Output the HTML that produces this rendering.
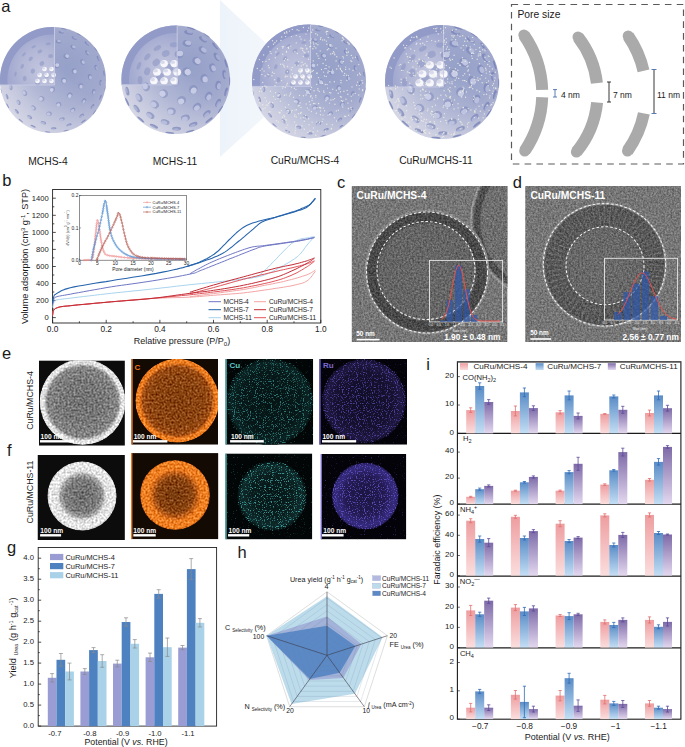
<!DOCTYPE html>
<html><head><meta charset="utf-8"><style>
html,body{margin:0;padding:0;background:#fff;overflow:hidden;}
svg{display:block;font-family:"Liberation Sans",sans-serif;}
</style></head><body>
<svg width="685" height="747" viewBox="0 0 685 747" font-family="Liberation Sans, sans-serif">
<rect width="685" height="747" fill="#fff"/>
<defs>
<radialGradient id="sph" cx="0.45" cy="0.45" r="0.6">
 <stop offset="0" stop-color="#8f9ccc"/><stop offset="0.7" stop-color="#a3acd4"/><stop offset="1" stop-color="#c4c8e0"/>
</radialGradient>
<linearGradient id="tri" x1="0" y1="0" x2="1" y2="0">
 <stop offset="0" stop-color="#edf3fa"/><stop offset="1" stop-color="#f7fafd"/>
</linearGradient>
<linearGradient id="gp" x1="0" y1="0" x2="0" y2="1"><stop offset="0" stop-color="#ee9d9f"/><stop offset="1" stop-color="#fbdede"/></linearGradient>
<linearGradient id="gb" x1="0" y1="0" x2="0" y2="1"><stop offset="0" stop-color="#5a8cc6"/><stop offset="1" stop-color="#c4def4"/></linearGradient>
<linearGradient id="gv" x1="0" y1="0" x2="0" y2="1"><stop offset="0" stop-color="#7d6aa8"/><stop offset="1" stop-color="#e3d8ef"/></linearGradient>
<filter id="noise" x="0" y="0" width="1" height="1"><feTurbulence type="fractalNoise" baseFrequency="0.9" numOctaves="2" seed="4"/><feColorMatrix type="saturate" values="0"/><feComponentTransfer><feFuncA type="linear" slope="0.5"/></feComponentTransfer></filter>
</defs>
<text x="1.2" y="11.8" font-size="16.5" text-anchor="start" fill="#1a1a1a" font-weight="normal" >a</text>
<path d="M220,0 L305,80 L220,157 Z" fill="url(#tri)"/>
<radialGradient id="sph2" cx="0.62" cy="0.4" r="0.78" fx="0.64" fy="0.38">
 <stop offset="0" stop-color="#96a1c9"/><stop offset="0.45" stop-color="#a1a9cd"/><stop offset="0.8" stop-color="#bdc0d8"/><stop offset="1" stop-color="#d6d6e4"/>
</radialGradient>
<linearGradient id="sphl" x1="0.1" y1="0.9" x2="0.6" y2="0.4">
 <stop offset="0" stop-color="#f2f2f6" stop-opacity="0.45"/><stop offset="1" stop-color="#f2f2f6" stop-opacity="0"/>
</linearGradient>
<radialGradient id="inner" cx="0.7" cy="0.7" r="0.7">
 <stop offset="0" stop-color="#c2c5de"/><stop offset="0.6" stop-color="#b2b7d6"/><stop offset="1" stop-color="#a2a9d0"/>
</radialGradient>
<clipPath id="sc1"><circle cx="53" cy="80" r="53"/></clipPath>
<circle cx="53" cy="80" r="53" fill="url(#sph2)"/>
<circle cx="53" cy="80" r="53" fill="url(#sphl)"/>
<path d="M54.5,85 L0.2,85 A53,53 0 0 1 54.5,27.0 Z" fill="#929bc7"/>
<path d="M54.5,85 L7.7,85 A45.58,45.58 0 0 1 54.5,34.4 Z" fill="url(#inner)"/>
<ellipse cx="47.7" cy="131.9" rx="0.48" ry="2.80" transform="rotate(96 47.7 131.9)" fill="#6f7bb3" fill-opacity="0.76"/>
<ellipse cx="48.2" cy="132.5" rx="0.34" ry="1.96" transform="rotate(96 47.7 131.9)" fill="#d2d6ec" fill-opacity="0.15"/>
<ellipse cx="66.1" cy="130.5" rx="0.49" ry="2.80" transform="rotate(76 66.1 130.5)" fill="#6f7bb3" fill-opacity="0.76"/>
<ellipse cx="66.6" cy="131.1" rx="0.34" ry="1.96" transform="rotate(76 66.1 130.5)" fill="#d2d6ec" fill-opacity="0.16"/>
<ellipse cx="53.8" cy="128.4" rx="1.14" ry="2.80" transform="rotate(89 53.8 128.4)" fill="#6f7bb3" fill-opacity="0.65"/>
<ellipse cx="54.4" cy="129.0" rx="0.80" ry="1.96" transform="rotate(89 53.8 128.4)" fill="#d2d6ec" fill-opacity="0.37"/>
<ellipse cx="33.1" cy="126.3" rx="0.87" ry="2.80" transform="rotate(113 33.1 126.3)" fill="#6f7bb3" fill-opacity="0.69"/>
<ellipse cx="33.7" cy="126.8" rx="0.61" ry="1.96" transform="rotate(113 33.1 126.3)" fill="#d2d6ec" fill-opacity="0.28"/>
<ellipse cx="69.0" cy="124.9" rx="1.23" ry="2.80" transform="rotate(70 69.0 124.9)" fill="#6f7bb3" fill-opacity="0.63"/>
<ellipse cx="69.6" cy="125.4" rx="0.86" ry="1.96" transform="rotate(70 69.0 124.9)" fill="#d2d6ec" fill-opacity="0.39"/>
<ellipse cx="43.4" cy="122.8" rx="1.57" ry="2.80" transform="rotate(103 43.4 122.8)" fill="#6f7bb3" fill-opacity="0.57"/>
<ellipse cx="43.9" cy="123.3" rx="1.10" ry="1.96" transform="rotate(103 43.4 122.8)" fill="#d2d6ec" fill-opacity="0.51"/>
<ellipse cx="83.5" cy="121.3" rx="0.68" ry="2.80" transform="rotate(54 83.5 121.3)" fill="#6f7bb3" fill-opacity="0.73"/>
<ellipse cx="84.1" cy="121.9" rx="0.48" ry="1.96" transform="rotate(54 83.5 121.3)" fill="#d2d6ec" fill-opacity="0.22"/>
<ellipse cx="20.9" cy="120.6" rx="0.60" ry="2.80" transform="rotate(128 20.9 120.6)" fill="#6f7bb3" fill-opacity="0.74"/>
<ellipse cx="21.5" cy="121.2" rx="0.42" ry="1.96" transform="rotate(128 20.9 120.6)" fill="#d2d6ec" fill-opacity="0.19"/>
<ellipse cx="62.0" cy="119.2" rx="1.82" ry="2.80" transform="rotate(77 62.0 119.2)" fill="#6f7bb3" fill-opacity="0.52"/>
<ellipse cx="62.5" cy="119.8" rx="1.28" ry="1.96" transform="rotate(77 62.0 119.2)" fill="#d2d6ec" fill-opacity="0.59"/>
<ellipse cx="29.7" cy="117.1" rx="1.58" ry="2.80" transform="rotate(122 29.7 117.1)" fill="#6f7bb3" fill-opacity="0.57"/>
<ellipse cx="30.3" cy="117.7" rx="1.10" ry="1.96" transform="rotate(122 29.7 117.1)" fill="#d2d6ec" fill-opacity="0.51"/>
<ellipse cx="81.7" cy="115.7" rx="1.41" ry="2.80" transform="rotate(51 81.7 115.7)" fill="#6f7bb3" fill-opacity="0.60"/>
<ellipse cx="82.2" cy="116.2" rx="0.99" ry="1.96" transform="rotate(51 81.7 115.7)" fill="#d2d6ec" fill-opacity="0.45"/>
<ellipse cx="49.1" cy="113.6" rx="2.16" ry="2.80" transform="rotate(97 49.1 113.6)" fill="#6f7bb3" fill-opacity="0.46"/>
<ellipse cx="49.6" cy="114.1" rx="1.51" ry="1.96" transform="rotate(97 49.1 113.6)" fill="#d2d6ec" fill-opacity="0.69"/>
<ellipse cx="94.4" cy="112.2" rx="0.41" ry="2.80" transform="rotate(38 94.4 112.2)" fill="#6f7bb3" fill-opacity="0.78"/>
<ellipse cx="95.0" cy="112.7" rx="0.28" ry="1.96" transform="rotate(38 94.4 112.2)" fill="#d2d6ec" fill-opacity="0.13"/>
<ellipse cx="16.8" cy="111.4" rx="1.19" ry="2.80" transform="rotate(139 16.8 111.4)" fill="#6f7bb3" fill-opacity="0.64"/>
<ellipse cx="17.4" cy="112.0" rx="0.84" ry="1.96" transform="rotate(139 16.8 111.4)" fill="#d2d6ec" fill-opacity="0.38"/>
<ellipse cx="72.8" cy="110.0" rx="2.06" ry="2.80" transform="rotate(57 72.8 110.0)" fill="#6f7bb3" fill-opacity="0.48"/>
<ellipse cx="73.3" cy="110.6" rx="1.44" ry="1.96" transform="rotate(57 72.8 110.0)" fill="#d2d6ec" fill-opacity="0.66"/>
<ellipse cx="33.5" cy="107.9" rx="2.15" ry="2.80" transform="rotate(125 33.5 107.9)" fill="#6f7bb3" fill-opacity="0.47"/>
<ellipse cx="34.1" cy="108.5" rx="1.50" ry="1.96" transform="rotate(125 33.5 107.9)" fill="#d2d6ec" fill-opacity="0.69"/>
<ellipse cx="92.5" cy="106.5" rx="1.23" ry="2.80" transform="rotate(34 92.5 106.5)" fill="#6f7bb3" fill-opacity="0.63"/>
<ellipse cx="93.1" cy="107.1" rx="0.86" ry="1.96" transform="rotate(34 92.5 106.5)" fill="#d2d6ec" fill-opacity="0.40"/>
<ellipse cx="7.7" cy="105.8" rx="0.50" ry="2.80" transform="rotate(150 7.7 105.8)" fill="#6f7bb3" fill-opacity="0.76"/>
<ellipse cx="8.3" cy="106.4" rx="0.35" ry="1.96" transform="rotate(150 7.7 105.8)" fill="#d2d6ec" fill-opacity="0.16"/>
<ellipse cx="58.6" cy="104.4" rx="2.47" ry="2.80" transform="rotate(77 58.6 104.4)" fill="#6f7bb3" fill-opacity="0.41"/>
<ellipse cx="59.2" cy="104.9" rx="1.73" ry="1.96" transform="rotate(77 58.6 104.4)" fill="#d2d6ec" fill-opacity="0.79"/>
<ellipse cx="18.6" cy="102.3" rx="1.78" ry="2.80" transform="rotate(147 18.6 102.3)" fill="#6f7bb3" fill-opacity="0.53"/>
<ellipse cx="19.2" cy="102.8" rx="1.24" ry="1.96" transform="rotate(147 18.6 102.3)" fill="#d2d6ec" fill-opacity="0.57"/>
<ellipse cx="83.9" cy="100.8" rx="1.99" ry="2.80" transform="rotate(34 83.9 100.8)" fill="#6f7bb3" fill-opacity="0.49"/>
<ellipse cx="84.4" cy="101.4" rx="1.39" ry="1.96" transform="rotate(34 83.9 100.8)" fill="#d2d6ec" fill-opacity="0.64"/>
<ellipse cx="41.7" cy="98.7" rx="2.55" ry="2.80" transform="rotate(121 41.7 98.7)" fill="#6f7bb3" fill-opacity="0.39"/>
<ellipse cx="42.3" cy="99.3" rx="1.79" ry="1.96" transform="rotate(121 41.7 98.7)" fill="#d2d6ec" fill-opacity="0.82"/>
<ellipse cx="100.6" cy="97.3" rx="0.83" ry="2.80" transform="rotate(20 100.6 97.3)" fill="#6f7bb3" fill-opacity="0.70"/>
<ellipse cx="101.1" cy="97.9" rx="0.58" ry="1.96" transform="rotate(20 100.6 97.3)" fill="#d2d6ec" fill-opacity="0.27"/>
<ellipse cx="7.1" cy="96.6" rx="1.09" ry="2.80" transform="rotate(160 7.1 96.6)" fill="#6f7bb3" fill-opacity="0.65"/>
<ellipse cx="7.7" cy="97.2" rx="0.77" ry="1.96" transform="rotate(160 7.1 96.6)" fill="#d2d6ec" fill-opacity="0.35"/>
<ellipse cx="69.8" cy="95.2" rx="2.53" ry="2.80" transform="rotate(42 69.8 95.2)" fill="#6f7bb3" fill-opacity="0.40"/>
<ellipse cx="70.3" cy="95.8" rx="1.77" ry="1.96" transform="rotate(42 69.8 95.2)" fill="#d2d6ec" fill-opacity="0.81"/>
<ellipse cx="24.8" cy="93.1" rx="2.27" ry="2.80" transform="rotate(155 24.8 93.1)" fill="#6f7bb3" fill-opacity="0.44"/>
<ellipse cx="25.4" cy="93.6" rx="1.59" ry="1.96" transform="rotate(155 24.8 93.1)" fill="#d2d6ec" fill-opacity="0.73"/>
<ellipse cx="93.6" cy="91.7" rx="1.69" ry="2.80" transform="rotate(16 93.6 91.7)" fill="#6f7bb3" fill-opacity="0.55"/>
<ellipse cx="94.2" cy="92.2" rx="1.18" ry="1.96" transform="rotate(16 93.6 91.7)" fill="#d2d6ec" fill-opacity="0.54"/>
<ellipse cx="1.3" cy="91.0" rx="0.20" ry="2.80" transform="rotate(168 1.3 91.0)" fill="#6f7bb3" fill-opacity="0.81"/>
<ellipse cx="1.8" cy="91.5" rx="0.14" ry="1.96" transform="rotate(168 1.3 91.0)" fill="#d2d6ec" fill-opacity="0.06"/>
<ellipse cx="52.3" cy="89.5" rx="2.75" ry="2.80" transform="rotate(94 52.3 89.5)" fill="#6f7bb3" fill-opacity="0.36"/>
<ellipse cx="52.8" cy="90.1" rx="1.93" ry="1.96" transform="rotate(94 52.3 89.5)" fill="#d2d6ec" fill-opacity="0.89"/>
<ellipse cx="105.1" cy="88.1" rx="0.28" ry="2.80" transform="rotate(9 105.1 88.1)" fill="#6f7bb3" fill-opacity="0.80"/>
<ellipse cx="105.7" cy="88.7" rx="0.20" ry="1.96" transform="rotate(9 105.1 88.1)" fill="#d2d6ec" fill-opacity="0.09"/>
<ellipse cx="10.9" cy="87.4" rx="1.66" ry="2.80" transform="rotate(170 10.9 87.4)" fill="#6f7bb3" fill-opacity="0.55"/>
<ellipse cx="11.5" cy="88.0" rx="1.16" ry="1.96" transform="rotate(170 10.9 87.4)" fill="#d2d6ec" fill-opacity="0.53"/>
<ellipse cx="80.7" cy="86.0" rx="2.37" ry="2.80" transform="rotate(12 80.7 86.0)" fill="#6f7bb3" fill-opacity="0.43"/>
<ellipse cx="81.2" cy="86.6" rx="1.66" ry="1.96" transform="rotate(12 80.7 86.0)" fill="#d2d6ec" fill-opacity="0.76"/>
<ellipse cx="37.6" cy="83.2" rx="2.35" ry="2.52" transform="rotate(168 37.6 83.2)" fill="#8e97c4" fill-opacity="0.6"/>
<ellipse cx="100.6" cy="82.5" rx="1.22" ry="2.80" transform="rotate(3 100.6 82.5)" fill="#6f7bb3" fill-opacity="0.63"/>
<ellipse cx="101.2" cy="83.0" rx="0.85" ry="1.96" transform="rotate(3 100.6 82.5)" fill="#d2d6ec" fill-opacity="0.39"/>
<ellipse cx="63.7" cy="80.4" rx="2.74" ry="2.80" transform="rotate(2 63.7 80.4)" fill="#6f7bb3" fill-opacity="0.36"/>
<ellipse cx="64.2" cy="80.9" rx="1.92" ry="1.96" transform="rotate(2 63.7 80.4)" fill="#d2d6ec" fill-opacity="0.88"/>
<ellipse cx="24.7" cy="78.6" rx="1.90" ry="2.52" transform="rotate(-177 24.7 78.6)" fill="#8e97c4" fill-opacity="0.6"/>
<ellipse cx="89.8" cy="76.8" rx="2.01" ry="2.80" transform="rotate(-5 89.8 76.8)" fill="#6f7bb3" fill-opacity="0.49"/>
<ellipse cx="90.4" cy="77.4" rx="1.41" ry="1.96" transform="rotate(-5 89.8 76.8)" fill="#d2d6ec" fill-opacity="0.65"/>
<ellipse cx="46.7" cy="75.7" rx="2.48" ry="2.52" transform="rotate(-146 46.7 75.7)" fill="#8e97c4" fill-opacity="0.6"/>
<ellipse cx="104.1" cy="73.3" rx="0.65" ry="2.80" transform="rotate(-7 104.1 73.3)" fill="#6f7bb3" fill-opacity="0.73"/>
<ellipse cx="104.7" cy="73.8" rx="0.45" ry="1.96" transform="rotate(-7 104.1 73.3)" fill="#d2d6ec" fill-opacity="0.21"/>
<ellipse cx="15.5" cy="73.9" rx="1.21" ry="2.52" transform="rotate(-171 15.5 73.9)" fill="#8e97c4" fill-opacity="0.6"/>
<ellipse cx="74.3" cy="71.2" rx="2.52" ry="2.80" transform="rotate(-23 74.3 71.2)" fill="#6f7bb3" fill-opacity="0.40"/>
<ellipse cx="74.8" cy="71.7" rx="1.77" ry="1.96" transform="rotate(-23 74.3 71.2)" fill="#d2d6ec" fill-opacity="0.81"/>
<ellipse cx="32.8" cy="71.1" rx="2.17" ry="2.52" transform="rotate(-156 32.8 71.1)" fill="#8e97c4" fill-opacity="0.6"/>
<ellipse cx="96.0" cy="67.6" rx="1.50" ry="2.80" transform="rotate(-16 96.0 67.6)" fill="#6f7bb3" fill-opacity="0.58"/>
<ellipse cx="96.5" cy="68.2" rx="1.05" ry="1.96" transform="rotate(-16 96.0 67.6)" fill="#d2d6ec" fill-opacity="0.48"/>
<ellipse cx="56.5" cy="65.5" rx="2.69" ry="2.80" transform="rotate(-76 56.5 65.5)" fill="#6f7bb3" fill-opacity="0.37"/>
<ellipse cx="57.1" cy="66.1" rx="1.88" ry="1.96" transform="rotate(-76 56.5 65.5)" fill="#d2d6ec" fill-opacity="0.86"/>
<ellipse cx="22.2" cy="66.4" rx="1.58" ry="2.52" transform="rotate(-156 22.2 66.4)" fill="#8e97c4" fill-opacity="0.6"/>
<ellipse cx="82.6" cy="62.0" rx="2.12" ry="2.80" transform="rotate(-31 82.6 62.0)" fill="#6f7bb3" fill-opacity="0.47"/>
<ellipse cx="83.1" cy="62.5" rx="1.48" ry="1.96" transform="rotate(-31 82.6 62.0)" fill="#d2d6ec" fill-opacity="0.68"/>
<ellipse cx="41.9" cy="63.5" rx="2.24" ry="2.52" transform="rotate(-124 41.9 63.5)" fill="#8e97c4" fill-opacity="0.6"/>
<ellipse cx="98.2" cy="58.4" rx="0.92" ry="2.80" transform="rotate(-26 98.2 58.4)" fill="#6f7bb3" fill-opacity="0.69"/>
<ellipse cx="98.7" cy="59.0" rx="0.65" ry="1.96" transform="rotate(-26 98.2 58.4)" fill="#d2d6ec" fill-opacity="0.30"/>
<ellipse cx="66.3" cy="56.3" rx="2.40" ry="2.80" transform="rotate(-61 66.3 56.3)" fill="#6f7bb3" fill-opacity="0.42"/>
<ellipse cx="66.9" cy="56.9" rx="1.68" ry="1.96" transform="rotate(-61 66.3 56.3)" fill="#d2d6ec" fill-opacity="0.77"/>
<ellipse cx="30.7" cy="58.9" rx="1.78" ry="2.52" transform="rotate(-137 30.7 58.9)" fill="#8e97c4" fill-opacity="0.6"/>
<ellipse cx="87.2" cy="52.8" rx="1.58" ry="2.80" transform="rotate(-38 87.2 52.8)" fill="#6f7bb3" fill-opacity="0.57"/>
<ellipse cx="87.8" cy="53.4" rx="1.11" ry="1.96" transform="rotate(-38 87.2 52.8)" fill="#d2d6ec" fill-opacity="0.51"/>
<ellipse cx="50.7" cy="56.0" rx="2.09" ry="2.52" transform="rotate(-96 50.7 56.0)" fill="#8e97c4" fill-opacity="0.6"/>
<ellipse cx="95.7" cy="49.3" rx="0.35" ry="2.80" transform="rotate(-36 95.7 49.3)" fill="#6f7bb3" fill-opacity="0.79"/>
<ellipse cx="96.2" cy="49.8" rx="0.24" ry="1.96" transform="rotate(-36 95.7 49.3)" fill="#d2d6ec" fill-opacity="0.11"/>
<ellipse cx="24.0" cy="54.3" rx="1.13" ry="2.52" transform="rotate(-138 24.0 54.3)" fill="#8e97c4" fill-opacity="0.6"/>
<ellipse cx="73.0" cy="47.1" rx="1.93" ry="2.80" transform="rotate(-59 73.0 47.1)" fill="#6f7bb3" fill-opacity="0.51"/>
<ellipse cx="73.6" cy="47.7" rx="1.35" ry="1.96" transform="rotate(-59 73.0 47.1)" fill="#d2d6ec" fill-opacity="0.62"/>
<ellipse cx="39.9" cy="51.4" rx="1.73" ry="2.52" transform="rotate(-115 39.9 51.4)" fill="#8e97c4" fill-opacity="0.6"/>
<ellipse cx="86.8" cy="43.6" rx="0.98" ry="2.80" transform="rotate(-47 86.8 43.6)" fill="#6f7bb3" fill-opacity="0.67"/>
<ellipse cx="87.3" cy="44.2" rx="0.69" ry="1.96" transform="rotate(-47 86.8 43.6)" fill="#d2d6ec" fill-opacity="0.32"/>
<ellipse cx="58.5" cy="41.5" rx="1.90" ry="2.80" transform="rotate(-82 58.5 41.5)" fill="#6f7bb3" fill-opacity="0.51"/>
<ellipse cx="59.1" cy="42.0" rx="1.33" ry="1.96" transform="rotate(-82 58.5 41.5)" fill="#d2d6ec" fill-opacity="0.61"/>
<ellipse cx="33.7" cy="46.8" rx="1.17" ry="2.52" transform="rotate(-120 33.7 46.8)" fill="#8e97c4" fill-opacity="0.6"/>
<ellipse cx="74.2" cy="38.0" rx="1.28" ry="2.80" transform="rotate(-63 74.2 38.0)" fill="#6f7bb3" fill-opacity="0.62"/>
<ellipse cx="74.8" cy="38.5" rx="0.90" ry="1.96" transform="rotate(-63 74.2 38.0)" fill="#d2d6ec" fill-opacity="0.41"/>
<ellipse cx="48.3" cy="43.9" rx="1.37" ry="2.52" transform="rotate(-97 48.3 43.9)" fill="#8e97c4" fill-opacity="0.6"/>
<ellipse cx="78.9" cy="34.4" rx="0.40" ry="2.80" transform="rotate(-60 78.9 34.4)" fill="#6f7bb3" fill-opacity="0.78"/>
<ellipse cx="79.5" cy="35.0" rx="0.28" ry="1.96" transform="rotate(-60 78.9 34.4)" fill="#d2d6ec" fill-opacity="0.13"/>
<ellipse cx="61.3" cy="32.3" rx="1.14" ry="2.80" transform="rotate(-80 61.3 32.3)" fill="#6f7bb3" fill-opacity="0.65"/>
<ellipse cx="61.9" cy="32.9" rx="0.80" ry="1.96" transform="rotate(-80 61.3 32.3)" fill="#d2d6ec" fill-opacity="0.37"/>
<ellipse cx="63.9" cy="28.8" rx="0.43" ry="2.80" transform="rotate(-78 63.9 28.8)" fill="#6f7bb3" fill-opacity="0.77"/>
<ellipse cx="64.5" cy="29.3" rx="0.30" ry="1.96" transform="rotate(-78 63.9 28.8)" fill="#d2d6ec" fill-opacity="0.14"/>
<ellipse cx="39.6" cy="75.0" rx="2.38" ry="2.24" fill="#f7f7fc"/>
<ellipse cx="38.8" cy="74.2" rx="1.40" ry="1.12" fill="#b8bddb" fill-opacity="0.5"/>
<ellipse cx="37.5" cy="81.0" rx="2.38" ry="2.24" fill="#f7f7fc"/>
<ellipse cx="36.7" cy="80.2" rx="1.40" ry="1.12" fill="#b8bddb" fill-opacity="0.5"/>
<ellipse cx="44.5" cy="69.1" rx="2.38" ry="2.24" fill="#f7f7fc"/>
<ellipse cx="43.7" cy="68.3" rx="1.40" ry="1.12" fill="#b8bddb" fill-opacity="0.5"/>
<ellipse cx="46.6" cy="75.0" rx="2.38" ry="2.24" fill="#f7f7fc"/>
<ellipse cx="45.8" cy="74.2" rx="1.40" ry="1.12" fill="#b8bddb" fill-opacity="0.5"/>
<ellipse cx="44.5" cy="81.0" rx="2.38" ry="2.24" fill="#f7f7fc"/>
<ellipse cx="43.7" cy="80.2" rx="1.40" ry="1.12" fill="#b8bddb" fill-opacity="0.5"/>
<ellipse cx="51.5" cy="69.1" rx="2.38" ry="2.24" fill="#f7f7fc"/>
<ellipse cx="50.7" cy="68.3" rx="1.40" ry="1.12" fill="#b8bddb" fill-opacity="0.5"/>
<ellipse cx="53.6" cy="75.0" rx="2.38" ry="2.24" fill="#f7f7fc"/>
<ellipse cx="52.8" cy="74.2" rx="1.40" ry="1.12" fill="#b8bddb" fill-opacity="0.5"/>
<ellipse cx="51.5" cy="81.0" rx="2.38" ry="2.24" fill="#f7f7fc"/>
<ellipse cx="50.7" cy="80.2" rx="1.40" ry="1.12" fill="#b8bddb" fill-opacity="0.5"/>
<line x1="0.2" y1="85" x2="54.5" y2="85" stroke="#c8cce4" stroke-width="0.9"/><line x1="54.5" y1="27.0" x2="54.5" y2="85" stroke="#c8cce4" stroke-width="0.9"/>
<clipPath id="sc2"><circle cx="175.7" cy="79.8" r="54.3"/></clipPath>
<circle cx="175.7" cy="79.8" r="54.3" fill="url(#sph2)"/>
<circle cx="175.7" cy="79.8" r="54.3" fill="url(#sphl)"/>
<path d="M177.2,84.8 L121.6,84.8 A54.3,54.3 0 0 1 177.2,25.5 Z" fill="#929bc7"/>
<path d="M177.2,84.8 L129.3,84.8 A46.69799999999999,46.69799999999999 0 0 1 177.2,33.1 Z" fill="url(#inner)"/>
<ellipse cx="169.8" cy="132.8" rx="0.83" ry="4.50" transform="rotate(96 169.8 132.8)" fill="#6f7bb3" fill-opacity="0.76"/>
<ellipse cx="170.7" cy="133.7" rx="0.58" ry="3.15" transform="rotate(96 169.8 132.8)" fill="#d2d6ec" fill-opacity="0.17"/>
<ellipse cx="190.0" cy="131.2" rx="0.84" ry="4.50" transform="rotate(74 190.0 131.2)" fill="#6f7bb3" fill-opacity="0.76"/>
<ellipse cx="190.9" cy="132.1" rx="0.59" ry="3.15" transform="rotate(74 190.0 131.2)" fill="#d2d6ec" fill-opacity="0.17"/>
<ellipse cx="176.6" cy="128.7" rx="1.96" ry="4.50" transform="rotate(89 176.6 128.7)" fill="#6f7bb3" fill-opacity="0.63"/>
<ellipse cx="177.5" cy="129.6" rx="1.37" ry="3.15" transform="rotate(89 176.6 128.7)" fill="#d2d6ec" fill-opacity="0.39"/>
<ellipse cx="153.9" cy="126.2" rx="1.49" ry="4.50" transform="rotate(115 153.9 126.2)" fill="#6f7bb3" fill-opacity="0.68"/>
<ellipse cx="154.8" cy="127.1" rx="1.05" ry="3.15" transform="rotate(115 153.9 126.2)" fill="#d2d6ec" fill-opacity="0.30"/>
<ellipse cx="193.2" cy="124.5" rx="2.10" ry="4.50" transform="rotate(69 193.2 124.5)" fill="#6f7bb3" fill-opacity="0.62"/>
<ellipse cx="194.1" cy="125.4" rx="1.47" ry="3.15" transform="rotate(69 193.2 124.5)" fill="#d2d6ec" fill-opacity="0.42"/>
<ellipse cx="165.2" cy="122.0" rx="2.70" ry="4.50" transform="rotate(104 165.2 122.0)" fill="#6f7bb3" fill-opacity="0.55"/>
<ellipse cx="166.1" cy="122.9" rx="1.89" ry="3.15" transform="rotate(104 165.2 122.0)" fill="#d2d6ec" fill-opacity="0.54"/>
<ellipse cx="209.0" cy="120.3" rx="1.17" ry="4.50" transform="rotate(51 209.0 120.3)" fill="#6f7bb3" fill-opacity="0.72"/>
<ellipse cx="209.9" cy="121.2" rx="0.82" ry="3.15" transform="rotate(51 209.0 120.3)" fill="#d2d6ec" fill-opacity="0.23"/>
<ellipse cx="140.8" cy="119.5" rx="1.03" ry="4.50" transform="rotate(131 140.8 119.5)" fill="#6f7bb3" fill-opacity="0.74"/>
<ellipse cx="141.7" cy="120.4" rx="0.72" ry="3.15" transform="rotate(131 140.8 119.5)" fill="#d2d6ec" fill-opacity="0.21"/>
<ellipse cx="185.4" cy="117.8" rx="3.11" ry="4.50" transform="rotate(76 185.4 117.8)" fill="#6f7bb3" fill-opacity="0.50"/>
<ellipse cx="186.3" cy="118.7" rx="2.18" ry="3.15" transform="rotate(76 185.4 117.8)" fill="#d2d6ec" fill-opacity="0.62"/>
<ellipse cx="150.4" cy="115.3" rx="2.68" ry="4.50" transform="rotate(125 150.4 115.3)" fill="#6f7bb3" fill-opacity="0.55"/>
<ellipse cx="151.3" cy="116.2" rx="1.88" ry="3.15" transform="rotate(125 150.4 115.3)" fill="#d2d6ec" fill-opacity="0.54"/>
<ellipse cx="206.8" cy="113.6" rx="2.40" ry="4.50" transform="rotate(47 206.8 113.6)" fill="#6f7bb3" fill-opacity="0.58"/>
<ellipse cx="207.7" cy="114.5" rx="1.68" ry="3.15" transform="rotate(47 206.8 113.6)" fill="#d2d6ec" fill-opacity="0.48"/>
<ellipse cx="171.4" cy="111.1" rx="3.66" ry="4.50" transform="rotate(98 171.4 111.1)" fill="#6f7bb3" fill-opacity="0.44"/>
<ellipse cx="172.3" cy="112.0" rx="2.56" ry="3.15" transform="rotate(98 171.4 111.1)" fill="#d2d6ec" fill-opacity="0.73"/>
<ellipse cx="220.4" cy="109.5" rx="0.69" ry="4.50" transform="rotate(34 220.4 109.5)" fill="#6f7bb3" fill-opacity="0.77"/>
<ellipse cx="221.3" cy="110.4" rx="0.48" ry="3.15" transform="rotate(34 220.4 109.5)" fill="#d2d6ec" fill-opacity="0.14"/>
<ellipse cx="136.7" cy="108.6" rx="2.02" ry="4.50" transform="rotate(144 136.7 108.6)" fill="#6f7bb3" fill-opacity="0.63"/>
<ellipse cx="137.6" cy="109.5" rx="1.41" ry="3.15" transform="rotate(144 136.7 108.6)" fill="#d2d6ec" fill-opacity="0.40"/>
<ellipse cx="197.0" cy="106.9" rx="3.47" ry="4.50" transform="rotate(52 197.0 106.9)" fill="#6f7bb3" fill-opacity="0.46"/>
<ellipse cx="197.9" cy="107.8" rx="2.43" ry="3.15" transform="rotate(52 197.0 106.9)" fill="#d2d6ec" fill-opacity="0.69"/>
<ellipse cx="154.8" cy="104.4" rx="3.62" ry="4.50" transform="rotate(130 154.8 104.4)" fill="#6f7bb3" fill-opacity="0.45"/>
<ellipse cx="155.7" cy="105.3" rx="2.53" ry="3.15" transform="rotate(130 154.8 104.4)" fill="#d2d6ec" fill-opacity="0.72"/>
<ellipse cx="218.0" cy="102.8" rx="2.08" ry="4.50" transform="rotate(28 218.0 102.8)" fill="#6f7bb3" fill-opacity="0.62"/>
<ellipse cx="218.9" cy="103.7" rx="1.45" ry="3.15" transform="rotate(28 218.0 102.8)" fill="#d2d6ec" fill-opacity="0.42"/>
<ellipse cx="127.2" cy="101.9" rx="0.85" ry="4.50" transform="rotate(155 127.2 101.9)" fill="#6f7bb3" fill-opacity="0.76"/>
<ellipse cx="128.1" cy="102.8" rx="0.59" ry="3.15" transform="rotate(155 127.2 101.9)" fill="#d2d6ec" fill-opacity="0.17"/>
<ellipse cx="181.7" cy="100.3" rx="4.14" ry="4.50" transform="rotate(74 181.7 100.3)" fill="#6f7bb3" fill-opacity="0.39"/>
<ellipse cx="182.6" cy="101.2" rx="2.90" ry="3.15" transform="rotate(74 181.7 100.3)" fill="#d2d6ec" fill-opacity="0.83"/>
<ellipse cx="139.1" cy="97.8" rx="2.97" ry="4.50" transform="rotate(154 139.1 97.8)" fill="#6f7bb3" fill-opacity="0.52"/>
<ellipse cx="140.0" cy="98.7" rx="2.08" ry="3.15" transform="rotate(154 139.1 97.8)" fill="#d2d6ec" fill-opacity="0.59"/>
<ellipse cx="208.5" cy="96.1" rx="3.32" ry="4.50" transform="rotate(26 208.5 96.1)" fill="#6f7bb3" fill-opacity="0.48"/>
<ellipse cx="209.4" cy="97.0" rx="2.32" ry="3.15" transform="rotate(26 208.5 96.1)" fill="#d2d6ec" fill-opacity="0.66"/>
<ellipse cx="163.7" cy="93.6" rx="4.24" ry="4.50" transform="rotate(131 163.7 93.6)" fill="#6f7bb3" fill-opacity="0.38"/>
<ellipse cx="164.6" cy="94.5" rx="2.97" ry="3.15" transform="rotate(131 163.7 93.6)" fill="#d2d6ec" fill-opacity="0.85"/>
<ellipse cx="226.0" cy="91.9" rx="1.37" ry="4.50" transform="rotate(14 226.0 91.9)" fill="#6f7bb3" fill-opacity="0.70"/>
<ellipse cx="226.9" cy="92.8" rx="0.96" ry="3.15" transform="rotate(14 226.0 91.9)" fill="#d2d6ec" fill-opacity="0.27"/>
<ellipse cx="127.3" cy="91.1" rx="1.81" ry="4.50" transform="rotate(167 127.3 91.1)" fill="#6f7bb3" fill-opacity="0.65"/>
<ellipse cx="128.2" cy="92.0" rx="1.27" ry="3.15" transform="rotate(167 127.3 91.1)" fill="#d2d6ec" fill-opacity="0.36"/>
<ellipse cx="193.3" cy="89.4" rx="4.18" ry="4.50" transform="rotate(29 193.3 89.4)" fill="#6f7bb3" fill-opacity="0.39"/>
<ellipse cx="194.2" cy="90.3" rx="2.93" ry="3.15" transform="rotate(29 193.3 89.4)" fill="#d2d6ec" fill-opacity="0.84"/>
<ellipse cx="146.2" cy="86.9" rx="3.73" ry="4.50" transform="rotate(166 146.2 86.9)" fill="#6f7bb3" fill-opacity="0.44"/>
<ellipse cx="147.1" cy="87.8" rx="2.61" ry="3.15" transform="rotate(166 146.2 86.9)" fill="#d2d6ec" fill-opacity="0.75"/>
<ellipse cx="218.1" cy="85.2" rx="2.77" ry="4.50" transform="rotate(7 218.1 85.2)" fill="#6f7bb3" fill-opacity="0.54"/>
<ellipse cx="219.0" cy="86.1" rx="1.94" ry="3.15" transform="rotate(7 218.1 85.2)" fill="#d2d6ec" fill-opacity="0.55"/>
<ellipse cx="175.1" cy="82.2" rx="4.04" ry="4.05" transform="rotate(104 175.1 82.2)" fill="#8e97c4" fill-opacity="0.6"/>
<ellipse cx="229.7" cy="81.1" rx="0.45" ry="4.50" transform="rotate(1 229.7 81.1)" fill="#6f7bb3" fill-opacity="0.80"/>
<ellipse cx="230.6" cy="82.0" rx="0.32" ry="3.15" transform="rotate(1 229.7 81.1)" fill="#d2d6ec" fill-opacity="0.09"/>
<ellipse cx="140.1" cy="80.1" rx="2.42" ry="4.05" transform="rotate(179 140.1 80.1)" fill="#8e97c4" fill-opacity="0.6"/>
<ellipse cx="204.2" cy="78.5" rx="3.83" ry="4.50" transform="rotate(-3 204.2 78.5)" fill="#6f7bb3" fill-opacity="0.42"/>
<ellipse cx="205.1" cy="79.4" rx="2.68" ry="3.15" transform="rotate(-3 204.2 78.5)" fill="#d2d6ec" fill-opacity="0.77"/>
<ellipse cx="160.0" cy="76.7" rx="3.78" ry="4.05" transform="rotate(-169 160.0 76.7)" fill="#8e97c4" fill-opacity="0.6"/>
<ellipse cx="224.3" cy="74.4" rx="1.95" ry="4.50" transform="rotate(-6 224.3 74.4)" fill="#6f7bb3" fill-opacity="0.63"/>
<ellipse cx="225.2" cy="75.3" rx="1.37" ry="3.15" transform="rotate(-6 224.3 74.4)" fill="#d2d6ec" fill-opacity="0.39"/>
<ellipse cx="186.5" cy="71.9" rx="4.36" ry="4.50" transform="rotate(-36 186.5 71.9)" fill="#6f7bb3" fill-opacity="0.37"/>
<ellipse cx="187.4" cy="72.8" rx="3.05" ry="3.15" transform="rotate(-36 186.5 71.9)" fill="#d2d6ec" fill-opacity="0.87"/>
<ellipse cx="147.2" cy="71.3" rx="3.00" ry="4.05" transform="rotate(-163 147.2 71.3)" fill="#8e97c4" fill-opacity="0.6"/>
<ellipse cx="212.5" cy="67.7" rx="3.15" ry="4.50" transform="rotate(-18 212.5 67.7)" fill="#6f7bb3" fill-opacity="0.50"/>
<ellipse cx="213.4" cy="68.6" rx="2.21" ry="3.15" transform="rotate(-18 212.5 67.7)" fill="#d2d6ec" fill-opacity="0.63"/>
<ellipse cx="169.4" cy="67.9" rx="3.86" ry="4.05" transform="rotate(-118 169.4 67.9)" fill="#8e97c4" fill-opacity="0.6"/>
<ellipse cx="226.1" cy="63.5" rx="1.00" ry="4.50" transform="rotate(-18 226.1 63.5)" fill="#6f7bb3" fill-opacity="0.74"/>
<ellipse cx="227.0" cy="64.4" rx="0.70" ry="3.15" transform="rotate(-18 226.1 63.5)" fill="#d2d6ec" fill-opacity="0.20"/>
<ellipse cx="138.9" cy="65.8" rx="1.86" ry="4.05" transform="rotate(-159 138.9 65.8)" fill="#8e97c4" fill-opacity="0.6"/>
<ellipse cx="196.4" cy="61.0" rx="3.86" ry="4.50" transform="rotate(-42 196.4 61.0)" fill="#6f7bb3" fill-opacity="0.42"/>
<ellipse cx="197.3" cy="61.9" rx="2.70" ry="3.15" transform="rotate(-42 196.4 61.0)" fill="#d2d6ec" fill-opacity="0.77"/>
<ellipse cx="156.2" cy="62.4" rx="3.27" ry="4.05" transform="rotate(-138 156.2 62.4)" fill="#8e97c4" fill-opacity="0.6"/>
<ellipse cx="216.7" cy="56.8" rx="2.25" ry="4.50" transform="rotate(-29 216.7 56.8)" fill="#6f7bb3" fill-opacity="0.60"/>
<ellipse cx="217.6" cy="57.7" rx="1.58" ry="3.15" transform="rotate(-29 216.7 56.8)" fill="#d2d6ec" fill-opacity="0.45"/>
<ellipse cx="179.0" cy="54.3" rx="3.96" ry="4.50" transform="rotate(-83 179.0 54.3)" fill="#6f7bb3" fill-opacity="0.41"/>
<ellipse cx="179.9" cy="55.2" rx="2.78" ry="3.15" transform="rotate(-83 179.0 54.3)" fill="#d2d6ec" fill-opacity="0.79"/>
<ellipse cx="147.2" cy="56.9" rx="2.30" ry="4.05" transform="rotate(-141 147.2 56.9)" fill="#8e97c4" fill-opacity="0.6"/>
<ellipse cx="202.7" cy="50.1" rx="3.03" ry="4.50" transform="rotate(-48 202.7 50.1)" fill="#6f7bb3" fill-opacity="0.51"/>
<ellipse cx="203.6" cy="51.0" rx="2.12" ry="3.15" transform="rotate(-48 202.7 50.1)" fill="#d2d6ec" fill-opacity="0.61"/>
<ellipse cx="165.8" cy="53.5" rx="3.13" ry="4.05" transform="rotate(-111 165.8 53.5)" fill="#8e97c4" fill-opacity="0.6"/>
<ellipse cx="215.3" cy="46.0" rx="1.27" ry="4.50" transform="rotate(-40 215.3 46.0)" fill="#6f7bb3" fill-opacity="0.71"/>
<ellipse cx="216.2" cy="46.9" rx="0.89" ry="3.15" transform="rotate(-40 215.3 46.0)" fill="#d2d6ec" fill-opacity="0.25"/>
<ellipse cx="187.1" cy="43.5" rx="3.21" ry="4.50" transform="rotate(-73 187.1 43.5)" fill="#6f7bb3" fill-opacity="0.49"/>
<ellipse cx="188.0" cy="44.4" rx="2.25" ry="3.15" transform="rotate(-73 187.1 43.5)" fill="#d2d6ec" fill-opacity="0.64"/>
<ellipse cx="157.4" cy="48.1" rx="2.28" ry="4.05" transform="rotate(-120 157.4 48.1)" fill="#8e97c4" fill-opacity="0.6"/>
<ellipse cx="202.9" cy="39.3" rx="1.97" ry="4.50" transform="rotate(-56 202.9 39.3)" fill="#6f7bb3" fill-opacity="0.63"/>
<ellipse cx="203.8" cy="40.2" rx="1.38" ry="3.15" transform="rotate(-56 202.9 39.3)" fill="#d2d6ec" fill-opacity="0.39"/>
<ellipse cx="173.9" cy="44.7" rx="2.47" ry="4.05" transform="rotate(-93 173.9 44.7)" fill="#8e97c4" fill-opacity="0.6"/>
<ellipse cx="206.2" cy="35.1" rx="0.39" ry="4.50" transform="rotate(-56 206.2 35.1)" fill="#6f7bb3" fill-opacity="0.81"/>
<ellipse cx="207.1" cy="36.0" rx="0.27" ry="3.15" transform="rotate(-56 206.2 35.1)" fill="#d2d6ec" fill-opacity="0.08"/>
<ellipse cx="188.6" cy="32.6" rx="1.95" ry="4.50" transform="rotate(-75 188.6 32.6)" fill="#6f7bb3" fill-opacity="0.63"/>
<ellipse cx="189.5" cy="33.5" rx="1.37" ry="3.15" transform="rotate(-75 188.6 32.6)" fill="#d2d6ec" fill-opacity="0.39"/>
<ellipse cx="191.1" cy="28.4" rx="0.70" ry="4.50" transform="rotate(-73 191.1 28.4)" fill="#6f7bb3" fill-opacity="0.77"/>
<ellipse cx="192.0" cy="29.3" rx="0.49" ry="3.15" transform="rotate(-73 191.1 28.4)" fill="#d2d6ec" fill-opacity="0.14"/>
<ellipse cx="157.0" cy="72.2" rx="3.82" ry="3.60" fill="#f7f7fc"/>
<ellipse cx="155.6" cy="70.8" rx="2.25" ry="1.80" fill="#b8bddb" fill-opacity="0.5"/>
<ellipse cx="153.9" cy="80.8" rx="3.82" ry="3.60" fill="#f7f7fc"/>
<ellipse cx="152.6" cy="79.5" rx="2.25" ry="1.80" fill="#b8bddb" fill-opacity="0.5"/>
<ellipse cx="164.1" cy="63.6" rx="3.82" ry="3.60" fill="#f7f7fc"/>
<ellipse cx="162.7" cy="62.2" rx="2.25" ry="1.80" fill="#b8bddb" fill-opacity="0.5"/>
<ellipse cx="167.1" cy="72.2" rx="3.82" ry="3.60" fill="#f7f7fc"/>
<ellipse cx="165.8" cy="70.8" rx="2.25" ry="1.80" fill="#b8bddb" fill-opacity="0.5"/>
<ellipse cx="164.1" cy="80.8" rx="3.82" ry="3.60" fill="#f7f7fc"/>
<ellipse cx="162.7" cy="79.5" rx="2.25" ry="1.80" fill="#b8bddb" fill-opacity="0.5"/>
<ellipse cx="174.2" cy="63.6" rx="3.82" ry="3.60" fill="#f7f7fc"/>
<ellipse cx="172.8" cy="62.2" rx="2.25" ry="1.80" fill="#b8bddb" fill-opacity="0.5"/>
<ellipse cx="177.2" cy="72.2" rx="3.82" ry="3.60" fill="#f7f7fc"/>
<ellipse cx="175.9" cy="70.8" rx="2.25" ry="1.80" fill="#b8bddb" fill-opacity="0.5"/>
<ellipse cx="174.2" cy="80.8" rx="3.82" ry="3.60" fill="#f7f7fc"/>
<ellipse cx="172.8" cy="79.5" rx="2.25" ry="1.80" fill="#b8bddb" fill-opacity="0.5"/>
<line x1="121.6" y1="84.8" x2="177.2" y2="84.8" stroke="#c8cce4" stroke-width="0.9"/><line x1="177.2" y1="25.5" x2="177.2" y2="84.8" stroke="#c8cce4" stroke-width="0.9"/>
<clipPath id="sc3"><circle cx="309" cy="81.4" r="57"/></clipPath>
<circle cx="309" cy="81.4" r="57" fill="url(#sph2)"/>
<circle cx="309" cy="81.4" r="57" fill="url(#sphl)"/>
<path d="M310.5,86.4 L252.2,86.4 A57,57 0 0 1 310.5,24.4 Z" fill="#929bc7"/>
<path d="M310.5,86.4 L260.2,86.4 A49.019999999999996,49.019999999999996 0 0 1 310.5,32.4 Z" fill="url(#inner)"/>
<ellipse cx="303.3" cy="137.3" rx="0.48" ry="2.80" transform="rotate(96 303.3 137.3)" fill="#6f7bb3" fill-opacity="0.76"/>
<ellipse cx="303.8" cy="137.8" rx="0.34" ry="1.96" transform="rotate(96 303.3 137.3)" fill="#d2d6ec" fill-opacity="0.15"/>
<ellipse cx="323.0" cy="135.7" rx="0.49" ry="2.80" transform="rotate(76 323.0 135.7)" fill="#6f7bb3" fill-opacity="0.76"/>
<ellipse cx="323.6" cy="136.3" rx="0.34" ry="1.96" transform="rotate(76 323.0 135.7)" fill="#d2d6ec" fill-opacity="0.16"/>
<ellipse cx="309.9" cy="133.5" rx="1.14" ry="2.80" transform="rotate(89 309.9 133.5)" fill="#6f7bb3" fill-opacity="0.65"/>
<ellipse cx="310.4" cy="134.0" rx="0.80" ry="1.96" transform="rotate(89 309.9 133.5)" fill="#d2d6ec" fill-opacity="0.37"/>
<ellipse cx="287.6" cy="131.2" rx="0.87" ry="2.80" transform="rotate(113 287.6 131.2)" fill="#6f7bb3" fill-opacity="0.69"/>
<ellipse cx="288.2" cy="131.7" rx="0.61" ry="1.96" transform="rotate(113 287.6 131.2)" fill="#d2d6ec" fill-opacity="0.28"/>
<ellipse cx="326.2" cy="129.7" rx="1.23" ry="2.80" transform="rotate(70 326.2 129.7)" fill="#6f7bb3" fill-opacity="0.63"/>
<ellipse cx="326.8" cy="130.2" rx="0.86" ry="1.96" transform="rotate(70 326.2 129.7)" fill="#d2d6ec" fill-opacity="0.39"/>
<ellipse cx="298.6" cy="127.4" rx="1.57" ry="2.80" transform="rotate(103 298.6 127.4)" fill="#6f7bb3" fill-opacity="0.57"/>
<ellipse cx="299.2" cy="127.9" rx="1.10" ry="1.96" transform="rotate(103 298.6 127.4)" fill="#d2d6ec" fill-opacity="0.51"/>
<ellipse cx="341.8" cy="125.9" rx="0.68" ry="2.80" transform="rotate(54 341.8 125.9)" fill="#6f7bb3" fill-opacity="0.73"/>
<ellipse cx="342.4" cy="126.4" rx="0.48" ry="1.96" transform="rotate(54 341.8 125.9)" fill="#d2d6ec" fill-opacity="0.22"/>
<ellipse cx="274.5" cy="125.1" rx="0.60" ry="2.80" transform="rotate(128 274.5 125.1)" fill="#6f7bb3" fill-opacity="0.74"/>
<ellipse cx="275.1" cy="125.7" rx="0.42" ry="1.96" transform="rotate(128 274.5 125.1)" fill="#d2d6ec" fill-opacity="0.19"/>
<ellipse cx="318.6" cy="123.6" rx="1.82" ry="2.80" transform="rotate(77 318.6 123.6)" fill="#6f7bb3" fill-opacity="0.52"/>
<ellipse cx="319.2" cy="124.1" rx="1.28" ry="1.96" transform="rotate(77 318.6 123.6)" fill="#d2d6ec" fill-opacity="0.59"/>
<ellipse cx="283.9" cy="121.3" rx="1.58" ry="2.80" transform="rotate(122 283.9 121.3)" fill="#6f7bb3" fill-opacity="0.57"/>
<ellipse cx="284.5" cy="121.9" rx="1.10" ry="1.96" transform="rotate(122 283.9 121.3)" fill="#d2d6ec" fill-opacity="0.51"/>
<ellipse cx="339.8" cy="119.8" rx="1.41" ry="2.80" transform="rotate(51 339.8 119.8)" fill="#6f7bb3" fill-opacity="0.60"/>
<ellipse cx="340.4" cy="120.3" rx="0.99" ry="1.96" transform="rotate(51 339.8 119.8)" fill="#d2d6ec" fill-opacity="0.45"/>
<ellipse cx="304.8" cy="117.5" rx="2.16" ry="2.80" transform="rotate(97 304.8 117.5)" fill="#6f7bb3" fill-opacity="0.46"/>
<ellipse cx="305.3" cy="118.1" rx="1.51" ry="1.96" transform="rotate(97 304.8 117.5)" fill="#d2d6ec" fill-opacity="0.69"/>
<ellipse cx="353.5" cy="116.0" rx="0.41" ry="2.80" transform="rotate(38 353.5 116.0)" fill="#6f7bb3" fill-opacity="0.78"/>
<ellipse cx="354.1" cy="116.5" rx="0.28" ry="1.96" transform="rotate(38 353.5 116.0)" fill="#d2d6ec" fill-opacity="0.13"/>
<ellipse cx="270.1" cy="115.2" rx="1.19" ry="2.80" transform="rotate(139 270.1 115.2)" fill="#6f7bb3" fill-opacity="0.64"/>
<ellipse cx="270.6" cy="115.8" rx="0.84" ry="1.96" transform="rotate(139 270.1 115.2)" fill="#d2d6ec" fill-opacity="0.38"/>
<ellipse cx="330.3" cy="113.7" rx="2.06" ry="2.80" transform="rotate(57 330.3 113.7)" fill="#6f7bb3" fill-opacity="0.48"/>
<ellipse cx="330.8" cy="114.3" rx="1.44" ry="1.96" transform="rotate(57 330.3 113.7)" fill="#d2d6ec" fill-opacity="0.66"/>
<ellipse cx="288.1" cy="111.4" rx="2.15" ry="2.80" transform="rotate(125 288.1 111.4)" fill="#6f7bb3" fill-opacity="0.47"/>
<ellipse cx="288.6" cy="112.0" rx="1.50" ry="1.96" transform="rotate(125 288.1 111.4)" fill="#d2d6ec" fill-opacity="0.69"/>
<ellipse cx="351.5" cy="109.9" rx="1.23" ry="2.80" transform="rotate(34 351.5 109.9)" fill="#6f7bb3" fill-opacity="0.63"/>
<ellipse cx="352.0" cy="110.5" rx="0.86" ry="1.96" transform="rotate(34 351.5 109.9)" fill="#d2d6ec" fill-opacity="0.40"/>
<ellipse cx="260.3" cy="109.1" rx="0.50" ry="2.80" transform="rotate(150 260.3 109.1)" fill="#6f7bb3" fill-opacity="0.76"/>
<ellipse cx="260.8" cy="109.7" rx="0.35" ry="1.96" transform="rotate(150 260.3 109.1)" fill="#d2d6ec" fill-opacity="0.16"/>
<ellipse cx="315.1" cy="107.6" rx="2.47" ry="2.80" transform="rotate(77 315.1 107.6)" fill="#6f7bb3" fill-opacity="0.41"/>
<ellipse cx="315.6" cy="108.2" rx="1.73" ry="1.96" transform="rotate(77 315.1 107.6)" fill="#d2d6ec" fill-opacity="0.79"/>
<ellipse cx="272.0" cy="105.3" rx="1.78" ry="2.80" transform="rotate(147 272.0 105.3)" fill="#6f7bb3" fill-opacity="0.53"/>
<ellipse cx="272.6" cy="105.9" rx="1.24" ry="1.96" transform="rotate(147 272.0 105.3)" fill="#d2d6ec" fill-opacity="0.57"/>
<ellipse cx="342.2" cy="103.8" rx="1.99" ry="2.80" transform="rotate(34 342.2 103.8)" fill="#6f7bb3" fill-opacity="0.49"/>
<ellipse cx="342.8" cy="104.4" rx="1.39" ry="1.96" transform="rotate(34 342.2 103.8)" fill="#d2d6ec" fill-opacity="0.64"/>
<ellipse cx="296.8" cy="101.5" rx="2.55" ry="2.80" transform="rotate(121 296.8 101.5)" fill="#6f7bb3" fill-opacity="0.39"/>
<ellipse cx="297.4" cy="102.1" rx="1.79" ry="1.96" transform="rotate(121 296.8 101.5)" fill="#d2d6ec" fill-opacity="0.82"/>
<ellipse cx="360.2" cy="100.0" rx="0.83" ry="2.80" transform="rotate(20 360.2 100.0)" fill="#6f7bb3" fill-opacity="0.70"/>
<ellipse cx="360.7" cy="100.6" rx="0.58" ry="1.96" transform="rotate(20 360.2 100.0)" fill="#d2d6ec" fill-opacity="0.27"/>
<ellipse cx="259.7" cy="99.3" rx="1.09" ry="2.80" transform="rotate(160 259.7 99.3)" fill="#6f7bb3" fill-opacity="0.65"/>
<ellipse cx="260.2" cy="99.8" rx="0.77" ry="1.96" transform="rotate(160 259.7 99.3)" fill="#d2d6ec" fill-opacity="0.35"/>
<ellipse cx="327.0" cy="97.7" rx="2.53" ry="2.80" transform="rotate(42 327.0 97.7)" fill="#6f7bb3" fill-opacity="0.40"/>
<ellipse cx="327.6" cy="98.3" rx="1.77" ry="1.96" transform="rotate(42 327.0 97.7)" fill="#d2d6ec" fill-opacity="0.81"/>
<ellipse cx="278.7" cy="95.5" rx="2.27" ry="2.80" transform="rotate(155 278.7 95.5)" fill="#6f7bb3" fill-opacity="0.44"/>
<ellipse cx="279.3" cy="96.0" rx="1.59" ry="1.96" transform="rotate(155 278.7 95.5)" fill="#d2d6ec" fill-opacity="0.73"/>
<ellipse cx="352.7" cy="93.9" rx="1.69" ry="2.80" transform="rotate(16 352.7 93.9)" fill="#6f7bb3" fill-opacity="0.55"/>
<ellipse cx="353.2" cy="94.5" rx="1.18" ry="1.96" transform="rotate(16 352.7 93.9)" fill="#d2d6ec" fill-opacity="0.54"/>
<ellipse cx="253.4" cy="93.2" rx="0.20" ry="2.80" transform="rotate(168 253.4 93.2)" fill="#6f7bb3" fill-opacity="0.81"/>
<ellipse cx="253.9" cy="93.7" rx="0.14" ry="1.96" transform="rotate(168 253.4 93.2)" fill="#d2d6ec" fill-opacity="0.06"/>
<ellipse cx="308.2" cy="91.7" rx="2.75" ry="2.80" transform="rotate(94 308.2 91.7)" fill="#6f7bb3" fill-opacity="0.36"/>
<ellipse cx="308.8" cy="92.2" rx="1.93" ry="1.96" transform="rotate(94 308.2 91.7)" fill="#d2d6ec" fill-opacity="0.89"/>
<ellipse cx="365.0" cy="90.1" rx="0.28" ry="2.80" transform="rotate(9 365.0 90.1)" fill="#6f7bb3" fill-opacity="0.80"/>
<ellipse cx="365.6" cy="90.7" rx="0.20" ry="1.96" transform="rotate(9 365.0 90.1)" fill="#d2d6ec" fill-opacity="0.09"/>
<ellipse cx="263.7" cy="89.4" rx="1.66" ry="2.80" transform="rotate(170 263.7 89.4)" fill="#6f7bb3" fill-opacity="0.55"/>
<ellipse cx="264.3" cy="89.9" rx="1.16" ry="1.96" transform="rotate(170 263.7 89.4)" fill="#d2d6ec" fill-opacity="0.53"/>
<ellipse cx="338.7" cy="87.9" rx="2.37" ry="2.80" transform="rotate(12 338.7 87.9)" fill="#6f7bb3" fill-opacity="0.43"/>
<ellipse cx="339.3" cy="88.4" rx="1.66" ry="1.96" transform="rotate(12 338.7 87.9)" fill="#d2d6ec" fill-opacity="0.76"/>
<ellipse cx="292.5" cy="84.8" rx="2.35" ry="2.52" transform="rotate(168 292.5 84.8)" fill="#8e97c4" fill-opacity="0.6"/>
<ellipse cx="360.2" cy="84.1" rx="1.22" ry="2.80" transform="rotate(3 360.2 84.1)" fill="#6f7bb3" fill-opacity="0.63"/>
<ellipse cx="360.8" cy="84.6" rx="0.85" ry="1.96" transform="rotate(3 360.2 84.1)" fill="#d2d6ec" fill-opacity="0.39"/>
<ellipse cx="320.5" cy="81.8" rx="2.74" ry="2.80" transform="rotate(2 320.5 81.8)" fill="#6f7bb3" fill-opacity="0.36"/>
<ellipse cx="321.0" cy="82.3" rx="1.92" ry="1.96" transform="rotate(2 320.5 81.8)" fill="#d2d6ec" fill-opacity="0.88"/>
<ellipse cx="278.5" cy="79.8" rx="1.90" ry="2.52" transform="rotate(-177 278.5 79.8)" fill="#8e97c4" fill-opacity="0.6"/>
<ellipse cx="348.6" cy="78.0" rx="2.01" ry="2.80" transform="rotate(-5 348.6 78.0)" fill="#6f7bb3" fill-opacity="0.49"/>
<ellipse cx="349.1" cy="78.5" rx="1.41" ry="1.96" transform="rotate(-5 348.6 78.0)" fill="#d2d6ec" fill-opacity="0.65"/>
<ellipse cx="302.2" cy="76.7" rx="2.48" ry="2.52" transform="rotate(-146 302.2 76.7)" fill="#8e97c4" fill-opacity="0.6"/>
<ellipse cx="364.0" cy="74.2" rx="0.65" ry="2.80" transform="rotate(-7 364.0 74.2)" fill="#6f7bb3" fill-opacity="0.73"/>
<ellipse cx="364.5" cy="74.7" rx="0.45" ry="1.96" transform="rotate(-7 364.0 74.2)" fill="#d2d6ec" fill-opacity="0.21"/>
<ellipse cx="268.7" cy="74.9" rx="1.21" ry="2.52" transform="rotate(-171 268.7 74.9)" fill="#8e97c4" fill-opacity="0.6"/>
<ellipse cx="331.9" cy="71.9" rx="2.52" ry="2.80" transform="rotate(-23 331.9 71.9)" fill="#6f7bb3" fill-opacity="0.40"/>
<ellipse cx="332.4" cy="72.5" rx="1.77" ry="1.96" transform="rotate(-23 331.9 71.9)" fill="#d2d6ec" fill-opacity="0.81"/>
<ellipse cx="287.3" cy="71.8" rx="2.17" ry="2.52" transform="rotate(-156 287.3 71.8)" fill="#8e97c4" fill-opacity="0.6"/>
<ellipse cx="355.2" cy="68.1" rx="1.50" ry="2.80" transform="rotate(-16 355.2 68.1)" fill="#6f7bb3" fill-opacity="0.58"/>
<ellipse cx="355.8" cy="68.7" rx="1.05" ry="1.96" transform="rotate(-16 355.2 68.1)" fill="#d2d6ec" fill-opacity="0.48"/>
<ellipse cx="312.8" cy="65.8" rx="2.69" ry="2.80" transform="rotate(-76 312.8 65.8)" fill="#6f7bb3" fill-opacity="0.37"/>
<ellipse cx="313.3" cy="66.4" rx="1.88" ry="1.96" transform="rotate(-76 312.8 65.8)" fill="#d2d6ec" fill-opacity="0.86"/>
<ellipse cx="275.8" cy="66.8" rx="1.58" ry="2.52" transform="rotate(-156 275.8 66.8)" fill="#8e97c4" fill-opacity="0.6"/>
<ellipse cx="340.8" cy="62.0" rx="2.12" ry="2.80" transform="rotate(-31 340.8 62.0)" fill="#6f7bb3" fill-opacity="0.47"/>
<ellipse cx="341.4" cy="62.6" rx="1.48" ry="1.96" transform="rotate(-31 340.8 62.0)" fill="#d2d6ec" fill-opacity="0.68"/>
<ellipse cx="297.0" cy="63.7" rx="2.24" ry="2.52" transform="rotate(-124 297.0 63.7)" fill="#8e97c4" fill-opacity="0.6"/>
<ellipse cx="357.6" cy="58.2" rx="0.92" ry="2.80" transform="rotate(-26 357.6 58.2)" fill="#6f7bb3" fill-opacity="0.69"/>
<ellipse cx="358.1" cy="58.8" rx="0.65" ry="1.96" transform="rotate(-26 357.6 58.2)" fill="#d2d6ec" fill-opacity="0.30"/>
<ellipse cx="323.4" cy="55.9" rx="2.40" ry="2.80" transform="rotate(-61 323.4 55.9)" fill="#6f7bb3" fill-opacity="0.42"/>
<ellipse cx="323.9" cy="56.5" rx="1.68" ry="1.96" transform="rotate(-61 323.4 55.9)" fill="#d2d6ec" fill-opacity="0.77"/>
<ellipse cx="285.0" cy="58.7" rx="1.78" ry="2.52" transform="rotate(-137 285.0 58.7)" fill="#8e97c4" fill-opacity="0.6"/>
<ellipse cx="345.8" cy="52.1" rx="1.58" ry="2.80" transform="rotate(-38 345.8 52.1)" fill="#6f7bb3" fill-opacity="0.57"/>
<ellipse cx="346.4" cy="52.7" rx="1.11" ry="1.96" transform="rotate(-38 345.8 52.1)" fill="#d2d6ec" fill-opacity="0.51"/>
<ellipse cx="306.5" cy="55.6" rx="2.09" ry="2.52" transform="rotate(-96 306.5 55.6)" fill="#8e97c4" fill-opacity="0.6"/>
<ellipse cx="354.9" cy="48.3" rx="0.35" ry="2.80" transform="rotate(-36 354.9 48.3)" fill="#6f7bb3" fill-opacity="0.79"/>
<ellipse cx="355.5" cy="48.9" rx="0.24" ry="1.96" transform="rotate(-36 354.9 48.3)" fill="#d2d6ec" fill-opacity="0.11"/>
<ellipse cx="277.8" cy="53.8" rx="1.13" ry="2.52" transform="rotate(-138 277.8 53.8)" fill="#8e97c4" fill-opacity="0.6"/>
<ellipse cx="330.5" cy="46.1" rx="1.93" ry="2.80" transform="rotate(-59 330.5 46.1)" fill="#6f7bb3" fill-opacity="0.51"/>
<ellipse cx="331.1" cy="46.6" rx="1.35" ry="1.96" transform="rotate(-59 330.5 46.1)" fill="#d2d6ec" fill-opacity="0.62"/>
<ellipse cx="294.9" cy="50.7" rx="1.73" ry="2.52" transform="rotate(-115 294.9 50.7)" fill="#8e97c4" fill-opacity="0.6"/>
<ellipse cx="345.3" cy="42.3" rx="0.98" ry="2.80" transform="rotate(-47 345.3 42.3)" fill="#6f7bb3" fill-opacity="0.67"/>
<ellipse cx="345.9" cy="42.8" rx="0.69" ry="1.96" transform="rotate(-47 345.3 42.3)" fill="#d2d6ec" fill-opacity="0.32"/>
<ellipse cx="314.9" cy="40.0" rx="1.90" ry="2.80" transform="rotate(-82 314.9 40.0)" fill="#6f7bb3" fill-opacity="0.51"/>
<ellipse cx="315.5" cy="40.5" rx="1.33" ry="1.96" transform="rotate(-82 314.9 40.0)" fill="#d2d6ec" fill-opacity="0.61"/>
<ellipse cx="288.3" cy="45.7" rx="1.17" ry="2.52" transform="rotate(-120 288.3 45.7)" fill="#8e97c4" fill-opacity="0.6"/>
<ellipse cx="331.8" cy="36.2" rx="1.28" ry="2.80" transform="rotate(-63 331.8 36.2)" fill="#6f7bb3" fill-opacity="0.62"/>
<ellipse cx="332.4" cy="36.7" rx="0.90" ry="1.96" transform="rotate(-63 331.8 36.2)" fill="#d2d6ec" fill-opacity="0.41"/>
<ellipse cx="303.9" cy="42.6" rx="1.37" ry="2.52" transform="rotate(-97 303.9 42.6)" fill="#8e97c4" fill-opacity="0.6"/>
<ellipse cx="336.9" cy="32.4" rx="0.40" ry="2.80" transform="rotate(-60 336.9 32.4)" fill="#6f7bb3" fill-opacity="0.78"/>
<ellipse cx="337.5" cy="32.9" rx="0.28" ry="1.96" transform="rotate(-60 336.9 32.4)" fill="#d2d6ec" fill-opacity="0.13"/>
<ellipse cx="317.9" cy="30.1" rx="1.14" ry="2.80" transform="rotate(-80 317.9 30.1)" fill="#6f7bb3" fill-opacity="0.65"/>
<ellipse cx="318.5" cy="30.7" rx="0.80" ry="1.96" transform="rotate(-80 317.9 30.1)" fill="#d2d6ec" fill-opacity="0.37"/>
<ellipse cx="320.7" cy="26.3" rx="0.43" ry="2.80" transform="rotate(-78 320.7 26.3)" fill="#6f7bb3" fill-opacity="0.77"/>
<ellipse cx="321.3" cy="26.9" rx="0.30" ry="1.96" transform="rotate(-78 320.7 26.3)" fill="#d2d6ec" fill-opacity="0.14"/>
<ellipse cx="295.6" cy="76.5" rx="2.38" ry="2.24" fill="#f7f7fc"/>
<ellipse cx="294.8" cy="75.6" rx="1.40" ry="1.12" fill="#b8bddb" fill-opacity="0.5"/>
<ellipse cx="293.5" cy="82.4" rx="2.38" ry="2.24" fill="#f7f7fc"/>
<ellipse cx="292.7" cy="81.6" rx="1.40" ry="1.12" fill="#b8bddb" fill-opacity="0.5"/>
<ellipse cx="300.5" cy="70.5" rx="2.38" ry="2.24" fill="#f7f7fc"/>
<ellipse cx="299.7" cy="69.7" rx="1.40" ry="1.12" fill="#b8bddb" fill-opacity="0.5"/>
<ellipse cx="302.6" cy="76.5" rx="2.38" ry="2.24" fill="#f7f7fc"/>
<ellipse cx="301.8" cy="75.6" rx="1.40" ry="1.12" fill="#b8bddb" fill-opacity="0.5"/>
<ellipse cx="300.5" cy="82.4" rx="2.38" ry="2.24" fill="#f7f7fc"/>
<ellipse cx="299.7" cy="81.6" rx="1.40" ry="1.12" fill="#b8bddb" fill-opacity="0.5"/>
<ellipse cx="307.5" cy="70.5" rx="2.38" ry="2.24" fill="#f7f7fc"/>
<ellipse cx="306.7" cy="69.7" rx="1.40" ry="1.12" fill="#b8bddb" fill-opacity="0.5"/>
<ellipse cx="309.6" cy="76.5" rx="2.38" ry="2.24" fill="#f7f7fc"/>
<ellipse cx="308.8" cy="75.6" rx="1.40" ry="1.12" fill="#b8bddb" fill-opacity="0.5"/>
<ellipse cx="307.5" cy="82.4" rx="2.38" ry="2.24" fill="#f7f7fc"/>
<ellipse cx="306.7" cy="81.6" rx="1.40" ry="1.12" fill="#b8bddb" fill-opacity="0.5"/>
<line x1="252.2" y1="86.4" x2="310.5" y2="86.4" stroke="#c8cce4" stroke-width="0.9"/><line x1="310.5" y1="24.4" x2="310.5" y2="86.4" stroke="#c8cce4" stroke-width="0.9"/>
<circle cx="312.1" cy="122.1" r="0.7" fill="#efeee4" opacity="0.85"/>
<circle cx="279.6" cy="112.7" r="0.7" fill="#efeee4" opacity="0.85"/>
<circle cx="299.0" cy="71.3" r="0.7" fill="#efeee4" opacity="0.85"/>
<circle cx="359.4" cy="85.6" r="0.7" fill="#efeee4" opacity="0.85"/>
<circle cx="307.4" cy="108.1" r="0.7" fill="#efeee4" opacity="0.85"/>
<circle cx="346.9" cy="80.4" r="0.7" fill="#efeee4" opacity="0.85"/>
<circle cx="328.7" cy="48.7" r="0.7" fill="#efeee4" opacity="0.85"/>
<circle cx="295.2" cy="64.9" r="0.7" fill="#efeee4" opacity="0.85"/>
<circle cx="274.9" cy="42.8" r="0.7" fill="#efeee4" opacity="0.85"/>
<circle cx="261.9" cy="74.5" r="0.7" fill="#efeee4" opacity="0.85"/>
<circle cx="302.4" cy="69.1" r="0.7" fill="#efeee4" opacity="0.85"/>
<circle cx="311.2" cy="38.9" r="0.7" fill="#efeee4" opacity="0.85"/>
<circle cx="305.9" cy="90.6" r="0.7" fill="#efeee4" opacity="0.85"/>
<circle cx="334.2" cy="53.0" r="0.7" fill="#efeee4" opacity="0.85"/>
<circle cx="298.9" cy="30.6" r="0.7" fill="#efeee4" opacity="0.85"/>
<circle cx="297.1" cy="29.7" r="0.7" fill="#efeee4" opacity="0.85"/>
<circle cx="269.9" cy="111.7" r="0.7" fill="#efeee4" opacity="0.85"/>
<circle cx="258.7" cy="99.6" r="0.7" fill="#efeee4" opacity="0.85"/>
<circle cx="321.5" cy="69.5" r="0.7" fill="#efeee4" opacity="0.85"/>
<circle cx="325.9" cy="100.8" r="0.7" fill="#efeee4" opacity="0.85"/>
<circle cx="344.7" cy="73.5" r="0.7" fill="#efeee4" opacity="0.85"/>
<circle cx="287.8" cy="59.7" r="0.7" fill="#efeee4" opacity="0.85"/>
<circle cx="274.7" cy="79.8" r="0.7" fill="#efeee4" opacity="0.85"/>
<circle cx="283.9" cy="115.5" r="0.7" fill="#efeee4" opacity="0.85"/>
<circle cx="263.6" cy="54.9" r="0.7" fill="#efeee4" opacity="0.85"/>
<circle cx="286.9" cy="32.9" r="0.7" fill="#efeee4" opacity="0.85"/>
<circle cx="343.1" cy="38.2" r="0.7" fill="#efeee4" opacity="0.85"/>
<circle cx="298.4" cy="61.7" r="0.7" fill="#efeee4" opacity="0.85"/>
<circle cx="343.8" cy="39.7" r="0.7" fill="#efeee4" opacity="0.85"/>
<circle cx="343.5" cy="57.9" r="0.7" fill="#efeee4" opacity="0.85"/>
<circle cx="303.3" cy="56.6" r="0.7" fill="#efeee4" opacity="0.85"/>
<circle cx="329.5" cy="44.9" r="0.7" fill="#efeee4" opacity="0.85"/>
<circle cx="306.0" cy="95.0" r="0.7" fill="#efeee4" opacity="0.85"/>
<circle cx="342.4" cy="37.7" r="0.7" fill="#efeee4" opacity="0.85"/>
<circle cx="351.0" cy="107.5" r="0.7" fill="#efeee4" opacity="0.85"/>
<circle cx="290.8" cy="92.9" r="0.7" fill="#efeee4" opacity="0.85"/>
<circle cx="295.8" cy="128.0" r="0.7" fill="#efeee4" opacity="0.85"/>
<circle cx="317.1" cy="73.1" r="0.7" fill="#efeee4" opacity="0.85"/>
<circle cx="300.2" cy="73.7" r="0.7" fill="#efeee4" opacity="0.85"/>
<circle cx="302.7" cy="50.2" r="0.7" fill="#efeee4" opacity="0.85"/>
<circle cx="349.1" cy="44.1" r="0.7" fill="#efeee4" opacity="0.85"/>
<circle cx="253.8" cy="79.5" r="0.7" fill="#efeee4" opacity="0.85"/>
<circle cx="303.4" cy="95.7" r="0.7" fill="#efeee4" opacity="0.85"/>
<circle cx="301.1" cy="75.7" r="0.7" fill="#efeee4" opacity="0.85"/>
<circle cx="320.5" cy="114.8" r="0.7" fill="#efeee4" opacity="0.85"/>
<circle cx="292.2" cy="67.4" r="0.7" fill="#efeee4" opacity="0.85"/>
<circle cx="358.7" cy="95.0" r="0.7" fill="#efeee4" opacity="0.85"/>
<circle cx="287.9" cy="131.2" r="0.7" fill="#efeee4" opacity="0.85"/>
<circle cx="336.1" cy="60.9" r="0.7" fill="#efeee4" opacity="0.85"/>
<circle cx="270.4" cy="91.2" r="0.7" fill="#efeee4" opacity="0.85"/>
<circle cx="282.6" cy="47.9" r="0.7" fill="#efeee4" opacity="0.85"/>
<circle cx="268.4" cy="65.6" r="0.7" fill="#efeee4" opacity="0.85"/>
<circle cx="345.7" cy="67.1" r="0.7" fill="#efeee4" opacity="0.85"/>
<circle cx="266.4" cy="101.1" r="0.7" fill="#efeee4" opacity="0.85"/>
<circle cx="311.4" cy="111.6" r="0.7" fill="#efeee4" opacity="0.85"/>
<circle cx="348.5" cy="75.8" r="0.7" fill="#efeee4" opacity="0.85"/>
<circle cx="303.4" cy="79.6" r="0.7" fill="#efeee4" opacity="0.85"/>
<circle cx="272.7" cy="102.8" r="0.7" fill="#efeee4" opacity="0.85"/>
<circle cx="352.0" cy="86.9" r="0.7" fill="#efeee4" opacity="0.85"/>
<circle cx="299.9" cy="71.4" r="0.7" fill="#efeee4" opacity="0.85"/>
<circle cx="282.7" cy="54.3" r="0.7" fill="#efeee4" opacity="0.85"/>
<circle cx="294.9" cy="51.8" r="0.7" fill="#efeee4" opacity="0.85"/>
<circle cx="296.3" cy="35.6" r="0.7" fill="#efeee4" opacity="0.85"/>
<circle cx="322.5" cy="83.3" r="0.7" fill="#efeee4" opacity="0.85"/>
<circle cx="284.7" cy="32.9" r="0.7" fill="#efeee4" opacity="0.85"/>
<circle cx="308.7" cy="118.7" r="0.7" fill="#efeee4" opacity="0.85"/>
<circle cx="282.9" cy="64.2" r="0.7" fill="#efeee4" opacity="0.85"/>
<circle cx="288.7" cy="104.7" r="0.7" fill="#efeee4" opacity="0.85"/>
<circle cx="280.0" cy="112.7" r="0.7" fill="#efeee4" opacity="0.85"/>
<circle cx="298.4" cy="113.7" r="0.7" fill="#efeee4" opacity="0.85"/>
<circle cx="310.3" cy="72.4" r="0.7" fill="#efeee4" opacity="0.85"/>
<circle cx="266.0" cy="61.4" r="0.7" fill="#efeee4" opacity="0.85"/>
<circle cx="299.4" cy="105.6" r="0.7" fill="#efeee4" opacity="0.85"/>
<circle cx="318.0" cy="55.9" r="0.7" fill="#efeee4" opacity="0.85"/>
<circle cx="323.0" cy="115.1" r="0.7" fill="#efeee4" opacity="0.85"/>
<circle cx="303.3" cy="64.7" r="0.7" fill="#efeee4" opacity="0.85"/>
<circle cx="295.0" cy="110.1" r="0.7" fill="#efeee4" opacity="0.85"/>
<circle cx="327.3" cy="49.7" r="0.7" fill="#efeee4" opacity="0.85"/>
<circle cx="323.0" cy="63.5" r="0.7" fill="#efeee4" opacity="0.85"/>
<circle cx="285.9" cy="119.5" r="0.7" fill="#efeee4" opacity="0.85"/>
<circle cx="336.8" cy="56.8" r="0.7" fill="#efeee4" opacity="0.85"/>
<circle cx="312.0" cy="100.4" r="0.7" fill="#efeee4" opacity="0.85"/>
<circle cx="285.3" cy="76.9" r="0.7" fill="#efeee4" opacity="0.85"/>
<circle cx="326.7" cy="34.0" r="0.7" fill="#efeee4" opacity="0.85"/>
<circle cx="320.8" cy="108.1" r="0.7" fill="#efeee4" opacity="0.85"/>
<circle cx="324.6" cy="39.9" r="0.7" fill="#efeee4" opacity="0.85"/>
<circle cx="320.2" cy="50.9" r="0.7" fill="#efeee4" opacity="0.85"/>
<circle cx="329.5" cy="103.1" r="0.7" fill="#efeee4" opacity="0.85"/>
<circle cx="316.8" cy="53.7" r="0.7" fill="#efeee4" opacity="0.85"/>
<circle cx="288.7" cy="110.8" r="0.7" fill="#efeee4" opacity="0.85"/>
<circle cx="278.0" cy="98.5" r="0.7" fill="#efeee4" opacity="0.85"/>
<circle cx="328.2" cy="71.0" r="0.7" fill="#efeee4" opacity="0.85"/>
<circle cx="362.7" cy="83.0" r="0.7" fill="#efeee4" opacity="0.85"/>
<circle cx="349.0" cy="43.8" r="0.7" fill="#efeee4" opacity="0.85"/>
<circle cx="259.6" cy="103.0" r="0.7" fill="#efeee4" opacity="0.85"/>
<circle cx="332.4" cy="69.9" r="0.7" fill="#efeee4" opacity="0.85"/>
<circle cx="307.6" cy="30.8" r="0.7" fill="#efeee4" opacity="0.85"/>
<circle cx="288.3" cy="47.4" r="0.7" fill="#efeee4" opacity="0.85"/>
<circle cx="301.2" cy="112.7" r="0.7" fill="#efeee4" opacity="0.85"/>
<circle cx="311.0" cy="95.7" r="0.7" fill="#efeee4" opacity="0.85"/>
<circle cx="283.9" cy="65.7" r="0.7" fill="#efeee4" opacity="0.85"/>
<circle cx="313.3" cy="70.5" r="0.7" fill="#efeee4" opacity="0.85"/>
<circle cx="346.9" cy="55.2" r="0.7" fill="#efeee4" opacity="0.85"/>
<circle cx="355.5" cy="57.3" r="0.7" fill="#efeee4" opacity="0.85"/>
<circle cx="342.9" cy="56.6" r="0.7" fill="#efeee4" opacity="0.85"/>
<circle cx="356.6" cy="85.3" r="0.7" fill="#efeee4" opacity="0.85"/>
<circle cx="323.3" cy="108.1" r="0.7" fill="#efeee4" opacity="0.85"/>
<circle cx="288.2" cy="47.2" r="0.7" fill="#efeee4" opacity="0.85"/>
<circle cx="263.1" cy="109.0" r="0.7" fill="#efeee4" opacity="0.85"/>
<circle cx="284.4" cy="60.5" r="0.7" fill="#efeee4" opacity="0.85"/>
<circle cx="308.2" cy="132.7" r="0.7" fill="#efeee4" opacity="0.85"/>
<circle cx="260.6" cy="88.4" r="0.7" fill="#efeee4" opacity="0.85"/>
<circle cx="294.3" cy="101.1" r="0.7" fill="#efeee4" opacity="0.85"/>
<circle cx="260.2" cy="70.6" r="0.7" fill="#efeee4" opacity="0.85"/>
<circle cx="332.3" cy="124.7" r="0.7" fill="#efeee4" opacity="0.85"/>
<circle cx="352.8" cy="58.0" r="0.7" fill="#efeee4" opacity="0.85"/>
<circle cx="311.1" cy="77.1" r="0.7" fill="#efeee4" opacity="0.85"/>
<circle cx="273.5" cy="44.3" r="0.7" fill="#efeee4" opacity="0.85"/>
<circle cx="336.4" cy="90.3" r="0.7" fill="#efeee4" opacity="0.85"/>
<circle cx="304.3" cy="121.3" r="0.7" fill="#efeee4" opacity="0.85"/>
<circle cx="275.3" cy="99.1" r="0.7" fill="#efeee4" opacity="0.85"/>
<circle cx="309.4" cy="79.1" r="0.7" fill="#efeee4" opacity="0.85"/>
<circle cx="327.5" cy="88.1" r="0.7" fill="#efeee4" opacity="0.85"/>
<circle cx="319.3" cy="91.6" r="0.7" fill="#efeee4" opacity="0.85"/>
<circle cx="359.5" cy="73.3" r="0.7" fill="#efeee4" opacity="0.85"/>
<circle cx="342.6" cy="101.6" r="0.7" fill="#efeee4" opacity="0.85"/>
<circle cx="296.5" cy="109.8" r="0.7" fill="#efeee4" opacity="0.85"/>
<circle cx="282.6" cy="117.2" r="0.7" fill="#efeee4" opacity="0.85"/>
<circle cx="280.6" cy="64.2" r="0.7" fill="#efeee4" opacity="0.85"/>
<circle cx="320.5" cy="111.0" r="0.7" fill="#efeee4" opacity="0.85"/>
<circle cx="338.4" cy="110.3" r="0.7" fill="#efeee4" opacity="0.85"/>
<circle cx="301.8" cy="48.1" r="0.7" fill="#efeee4" opacity="0.85"/>
<circle cx="329.5" cy="92.6" r="0.7" fill="#efeee4" opacity="0.85"/>
<circle cx="278.9" cy="112.1" r="0.7" fill="#efeee4" opacity="0.85"/>
<circle cx="315.9" cy="48.0" r="0.7" fill="#efeee4" opacity="0.85"/>
<circle cx="322.8" cy="40.0" r="0.7" fill="#efeee4" opacity="0.85"/>
<circle cx="278.3" cy="95.5" r="0.7" fill="#efeee4" opacity="0.85"/>
<circle cx="262.7" cy="82.5" r="0.7" fill="#efeee4" opacity="0.85"/>
<circle cx="268.6" cy="103.5" r="0.7" fill="#efeee4" opacity="0.85"/>
<circle cx="282.5" cy="88.1" r="0.7" fill="#efeee4" opacity="0.85"/>
<circle cx="264.1" cy="71.1" r="0.7" fill="#efeee4" opacity="0.85"/>
<circle cx="341.5" cy="97.1" r="0.7" fill="#efeee4" opacity="0.85"/>
<circle cx="262.7" cy="104.7" r="0.7" fill="#efeee4" opacity="0.85"/>
<circle cx="340.2" cy="68.3" r="0.7" fill="#efeee4" opacity="0.85"/>
<circle cx="348.4" cy="52.0" r="0.7" fill="#efeee4" opacity="0.85"/>
<circle cx="306.1" cy="119.0" r="0.7" fill="#efeee4" opacity="0.85"/>
<circle cx="344.7" cy="116.2" r="0.7" fill="#efeee4" opacity="0.85"/>
<circle cx="281.7" cy="37.0" r="0.7" fill="#efeee4" opacity="0.85"/>
<circle cx="320.9" cy="37.8" r="0.7" fill="#efeee4" opacity="0.85"/>
<circle cx="304.8" cy="40.1" r="0.7" fill="#efeee4" opacity="0.85"/>
<circle cx="342.8" cy="107.0" r="0.7" fill="#efeee4" opacity="0.85"/>
<circle cx="329.9" cy="82.0" r="0.7" fill="#efeee4" opacity="0.85"/>
<circle cx="310.8" cy="69.9" r="0.7" fill="#efeee4" opacity="0.85"/>
<circle cx="323.6" cy="90.9" r="0.7" fill="#efeee4" opacity="0.85"/>
<circle cx="326.1" cy="65.4" r="0.7" fill="#efeee4" opacity="0.85"/>
<circle cx="359.2" cy="88.9" r="0.7" fill="#efeee4" opacity="0.85"/>
<circle cx="345.7" cy="116.5" r="0.7" fill="#efeee4" opacity="0.85"/>
<circle cx="285.6" cy="36.6" r="0.7" fill="#efeee4" opacity="0.85"/>
<circle cx="349.2" cy="69.0" r="0.7" fill="#efeee4" opacity="0.85"/>
<circle cx="312.2" cy="71.4" r="0.7" fill="#efeee4" opacity="0.85"/>
<circle cx="313.3" cy="42.1" r="0.7" fill="#efeee4" opacity="0.85"/>
<circle cx="305.1" cy="63.8" r="0.7" fill="#efeee4" opacity="0.85"/>
<circle cx="308.7" cy="28.0" r="0.7" fill="#efeee4" opacity="0.85"/>
<circle cx="338.2" cy="93.2" r="0.7" fill="#efeee4" opacity="0.85"/>
<circle cx="262.7" cy="61.7" r="0.7" fill="#efeee4" opacity="0.85"/>
<circle cx="310.2" cy="104.8" r="0.7" fill="#efeee4" opacity="0.85"/>
<circle cx="309.0" cy="124.8" r="0.7" fill="#efeee4" opacity="0.85"/>
<circle cx="309.8" cy="46.7" r="0.7" fill="#efeee4" opacity="0.85"/>
<circle cx="285.6" cy="107.2" r="0.7" fill="#efeee4" opacity="0.85"/>
<circle cx="287.9" cy="110.3" r="0.7" fill="#efeee4" opacity="0.85"/>
<circle cx="342.9" cy="100.9" r="0.7" fill="#efeee4" opacity="0.85"/>
<circle cx="344.0" cy="75.4" r="0.7" fill="#efeee4" opacity="0.85"/>
<circle cx="308.6" cy="59.2" r="0.7" fill="#efeee4" opacity="0.85"/>
<circle cx="291.5" cy="36.6" r="0.7" fill="#efeee4" opacity="0.85"/>
<circle cx="290.7" cy="46.1" r="0.7" fill="#efeee4" opacity="0.85"/>
<circle cx="264.9" cy="85.9" r="0.7" fill="#efeee4" opacity="0.85"/>
<circle cx="326.1" cy="68.6" r="0.7" fill="#efeee4" opacity="0.85"/>
<circle cx="348.4" cy="108.5" r="0.7" fill="#efeee4" opacity="0.85"/>
<circle cx="343.4" cy="61.5" r="0.7" fill="#efeee4" opacity="0.85"/>
<circle cx="265.1" cy="97.8" r="0.7" fill="#efeee4" opacity="0.85"/>
<circle cx="320.2" cy="107.7" r="0.7" fill="#efeee4" opacity="0.85"/>
<circle cx="322.3" cy="121.6" r="0.7" fill="#efeee4" opacity="0.85"/>
<circle cx="298.4" cy="105.9" r="0.7" fill="#efeee4" opacity="0.85"/>
<circle cx="289.5" cy="31.1" r="0.7" fill="#efeee4" opacity="0.85"/>
<circle cx="295.8" cy="125.9" r="0.7" fill="#efeee4" opacity="0.85"/>
<circle cx="265.3" cy="107.9" r="0.7" fill="#efeee4" opacity="0.85"/>
<circle cx="284.4" cy="66.9" r="0.7" fill="#efeee4" opacity="0.85"/>
<circle cx="310.7" cy="89.6" r="0.7" fill="#efeee4" opacity="0.85"/>
<circle cx="275.1" cy="85.8" r="0.7" fill="#efeee4" opacity="0.85"/>
<circle cx="324.6" cy="110.7" r="0.7" fill="#efeee4" opacity="0.85"/>
<circle cx="287.7" cy="125.1" r="0.7" fill="#efeee4" opacity="0.85"/>
<circle cx="343.1" cy="124.6" r="0.7" fill="#efeee4" opacity="0.85"/>
<circle cx="266.6" cy="86.9" r="0.7" fill="#efeee4" opacity="0.85"/>
<circle cx="259.5" cy="91.5" r="0.7" fill="#efeee4" opacity="0.85"/>
<circle cx="326.9" cy="44.2" r="0.7" fill="#efeee4" opacity="0.85"/>
<circle cx="262.4" cy="86.9" r="0.7" fill="#efeee4" opacity="0.85"/>
<circle cx="330.7" cy="54.0" r="0.7" fill="#efeee4" opacity="0.85"/>
<circle cx="303.4" cy="27.5" r="0.7" fill="#efeee4" opacity="0.85"/>
<circle cx="283.1" cy="86.8" r="0.7" fill="#efeee4" opacity="0.85"/>
<circle cx="313.5" cy="128.0" r="0.7" fill="#efeee4" opacity="0.85"/>
<circle cx="284.5" cy="33.1" r="0.7" fill="#efeee4" opacity="0.85"/>
<circle cx="325.5" cy="59.8" r="0.7" fill="#efeee4" opacity="0.85"/>
<circle cx="319.4" cy="107.5" r="0.7" fill="#efeee4" opacity="0.85"/>
<circle cx="326.8" cy="124.2" r="0.7" fill="#efeee4" opacity="0.85"/>
<circle cx="342.1" cy="40.7" r="0.7" fill="#efeee4" opacity="0.85"/>
<circle cx="307.4" cy="132.8" r="0.7" fill="#efeee4" opacity="0.85"/>
<circle cx="295.0" cy="114.6" r="0.7" fill="#efeee4" opacity="0.85"/>
<circle cx="306.9" cy="65.3" r="0.7" fill="#efeee4" opacity="0.85"/>
<circle cx="351.2" cy="109.2" r="0.7" fill="#efeee4" opacity="0.85"/>
<circle cx="300.4" cy="113.3" r="0.7" fill="#efeee4" opacity="0.85"/>
<circle cx="269.2" cy="59.4" r="0.7" fill="#efeee4" opacity="0.85"/>
<circle cx="341.0" cy="82.8" r="0.7" fill="#efeee4" opacity="0.85"/>
<circle cx="273.5" cy="96.4" r="0.7" fill="#efeee4" opacity="0.85"/>
<circle cx="319.5" cy="122.4" r="0.7" fill="#efeee4" opacity="0.85"/>
<circle cx="342.2" cy="71.8" r="0.7" fill="#efeee4" opacity="0.85"/>
<circle cx="290.6" cy="76.1" r="0.7" fill="#efeee4" opacity="0.85"/>
<circle cx="302.0" cy="126.0" r="0.7" fill="#efeee4" opacity="0.85"/>
<circle cx="348.6" cy="115.2" r="0.7" fill="#efeee4" opacity="0.85"/>
<circle cx="323.5" cy="72.1" r="0.7" fill="#efeee4" opacity="0.85"/>
<circle cx="340.5" cy="69.2" r="0.7" fill="#efeee4" opacity="0.85"/>
<circle cx="315.8" cy="33.8" r="0.7" fill="#efeee4" opacity="0.85"/>
<circle cx="296.2" cy="125.0" r="0.7" fill="#efeee4" opacity="0.85"/>
<circle cx="280.9" cy="40.5" r="0.7" fill="#efeee4" opacity="0.85"/>
<circle cx="304.3" cy="129.2" r="0.7" fill="#efeee4" opacity="0.85"/>
<circle cx="353.0" cy="70.5" r="0.7" fill="#efeee4" opacity="0.85"/>
<circle cx="290.9" cy="77.2" r="0.7" fill="#efeee4" opacity="0.85"/>
<circle cx="276.2" cy="82.7" r="0.7" fill="#efeee4" opacity="0.85"/>
<circle cx="299.9" cy="36.8" r="0.7" fill="#efeee4" opacity="0.85"/>
<circle cx="287.4" cy="71.8" r="0.7" fill="#efeee4" opacity="0.85"/>
<circle cx="282.2" cy="46.6" r="0.7" fill="#efeee4" opacity="0.85"/>
<circle cx="331.5" cy="128.5" r="0.7" fill="#efeee4" opacity="0.85"/>
<circle cx="298.1" cy="65.3" r="0.7" fill="#efeee4" opacity="0.85"/>
<circle cx="327.9" cy="72.8" r="0.7" fill="#efeee4" opacity="0.85"/>
<circle cx="286.0" cy="122.3" r="0.7" fill="#efeee4" opacity="0.85"/>
<circle cx="275.3" cy="57.7" r="0.7" fill="#efeee4" opacity="0.85"/>
<circle cx="286.5" cy="51.5" r="0.7" fill="#efeee4" opacity="0.85"/>
<circle cx="300.1" cy="102.9" r="0.7" fill="#efeee4" opacity="0.85"/>
<circle cx="351.5" cy="100.9" r="0.7" fill="#efeee4" opacity="0.85"/>
<circle cx="310.1" cy="40.7" r="0.7" fill="#efeee4" opacity="0.85"/>
<circle cx="306.8" cy="48.3" r="0.7" fill="#efeee4" opacity="0.85"/>
<circle cx="305.6" cy="115.5" r="0.7" fill="#efeee4" opacity="0.85"/>
<circle cx="316.9" cy="73.3" r="0.7" fill="#efeee4" opacity="0.85"/>
<circle cx="281.5" cy="80.6" r="0.7" fill="#efeee4" opacity="0.85"/>
<circle cx="312.9" cy="48.7" r="0.7" fill="#efeee4" opacity="0.85"/>
<circle cx="291.5" cy="111.9" r="0.7" fill="#efeee4" opacity="0.85"/>
<circle cx="262.1" cy="68.9" r="0.7" fill="#efeee4" opacity="0.85"/>
<circle cx="278.4" cy="122.0" r="0.7" fill="#efeee4" opacity="0.85"/>
<circle cx="330.9" cy="100.0" r="0.7" fill="#efeee4" opacity="0.85"/>
<circle cx="324.0" cy="92.3" r="0.7" fill="#efeee4" opacity="0.85"/>
<circle cx="317.5" cy="35.0" r="0.7" fill="#efeee4" opacity="0.85"/>
<circle cx="318.6" cy="103.5" r="0.7" fill="#efeee4" opacity="0.85"/>
<circle cx="267.7" cy="105.2" r="0.7" fill="#efeee4" opacity="0.85"/>
<circle cx="328.2" cy="37.6" r="0.7" fill="#efeee4" opacity="0.85"/>
<circle cx="291.3" cy="69.8" r="0.7" fill="#efeee4" opacity="0.85"/>
<circle cx="289.5" cy="95.9" r="0.7" fill="#efeee4" opacity="0.85"/>
<circle cx="267.9" cy="74.2" r="0.7" fill="#efeee4" opacity="0.85"/>
<circle cx="317.2" cy="107.8" r="0.7" fill="#efeee4" opacity="0.85"/>
<circle cx="310.9" cy="72.0" r="0.7" fill="#efeee4" opacity="0.85"/>
<circle cx="326.1" cy="32.1" r="0.7" fill="#efeee4" opacity="0.85"/>
<circle cx="341.5" cy="70.7" r="0.7" fill="#efeee4" opacity="0.85"/>
<circle cx="269.1" cy="67.7" r="0.7" fill="#efeee4" opacity="0.85"/>
<circle cx="272.5" cy="40.7" r="0.7" fill="#efeee4" opacity="0.85"/>
<circle cx="297.3" cy="53.5" r="0.7" fill="#efeee4" opacity="0.85"/>
<circle cx="333.5" cy="51.8" r="0.7" fill="#efeee4" opacity="0.85"/>
<circle cx="271.1" cy="53.4" r="0.7" fill="#efeee4" opacity="0.85"/>
<circle cx="357.5" cy="82.1" r="0.7" fill="#efeee4" opacity="0.85"/>
<circle cx="288.6" cy="48.4" r="0.7" fill="#efeee4" opacity="0.85"/>
<circle cx="271.9" cy="75.8" r="0.7" fill="#efeee4" opacity="0.85"/>
<circle cx="323.0" cy="119.1" r="0.7" fill="#efeee4" opacity="0.85"/>
<circle cx="347.1" cy="90.4" r="0.7" fill="#efeee4" opacity="0.85"/>
<circle cx="286.6" cy="52.1" r="0.7" fill="#efeee4" opacity="0.85"/>
<circle cx="259.4" cy="59.6" r="0.7" fill="#efeee4" opacity="0.85"/>
<circle cx="324.9" cy="68.6" r="0.7" fill="#efeee4" opacity="0.85"/>
<circle cx="320.5" cy="39.3" r="0.7" fill="#efeee4" opacity="0.85"/>
<circle cx="340.5" cy="91.8" r="0.7" fill="#efeee4" opacity="0.85"/>
<circle cx="310.6" cy="96.7" r="0.7" fill="#efeee4" opacity="0.85"/>
<circle cx="257.3" cy="68.5" r="0.7" fill="#efeee4" opacity="0.85"/>
<circle cx="286.1" cy="127.6" r="0.7" fill="#efeee4" opacity="0.85"/>
<circle cx="302.1" cy="62.3" r="0.7" fill="#efeee4" opacity="0.85"/>
<circle cx="336.0" cy="48.1" r="0.7" fill="#efeee4" opacity="0.85"/>
<circle cx="350.9" cy="60.7" r="0.7" fill="#efeee4" opacity="0.85"/>
<circle cx="306.9" cy="49.1" r="0.7" fill="#efeee4" opacity="0.85"/>
<circle cx="327.6" cy="31.4" r="0.7" fill="#efeee4" opacity="0.85"/>
<circle cx="332.6" cy="53.5" r="0.7" fill="#efeee4" opacity="0.85"/>
<circle cx="310.7" cy="42.9" r="0.7" fill="#efeee4" opacity="0.85"/>
<circle cx="317.8" cy="88.6" r="0.7" fill="#efeee4" opacity="0.85"/>
<circle cx="330.8" cy="93.0" r="0.7" fill="#efeee4" opacity="0.85"/>
<circle cx="329.7" cy="114.4" r="0.7" fill="#efeee4" opacity="0.85"/>
<circle cx="296.3" cy="42.9" r="0.7" fill="#efeee4" opacity="0.85"/>
<circle cx="269.7" cy="102.3" r="0.7" fill="#efeee4" opacity="0.85"/>
<circle cx="296.3" cy="116.9" r="0.7" fill="#efeee4" opacity="0.85"/>
<circle cx="310.6" cy="46.4" r="0.7" fill="#efeee4" opacity="0.85"/>
<circle cx="331.2" cy="128.9" r="0.7" fill="#efeee4" opacity="0.85"/>
<circle cx="302.7" cy="48.5" r="0.7" fill="#efeee4" opacity="0.85"/>
<circle cx="281.3" cy="110.6" r="0.7" fill="#efeee4" opacity="0.85"/>
<circle cx="287.5" cy="66.5" r="0.7" fill="#efeee4" opacity="0.85"/>
<circle cx="334.3" cy="81.8" r="0.7" fill="#efeee4" opacity="0.85"/>
<circle cx="313.3" cy="60.9" r="0.7" fill="#efeee4" opacity="0.85"/>
<circle cx="285.3" cy="87.5" r="0.7" fill="#efeee4" opacity="0.85"/>
<circle cx="314.8" cy="103.5" r="0.7" fill="#efeee4" opacity="0.85"/>
<circle cx="290.3" cy="94.3" r="0.7" fill="#efeee4" opacity="0.85"/>
<circle cx="327.1" cy="84.6" r="0.7" fill="#efeee4" opacity="0.85"/>
<circle cx="328.0" cy="115.1" r="0.7" fill="#efeee4" opacity="0.85"/>
<circle cx="316.7" cy="84.4" r="0.7" fill="#efeee4" opacity="0.85"/>
<circle cx="275.6" cy="92.7" r="0.7" fill="#efeee4" opacity="0.85"/>
<circle cx="305.4" cy="69.4" r="0.7" fill="#efeee4" opacity="0.85"/>
<circle cx="280.4" cy="101.3" r="0.7" fill="#efeee4" opacity="0.85"/>
<circle cx="362.6" cy="90.5" r="0.7" fill="#efeee4" opacity="0.85"/>
<circle cx="312.3" cy="98.1" r="0.7" fill="#efeee4" opacity="0.85"/>
<circle cx="286.8" cy="85.0" r="0.7" fill="#efeee4" opacity="0.85"/>
<circle cx="285.6" cy="58.8" r="0.7" fill="#efeee4" opacity="0.85"/>
<circle cx="318.0" cy="90.2" r="0.7" fill="#efeee4" opacity="0.85"/>
<circle cx="304.9" cy="52.7" r="0.7" fill="#efeee4" opacity="0.85"/>
<circle cx="317.9" cy="44.7" r="0.7" fill="#efeee4" opacity="0.85"/>
<circle cx="336.7" cy="69.0" r="0.7" fill="#efeee4" opacity="0.85"/>
<circle cx="309.0" cy="109.9" r="0.7" fill="#efeee4" opacity="0.85"/>
<circle cx="326.3" cy="41.1" r="0.7" fill="#efeee4" opacity="0.85"/>
<circle cx="299.5" cy="95.4" r="0.7" fill="#efeee4" opacity="0.85"/>
<circle cx="286.6" cy="31.8" r="0.7" fill="#efeee4" opacity="0.85"/>
<circle cx="306.2" cy="79.6" r="0.7" fill="#efeee4" opacity="0.85"/>
<circle cx="325.3" cy="84.5" r="0.7" fill="#efeee4" opacity="0.85"/>
<circle cx="314.1" cy="90.7" r="0.7" fill="#efeee4" opacity="0.85"/>
<circle cx="351.2" cy="96.3" r="0.7" fill="#efeee4" opacity="0.85"/>
<circle cx="329.1" cy="66.9" r="0.7" fill="#efeee4" opacity="0.85"/>
<circle cx="346.7" cy="75.2" r="0.7" fill="#efeee4" opacity="0.85"/>
<circle cx="326.5" cy="31.4" r="0.7" fill="#efeee4" opacity="0.85"/>
<circle cx="318.5" cy="77.6" r="0.7" fill="#efeee4" opacity="0.85"/>
<circle cx="294.5" cy="122.0" r="0.7" fill="#efeee4" opacity="0.85"/>
<circle cx="324.5" cy="76.0" r="0.7" fill="#efeee4" opacity="0.85"/>
<circle cx="295.3" cy="130.5" r="0.7" fill="#efeee4" opacity="0.85"/>
<circle cx="334.9" cy="104.2" r="0.7" fill="#efeee4" opacity="0.85"/>
<circle cx="286.0" cy="120.8" r="0.7" fill="#efeee4" opacity="0.85"/>
<circle cx="329.8" cy="71.4" r="0.7" fill="#efeee4" opacity="0.85"/>
<circle cx="306.0" cy="34.1" r="0.7" fill="#efeee4" opacity="0.85"/>
<circle cx="330.1" cy="46.1" r="0.7" fill="#efeee4" opacity="0.85"/>
<circle cx="338.5" cy="66.0" r="0.7" fill="#efeee4" opacity="0.85"/>
<circle cx="286.2" cy="94.9" r="0.7" fill="#efeee4" opacity="0.85"/>
<circle cx="316.1" cy="43.7" r="0.7" fill="#efeee4" opacity="0.85"/>
<circle cx="306.2" cy="104.0" r="0.7" fill="#efeee4" opacity="0.85"/>
<circle cx="301.1" cy="39.1" r="0.7" fill="#efeee4" opacity="0.85"/>
<circle cx="300.6" cy="48.1" r="0.7" fill="#efeee4" opacity="0.85"/>
<circle cx="287.4" cy="83.2" r="0.7" fill="#efeee4" opacity="0.85"/>
<circle cx="307.0" cy="73.3" r="0.7" fill="#efeee4" opacity="0.85"/>
<circle cx="261.9" cy="91.3" r="0.7" fill="#efeee4" opacity="0.85"/>
<circle cx="301.4" cy="65.9" r="0.7" fill="#efeee4" opacity="0.85"/>
<circle cx="313.1" cy="132.0" r="0.7" fill="#efeee4" opacity="0.85"/>
<circle cx="276.6" cy="41.0" r="0.7" fill="#efeee4" opacity="0.85"/>
<circle cx="334.8" cy="54.7" r="0.7" fill="#efeee4" opacity="0.85"/>
<circle cx="346.7" cy="52.8" r="0.7" fill="#efeee4" opacity="0.85"/>
<circle cx="292.1" cy="110.5" r="0.7" fill="#efeee4" opacity="0.85"/>
<circle cx="340.4" cy="96.7" r="0.7" fill="#efeee4" opacity="0.85"/>
<circle cx="326.2" cy="76.5" r="0.7" fill="#efeee4" opacity="0.85"/>
<circle cx="292.3" cy="73.7" r="0.7" fill="#efeee4" opacity="0.85"/>
<circle cx="347.9" cy="103.1" r="0.7" fill="#efeee4" opacity="0.85"/>
<circle cx="309.7" cy="93.6" r="0.7" fill="#efeee4" opacity="0.85"/>
<circle cx="334.5" cy="117.7" r="0.7" fill="#efeee4" opacity="0.85"/>
<circle cx="303.9" cy="78.3" r="0.7" fill="#efeee4" opacity="0.85"/>
<circle cx="315.8" cy="135.3" r="0.7" fill="#efeee4" opacity="0.85"/>
<circle cx="316.7" cy="122.1" r="0.7" fill="#efeee4" opacity="0.85"/>
<circle cx="266.2" cy="105.0" r="0.7" fill="#efeee4" opacity="0.85"/>
<circle cx="270.1" cy="51.5" r="0.7" fill="#efeee4" opacity="0.85"/>
<circle cx="285.6" cy="76.1" r="0.7" fill="#efeee4" opacity="0.85"/>
<circle cx="315.8" cy="95.4" r="0.7" fill="#efeee4" opacity="0.85"/>
<circle cx="317.5" cy="64.9" r="0.7" fill="#efeee4" opacity="0.85"/>
<circle cx="362.7" cy="89.6" r="0.7" fill="#efeee4" opacity="0.85"/>
<circle cx="325.4" cy="131.0" r="0.7" fill="#efeee4" opacity="0.85"/>
<circle cx="341.4" cy="100.8" r="0.7" fill="#efeee4" opacity="0.85"/>
<circle cx="317.6" cy="131.0" r="0.7" fill="#efeee4" opacity="0.85"/>
<circle cx="275.9" cy="52.0" r="0.7" fill="#efeee4" opacity="0.85"/>
<circle cx="312.7" cy="29.9" r="0.7" fill="#efeee4" opacity="0.85"/>
<circle cx="284.6" cy="116.8" r="0.7" fill="#efeee4" opacity="0.85"/>
<circle cx="291.6" cy="87.6" r="0.7" fill="#efeee4" opacity="0.85"/>
<circle cx="330.8" cy="44.8" r="0.7" fill="#efeee4" opacity="0.85"/>
<circle cx="318.9" cy="58.4" r="0.7" fill="#efeee4" opacity="0.85"/>
<circle cx="272.5" cy="72.2" r="0.7" fill="#efeee4" opacity="0.85"/>
<circle cx="306.9" cy="66.2" r="0.7" fill="#efeee4" opacity="0.85"/>
<circle cx="287.1" cy="113.1" r="0.7" fill="#efeee4" opacity="0.85"/>
<circle cx="346.0" cy="99.3" r="0.7" fill="#efeee4" opacity="0.85"/>
<circle cx="305.7" cy="45.6" r="0.7" fill="#efeee4" opacity="0.85"/>
<circle cx="283.4" cy="46.8" r="0.7" fill="#efeee4" opacity="0.85"/>
<circle cx="316.3" cy="113.3" r="0.7" fill="#efeee4" opacity="0.85"/>
<circle cx="341.0" cy="80.5" r="0.7" fill="#efeee4" opacity="0.85"/>
<circle cx="294.4" cy="88.2" r="0.7" fill="#efeee4" opacity="0.85"/>
<circle cx="313.5" cy="103.4" r="0.7" fill="#efeee4" opacity="0.85"/>
<circle cx="351.8" cy="61.6" r="0.7" fill="#efeee4" opacity="0.85"/>
<circle cx="347.8" cy="42.5" r="0.7" fill="#efeee4" opacity="0.85"/>
<circle cx="268.3" cy="46.8" r="0.7" fill="#efeee4" opacity="0.85"/>
<circle cx="274.1" cy="73.4" r="0.7" fill="#efeee4" opacity="0.85"/>
<circle cx="358.8" cy="64.6" r="0.7" fill="#efeee4" opacity="0.85"/>
<circle cx="345.6" cy="69.4" r="0.7" fill="#efeee4" opacity="0.85"/>
<circle cx="314.2" cy="46.5" r="0.7" fill="#efeee4" opacity="0.85"/>
<circle cx="362.0" cy="80.5" r="0.7" fill="#efeee4" opacity="0.85"/>
<circle cx="295.0" cy="133.0" r="0.7" fill="#efeee4" opacity="0.85"/>
<circle cx="315.8" cy="97.1" r="0.7" fill="#efeee4" opacity="0.85"/>
<circle cx="303.8" cy="51.9" r="0.7" fill="#efeee4" opacity="0.85"/>
<circle cx="265.1" cy="76.0" r="0.7" fill="#efeee4" opacity="0.85"/>
<circle cx="355.2" cy="93.4" r="0.7" fill="#efeee4" opacity="0.85"/>
<circle cx="303.1" cy="117.3" r="0.7" fill="#efeee4" opacity="0.85"/>
<circle cx="282.3" cy="120.8" r="0.7" fill="#efeee4" opacity="0.85"/>
<circle cx="308.4" cy="51.8" r="0.7" fill="#efeee4" opacity="0.85"/>
<circle cx="333.1" cy="99.7" r="0.7" fill="#efeee4" opacity="0.85"/>
<circle cx="295.9" cy="89.6" r="0.7" fill="#efeee4" opacity="0.85"/>
<circle cx="336.6" cy="121.0" r="0.7" fill="#efeee4" opacity="0.85"/>
<circle cx="292.3" cy="29.4" r="0.7" fill="#efeee4" opacity="0.85"/>
<circle cx="360.3" cy="74.8" r="0.7" fill="#efeee4" opacity="0.85"/>
<circle cx="293.5" cy="97.3" r="0.7" fill="#efeee4" opacity="0.85"/>
<circle cx="294.7" cy="116.2" r="0.7" fill="#efeee4" opacity="0.85"/>
<circle cx="268.8" cy="74.8" r="0.7" fill="#efeee4" opacity="0.85"/>
<circle cx="276.5" cy="120.8" r="0.7" fill="#efeee4" opacity="0.85"/>
<circle cx="300.7" cy="118.1" r="0.7" fill="#efeee4" opacity="0.85"/>
<circle cx="346.6" cy="49.0" r="0.7" fill="#efeee4" opacity="0.85"/>
<circle cx="301.0" cy="107.4" r="0.7" fill="#efeee4" opacity="0.85"/>
<circle cx="310.9" cy="76.2" r="0.7" fill="#efeee4" opacity="0.85"/>
<circle cx="336.3" cy="111.0" r="0.7" fill="#efeee4" opacity="0.85"/>
<circle cx="287.1" cy="76.4" r="0.7" fill="#efeee4" opacity="0.85"/>
<circle cx="332.7" cy="89.2" r="0.7" fill="#efeee4" opacity="0.85"/>
<circle cx="313.7" cy="44.0" r="0.7" fill="#efeee4" opacity="0.85"/>
<circle cx="357.6" cy="75.0" r="0.7" fill="#efeee4" opacity="0.85"/>
<circle cx="319.3" cy="80.1" r="0.7" fill="#efeee4" opacity="0.85"/>
<circle cx="311.5" cy="87.2" r="0.7" fill="#efeee4" opacity="0.85"/>
<circle cx="279.7" cy="94.7" r="0.7" fill="#efeee4" opacity="0.85"/>
<circle cx="347.8" cy="94.3" r="0.7" fill="#efeee4" opacity="0.85"/>
<circle cx="334.7" cy="98.6" r="0.7" fill="#efeee4" opacity="0.85"/>
<circle cx="309.9" cy="130.9" r="0.7" fill="#efeee4" opacity="0.85"/>
<circle cx="284.4" cy="95.3" r="0.7" fill="#efeee4" opacity="0.85"/>
<circle cx="343.9" cy="91.3" r="0.7" fill="#efeee4" opacity="0.85"/>
<circle cx="277.4" cy="48.8" r="0.7" fill="#efeee4" opacity="0.85"/>
<circle cx="351.4" cy="55.4" r="0.7" fill="#efeee4" opacity="0.85"/>
<circle cx="309.3" cy="101.8" r="0.7" fill="#efeee4" opacity="0.85"/>
<circle cx="311.6" cy="32.3" r="0.7" fill="#efeee4" opacity="0.85"/>
<clipPath id="sc4"><circle cx="442" cy="82" r="57"/></clipPath>
<circle cx="442" cy="82" r="57" fill="url(#sph2)"/>
<circle cx="442" cy="82" r="57" fill="url(#sphl)"/>
<path d="M443.5,87 L385.2,87 A57,57 0 0 1 443.5,25.0 Z" fill="#929bc7"/>
<path d="M443.5,87 L393.2,87 A49.019999999999996,49.019999999999996 0 0 1 443.5,33.0 Z" fill="url(#inner)"/>
<ellipse cx="435.9" cy="137.7" rx="0.87" ry="4.70" transform="rotate(96 435.9 137.7)" fill="#6f7bb3" fill-opacity="0.76"/>
<ellipse cx="436.8" cy="138.6" rx="0.61" ry="3.29" transform="rotate(96 435.9 137.7)" fill="#d2d6ec" fill-opacity="0.17"/>
<ellipse cx="457.1" cy="135.9" rx="0.88" ry="4.70" transform="rotate(74 457.1 135.9)" fill="#6f7bb3" fill-opacity="0.76"/>
<ellipse cx="458.0" cy="136.9" rx="0.62" ry="3.29" transform="rotate(74 457.1 135.9)" fill="#d2d6ec" fill-opacity="0.17"/>
<ellipse cx="442.9" cy="133.3" rx="2.05" ry="4.70" transform="rotate(89 442.9 133.3)" fill="#6f7bb3" fill-opacity="0.63"/>
<ellipse cx="443.9" cy="134.2" rx="1.43" ry="3.29" transform="rotate(89 442.9 133.3)" fill="#d2d6ec" fill-opacity="0.39"/>
<ellipse cx="419.1" cy="130.7" rx="1.56" ry="4.70" transform="rotate(115 419.1 130.7)" fill="#6f7bb3" fill-opacity="0.68"/>
<ellipse cx="420.1" cy="131.6" rx="1.09" ry="3.29" transform="rotate(115 419.1 130.7)" fill="#d2d6ec" fill-opacity="0.30"/>
<ellipse cx="460.4" cy="128.9" rx="2.20" ry="4.70" transform="rotate(69 460.4 128.9)" fill="#6f7bb3" fill-opacity="0.62"/>
<ellipse cx="461.3" cy="129.9" rx="1.54" ry="3.29" transform="rotate(69 460.4 128.9)" fill="#d2d6ec" fill-opacity="0.42"/>
<ellipse cx="431.0" cy="126.3" rx="2.82" ry="4.70" transform="rotate(104 431.0 126.3)" fill="#6f7bb3" fill-opacity="0.55"/>
<ellipse cx="431.9" cy="127.2" rx="1.97" ry="3.29" transform="rotate(104 431.0 126.3)" fill="#d2d6ec" fill-opacity="0.54"/>
<ellipse cx="476.9" cy="124.5" rx="1.22" ry="4.70" transform="rotate(51 476.9 124.5)" fill="#6f7bb3" fill-opacity="0.72"/>
<ellipse cx="477.9" cy="125.5" rx="0.85" ry="3.29" transform="rotate(51 476.9 124.5)" fill="#d2d6ec" fill-opacity="0.23"/>
<ellipse cx="405.3" cy="123.7" rx="1.07" ry="4.70" transform="rotate(131 405.3 123.7)" fill="#6f7bb3" fill-opacity="0.74"/>
<ellipse cx="406.3" cy="124.6" rx="0.75" ry="3.29" transform="rotate(131 405.3 123.7)" fill="#d2d6ec" fill-opacity="0.21"/>
<ellipse cx="452.2" cy="121.9" rx="3.25" ry="4.70" transform="rotate(76 452.2 121.9)" fill="#6f7bb3" fill-opacity="0.50"/>
<ellipse cx="453.2" cy="122.8" rx="2.27" ry="3.29" transform="rotate(76 452.2 121.9)" fill="#d2d6ec" fill-opacity="0.62"/>
<ellipse cx="415.5" cy="119.3" rx="2.80" ry="4.70" transform="rotate(125 415.5 119.3)" fill="#6f7bb3" fill-opacity="0.55"/>
<ellipse cx="416.4" cy="120.2" rx="1.96" ry="3.29" transform="rotate(125 415.5 119.3)" fill="#d2d6ec" fill-opacity="0.54"/>
<ellipse cx="474.6" cy="117.5" rx="2.51" ry="4.70" transform="rotate(47 474.6 117.5)" fill="#6f7bb3" fill-opacity="0.58"/>
<ellipse cx="475.5" cy="118.5" rx="1.75" ry="3.29" transform="rotate(47 474.6 117.5)" fill="#d2d6ec" fill-opacity="0.48"/>
<ellipse cx="437.5" cy="114.9" rx="3.82" ry="4.70" transform="rotate(98 437.5 114.9)" fill="#6f7bb3" fill-opacity="0.44"/>
<ellipse cx="438.5" cy="115.8" rx="2.67" ry="3.29" transform="rotate(98 437.5 114.9)" fill="#d2d6ec" fill-opacity="0.73"/>
<ellipse cx="488.9" cy="113.1" rx="0.72" ry="4.70" transform="rotate(34 488.9 113.1)" fill="#6f7bb3" fill-opacity="0.77"/>
<ellipse cx="489.9" cy="114.1" rx="0.50" ry="3.29" transform="rotate(34 488.9 113.1)" fill="#d2d6ec" fill-opacity="0.14"/>
<ellipse cx="401.0" cy="112.3" rx="2.11" ry="4.70" transform="rotate(144 401.0 112.3)" fill="#6f7bb3" fill-opacity="0.63"/>
<ellipse cx="402.0" cy="113.2" rx="1.48" ry="3.29" transform="rotate(144 401.0 112.3)" fill="#d2d6ec" fill-opacity="0.40"/>
<ellipse cx="464.4" cy="110.5" rx="3.63" ry="4.70" transform="rotate(52 464.4 110.5)" fill="#6f7bb3" fill-opacity="0.46"/>
<ellipse cx="465.3" cy="111.4" rx="2.54" ry="3.29" transform="rotate(52 464.4 110.5)" fill="#d2d6ec" fill-opacity="0.69"/>
<ellipse cx="420.1" cy="107.9" rx="3.78" ry="4.70" transform="rotate(130 420.1 107.9)" fill="#6f7bb3" fill-opacity="0.45"/>
<ellipse cx="421.0" cy="108.8" rx="2.64" ry="3.29" transform="rotate(130 420.1 107.9)" fill="#d2d6ec" fill-opacity="0.72"/>
<ellipse cx="486.5" cy="106.1" rx="2.17" ry="4.70" transform="rotate(28 486.5 106.1)" fill="#6f7bb3" fill-opacity="0.62"/>
<ellipse cx="487.4" cy="107.1" rx="1.52" ry="3.29" transform="rotate(28 486.5 106.1)" fill="#d2d6ec" fill-opacity="0.42"/>
<ellipse cx="391.1" cy="105.2" rx="0.88" ry="4.70" transform="rotate(155 391.1 105.2)" fill="#6f7bb3" fill-opacity="0.76"/>
<ellipse cx="392.0" cy="106.2" rx="0.62" ry="3.29" transform="rotate(155 391.1 105.2)" fill="#d2d6ec" fill-opacity="0.17"/>
<ellipse cx="448.3" cy="103.5" rx="4.32" ry="4.70" transform="rotate(74 448.3 103.5)" fill="#6f7bb3" fill-opacity="0.39"/>
<ellipse cx="449.3" cy="104.4" rx="3.03" ry="3.29" transform="rotate(74 448.3 103.5)" fill="#d2d6ec" fill-opacity="0.83"/>
<ellipse cx="403.5" cy="100.9" rx="3.10" ry="4.70" transform="rotate(154 403.5 100.9)" fill="#6f7bb3" fill-opacity="0.52"/>
<ellipse cx="404.5" cy="101.8" rx="2.17" ry="3.29" transform="rotate(154 403.5 100.9)" fill="#d2d6ec" fill-opacity="0.59"/>
<ellipse cx="476.5" cy="99.1" rx="3.47" ry="4.70" transform="rotate(26 476.5 99.1)" fill="#6f7bb3" fill-opacity="0.48"/>
<ellipse cx="477.4" cy="100.0" rx="2.43" ry="3.29" transform="rotate(26 476.5 99.1)" fill="#d2d6ec" fill-opacity="0.66"/>
<ellipse cx="429.4" cy="96.5" rx="4.43" ry="4.70" transform="rotate(131 429.4 96.5)" fill="#6f7bb3" fill-opacity="0.38"/>
<ellipse cx="430.4" cy="97.4" rx="3.10" ry="3.29" transform="rotate(131 429.4 96.5)" fill="#d2d6ec" fill-opacity="0.85"/>
<ellipse cx="494.8" cy="94.7" rx="1.43" ry="4.70" transform="rotate(14 494.8 94.7)" fill="#6f7bb3" fill-opacity="0.70"/>
<ellipse cx="495.7" cy="95.7" rx="1.00" ry="3.29" transform="rotate(14 494.8 94.7)" fill="#d2d6ec" fill-opacity="0.27"/>
<ellipse cx="391.2" cy="93.8" rx="1.89" ry="4.70" transform="rotate(167 391.2 93.8)" fill="#6f7bb3" fill-opacity="0.65"/>
<ellipse cx="392.1" cy="94.8" rx="1.32" ry="3.29" transform="rotate(167 391.2 93.8)" fill="#d2d6ec" fill-opacity="0.36"/>
<ellipse cx="460.5" cy="92.1" rx="4.37" ry="4.70" transform="rotate(29 460.5 92.1)" fill="#6f7bb3" fill-opacity="0.39"/>
<ellipse cx="461.5" cy="93.0" rx="3.06" ry="3.29" transform="rotate(29 460.5 92.1)" fill="#d2d6ec" fill-opacity="0.84"/>
<ellipse cx="411.0" cy="89.5" rx="3.90" ry="4.70" transform="rotate(166 411.0 89.5)" fill="#6f7bb3" fill-opacity="0.44"/>
<ellipse cx="412.0" cy="90.4" rx="2.73" ry="3.29" transform="rotate(166 411.0 89.5)" fill="#d2d6ec" fill-opacity="0.75"/>
<ellipse cx="486.5" cy="87.7" rx="2.90" ry="4.70" transform="rotate(7 486.5 87.7)" fill="#6f7bb3" fill-opacity="0.54"/>
<ellipse cx="487.5" cy="88.6" rx="2.03" ry="3.29" transform="rotate(7 486.5 87.7)" fill="#d2d6ec" fill-opacity="0.55"/>
<ellipse cx="441.4" cy="84.5" rx="4.22" ry="4.23" transform="rotate(104 441.4 84.5)" fill="#8e97c4" fill-opacity="0.6"/>
<ellipse cx="498.7" cy="83.3" rx="0.47" ry="4.70" transform="rotate(1 498.7 83.3)" fill="#6f7bb3" fill-opacity="0.80"/>
<ellipse cx="499.6" cy="84.3" rx="0.33" ry="3.29" transform="rotate(1 498.7 83.3)" fill="#d2d6ec" fill-opacity="0.09"/>
<ellipse cx="404.7" cy="82.4" rx="2.53" ry="4.23" transform="rotate(179 404.7 82.4)" fill="#8e97c4" fill-opacity="0.6"/>
<ellipse cx="471.9" cy="80.7" rx="4.00" ry="4.70" transform="rotate(-3 471.9 80.7)" fill="#6f7bb3" fill-opacity="0.42"/>
<ellipse cx="472.9" cy="81.6" rx="2.80" ry="3.29" transform="rotate(-3 471.9 80.7)" fill="#d2d6ec" fill-opacity="0.77"/>
<ellipse cx="425.5" cy="78.8" rx="3.94" ry="4.23" transform="rotate(-169 425.5 78.8)" fill="#8e97c4" fill-opacity="0.6"/>
<ellipse cx="493.0" cy="76.3" rx="2.04" ry="4.70" transform="rotate(-6 493.0 76.3)" fill="#6f7bb3" fill-opacity="0.63"/>
<ellipse cx="494.0" cy="77.2" rx="1.43" ry="3.29" transform="rotate(-6 493.0 76.3)" fill="#d2d6ec" fill-opacity="0.39"/>
<ellipse cx="453.4" cy="73.7" rx="4.55" ry="4.70" transform="rotate(-36 453.4 73.7)" fill="#6f7bb3" fill-opacity="0.37"/>
<ellipse cx="454.3" cy="74.6" rx="3.19" ry="3.29" transform="rotate(-36 453.4 73.7)" fill="#d2d6ec" fill-opacity="0.87"/>
<ellipse cx="412.1" cy="73.0" rx="3.14" ry="4.23" transform="rotate(-163 412.1 73.0)" fill="#8e97c4" fill-opacity="0.6"/>
<ellipse cx="480.7" cy="69.3" rx="3.29" ry="4.70" transform="rotate(-18 480.7 69.3)" fill="#6f7bb3" fill-opacity="0.50"/>
<ellipse cx="481.6" cy="70.2" rx="2.30" ry="3.29" transform="rotate(-18 480.7 69.3)" fill="#d2d6ec" fill-opacity="0.63"/>
<ellipse cx="435.4" cy="69.5" rx="4.03" ry="4.23" transform="rotate(-118 435.4 69.5)" fill="#8e97c4" fill-opacity="0.6"/>
<ellipse cx="494.9" cy="64.9" rx="1.04" ry="4.70" transform="rotate(-18 494.9 64.9)" fill="#6f7bb3" fill-opacity="0.74"/>
<ellipse cx="495.8" cy="65.8" rx="0.73" ry="3.29" transform="rotate(-18 494.9 64.9)" fill="#d2d6ec" fill-opacity="0.20"/>
<ellipse cx="403.4" cy="67.3" rx="1.95" ry="4.23" transform="rotate(-159 403.4 67.3)" fill="#8e97c4" fill-opacity="0.6"/>
<ellipse cx="463.8" cy="62.3" rx="4.03" ry="4.70" transform="rotate(-42 463.8 62.3)" fill="#6f7bb3" fill-opacity="0.42"/>
<ellipse cx="464.7" cy="63.2" rx="2.82" ry="3.29" transform="rotate(-42 463.8 62.3)" fill="#d2d6ec" fill-opacity="0.77"/>
<ellipse cx="421.6" cy="63.7" rx="3.42" ry="4.23" transform="rotate(-138 421.6 63.7)" fill="#8e97c4" fill-opacity="0.6"/>
<ellipse cx="485.1" cy="57.9" rx="2.35" ry="4.70" transform="rotate(-29 485.1 57.9)" fill="#6f7bb3" fill-opacity="0.60"/>
<ellipse cx="486.0" cy="58.8" rx="1.65" ry="3.29" transform="rotate(-29 485.1 57.9)" fill="#d2d6ec" fill-opacity="0.45"/>
<ellipse cx="445.5" cy="55.3" rx="4.14" ry="4.70" transform="rotate(-83 445.5 55.3)" fill="#6f7bb3" fill-opacity="0.41"/>
<ellipse cx="446.4" cy="56.2" rx="2.90" ry="3.29" transform="rotate(-83 445.5 55.3)" fill="#d2d6ec" fill-opacity="0.79"/>
<ellipse cx="412.1" cy="58.0" rx="2.40" ry="4.23" transform="rotate(-141 412.1 58.0)" fill="#8e97c4" fill-opacity="0.6"/>
<ellipse cx="470.3" cy="50.9" rx="3.17" ry="4.70" transform="rotate(-48 470.3 50.9)" fill="#6f7bb3" fill-opacity="0.51"/>
<ellipse cx="471.3" cy="51.8" rx="2.22" ry="3.29" transform="rotate(-48 470.3 50.9)" fill="#d2d6ec" fill-opacity="0.61"/>
<ellipse cx="431.6" cy="54.4" rx="3.27" ry="4.23" transform="rotate(-111 431.6 54.4)" fill="#8e97c4" fill-opacity="0.6"/>
<ellipse cx="483.6" cy="46.5" rx="1.32" ry="4.70" transform="rotate(-40 483.6 46.5)" fill="#6f7bb3" fill-opacity="0.71"/>
<ellipse cx="484.5" cy="47.4" rx="0.93" ry="3.29" transform="rotate(-40 483.6 46.5)" fill="#d2d6ec" fill-opacity="0.25"/>
<ellipse cx="453.9" cy="43.9" rx="3.35" ry="4.70" transform="rotate(-73 453.9 43.9)" fill="#6f7bb3" fill-opacity="0.49"/>
<ellipse cx="454.9" cy="44.8" rx="2.35" ry="3.29" transform="rotate(-73 453.9 43.9)" fill="#d2d6ec" fill-opacity="0.64"/>
<ellipse cx="422.8" cy="48.7" rx="2.39" ry="4.23" transform="rotate(-120 422.8 48.7)" fill="#8e97c4" fill-opacity="0.6"/>
<ellipse cx="470.6" cy="39.5" rx="2.06" ry="4.70" transform="rotate(-56 470.6 39.5)" fill="#6f7bb3" fill-opacity="0.63"/>
<ellipse cx="471.5" cy="40.4" rx="1.44" ry="3.29" transform="rotate(-56 470.6 39.5)" fill="#d2d6ec" fill-opacity="0.39"/>
<ellipse cx="440.2" cy="45.1" rx="2.58" ry="4.23" transform="rotate(-93 440.2 45.1)" fill="#8e97c4" fill-opacity="0.6"/>
<ellipse cx="474.0" cy="35.1" rx="0.41" ry="4.70" transform="rotate(-56 474.0 35.1)" fill="#6f7bb3" fill-opacity="0.81"/>
<ellipse cx="474.9" cy="36.0" rx="0.28" ry="3.29" transform="rotate(-56 474.0 35.1)" fill="#d2d6ec" fill-opacity="0.08"/>
<ellipse cx="455.6" cy="32.5" rx="2.04" ry="4.70" transform="rotate(-75 455.6 32.5)" fill="#6f7bb3" fill-opacity="0.63"/>
<ellipse cx="456.5" cy="33.4" rx="1.43" ry="3.29" transform="rotate(-75 455.6 32.5)" fill="#d2d6ec" fill-opacity="0.39"/>
<ellipse cx="458.2" cy="28.1" rx="0.73" ry="4.70" transform="rotate(-73 458.2 28.1)" fill="#6f7bb3" fill-opacity="0.77"/>
<ellipse cx="459.1" cy="29.0" rx="0.51" ry="3.29" transform="rotate(-73 458.2 28.1)" fill="#d2d6ec" fill-opacity="0.14"/>
<ellipse cx="422.5" cy="74.0" rx="4.00" ry="3.76" fill="#f7f7fc"/>
<ellipse cx="421.1" cy="72.6" rx="2.35" ry="1.88" fill="#b8bddb" fill-opacity="0.5"/>
<ellipse cx="419.4" cy="83.0" rx="4.00" ry="3.76" fill="#f7f7fc"/>
<ellipse cx="417.9" cy="81.6" rx="2.35" ry="1.88" fill="#b8bddb" fill-opacity="0.5"/>
<ellipse cx="429.9" cy="65.0" rx="4.00" ry="3.76" fill="#f7f7fc"/>
<ellipse cx="428.5" cy="63.6" rx="2.35" ry="1.88" fill="#b8bddb" fill-opacity="0.5"/>
<ellipse cx="433.1" cy="74.0" rx="4.00" ry="3.76" fill="#f7f7fc"/>
<ellipse cx="431.7" cy="72.6" rx="2.35" ry="1.88" fill="#b8bddb" fill-opacity="0.5"/>
<ellipse cx="429.9" cy="83.0" rx="4.00" ry="3.76" fill="#f7f7fc"/>
<ellipse cx="428.5" cy="81.6" rx="2.35" ry="1.88" fill="#b8bddb" fill-opacity="0.5"/>
<ellipse cx="440.5" cy="65.0" rx="4.00" ry="3.76" fill="#f7f7fc"/>
<ellipse cx="439.1" cy="63.6" rx="2.35" ry="1.88" fill="#b8bddb" fill-opacity="0.5"/>
<ellipse cx="443.7" cy="74.0" rx="4.00" ry="3.76" fill="#f7f7fc"/>
<ellipse cx="442.3" cy="72.6" rx="2.35" ry="1.88" fill="#b8bddb" fill-opacity="0.5"/>
<ellipse cx="440.5" cy="83.0" rx="4.00" ry="3.76" fill="#f7f7fc"/>
<ellipse cx="439.1" cy="81.6" rx="2.35" ry="1.88" fill="#b8bddb" fill-opacity="0.5"/>
<line x1="385.2" y1="87" x2="443.5" y2="87" stroke="#c8cce4" stroke-width="0.9"/><line x1="443.5" y1="25.0" x2="443.5" y2="87" stroke="#c8cce4" stroke-width="0.9"/>
<circle cx="443.6" cy="99.7" r="0.7" fill="#efeee4" opacity="0.85"/>
<circle cx="424.7" cy="95.2" r="0.7" fill="#efeee4" opacity="0.85"/>
<circle cx="474.0" cy="96.2" r="0.7" fill="#efeee4" opacity="0.85"/>
<circle cx="485.0" cy="57.6" r="0.7" fill="#efeee4" opacity="0.85"/>
<circle cx="444.5" cy="56.1" r="0.7" fill="#efeee4" opacity="0.85"/>
<circle cx="413.7" cy="75.4" r="0.7" fill="#efeee4" opacity="0.85"/>
<circle cx="450.4" cy="97.9" r="0.7" fill="#efeee4" opacity="0.85"/>
<circle cx="453.8" cy="133.9" r="0.7" fill="#efeee4" opacity="0.85"/>
<circle cx="465.6" cy="38.3" r="0.7" fill="#efeee4" opacity="0.85"/>
<circle cx="449.6" cy="58.9" r="0.7" fill="#efeee4" opacity="0.85"/>
<circle cx="425.9" cy="122.7" r="0.7" fill="#efeee4" opacity="0.85"/>
<circle cx="436.2" cy="31.2" r="0.7" fill="#efeee4" opacity="0.85"/>
<circle cx="453.9" cy="70.9" r="0.7" fill="#efeee4" opacity="0.85"/>
<circle cx="406.3" cy="54.0" r="0.7" fill="#efeee4" opacity="0.85"/>
<circle cx="418.7" cy="81.1" r="0.7" fill="#efeee4" opacity="0.85"/>
<circle cx="425.7" cy="84.7" r="0.7" fill="#efeee4" opacity="0.85"/>
<circle cx="489.2" cy="61.4" r="0.7" fill="#efeee4" opacity="0.85"/>
<circle cx="413.1" cy="73.1" r="0.7" fill="#efeee4" opacity="0.85"/>
<circle cx="477.2" cy="59.3" r="0.7" fill="#efeee4" opacity="0.85"/>
<circle cx="479.6" cy="47.7" r="0.7" fill="#efeee4" opacity="0.85"/>
<circle cx="406.5" cy="80.1" r="0.7" fill="#efeee4" opacity="0.85"/>
<circle cx="412.5" cy="60.9" r="0.7" fill="#efeee4" opacity="0.85"/>
<circle cx="458.1" cy="107.9" r="0.7" fill="#efeee4" opacity="0.85"/>
<circle cx="446.4" cy="71.4" r="0.7" fill="#efeee4" opacity="0.85"/>
<circle cx="483.9" cy="94.6" r="0.7" fill="#efeee4" opacity="0.85"/>
<circle cx="434.3" cy="121.7" r="0.7" fill="#efeee4" opacity="0.85"/>
<circle cx="410.2" cy="87.8" r="0.7" fill="#efeee4" opacity="0.85"/>
<circle cx="466.4" cy="81.6" r="0.7" fill="#efeee4" opacity="0.85"/>
<circle cx="420.8" cy="95.0" r="0.7" fill="#efeee4" opacity="0.85"/>
<circle cx="422.5" cy="60.5" r="0.7" fill="#efeee4" opacity="0.85"/>
<circle cx="412.5" cy="119.6" r="0.7" fill="#efeee4" opacity="0.85"/>
<circle cx="424.2" cy="119.3" r="0.7" fill="#efeee4" opacity="0.85"/>
<circle cx="456.5" cy="72.1" r="0.7" fill="#efeee4" opacity="0.85"/>
<circle cx="466.5" cy="92.0" r="0.7" fill="#efeee4" opacity="0.85"/>
<circle cx="446.1" cy="38.8" r="0.7" fill="#efeee4" opacity="0.85"/>
<circle cx="444.5" cy="113.7" r="0.7" fill="#efeee4" opacity="0.85"/>
<circle cx="458.5" cy="115.6" r="0.7" fill="#efeee4" opacity="0.85"/>
<circle cx="486.5" cy="94.3" r="0.7" fill="#efeee4" opacity="0.85"/>
<circle cx="484.9" cy="49.1" r="0.7" fill="#efeee4" opacity="0.85"/>
<circle cx="436.9" cy="28.1" r="0.7" fill="#efeee4" opacity="0.85"/>
<circle cx="471.5" cy="85.4" r="0.7" fill="#efeee4" opacity="0.85"/>
<circle cx="489.6" cy="71.7" r="0.7" fill="#efeee4" opacity="0.85"/>
<circle cx="396.6" cy="110.7" r="0.7" fill="#efeee4" opacity="0.85"/>
<circle cx="405.7" cy="47.7" r="0.7" fill="#efeee4" opacity="0.85"/>
<circle cx="435.5" cy="105.3" r="0.7" fill="#efeee4" opacity="0.85"/>
<circle cx="422.8" cy="89.0" r="0.7" fill="#efeee4" opacity="0.85"/>
<circle cx="402.1" cy="118.7" r="0.7" fill="#efeee4" opacity="0.85"/>
<circle cx="439.4" cy="86.7" r="0.7" fill="#efeee4" opacity="0.85"/>
<circle cx="463.9" cy="88.3" r="0.7" fill="#efeee4" opacity="0.85"/>
<circle cx="449.0" cy="49.4" r="0.7" fill="#efeee4" opacity="0.85"/>
<circle cx="437.7" cy="98.7" r="0.7" fill="#efeee4" opacity="0.85"/>
<circle cx="477.8" cy="77.9" r="0.7" fill="#efeee4" opacity="0.85"/>
<circle cx="445.5" cy="95.0" r="0.7" fill="#efeee4" opacity="0.85"/>
<circle cx="463.4" cy="89.7" r="0.7" fill="#efeee4" opacity="0.85"/>
<circle cx="432.5" cy="62.8" r="0.7" fill="#efeee4" opacity="0.85"/>
<circle cx="479.5" cy="91.8" r="0.7" fill="#efeee4" opacity="0.85"/>
<circle cx="442.3" cy="137.2" r="0.7" fill="#efeee4" opacity="0.85"/>
<circle cx="470.9" cy="110.0" r="0.7" fill="#efeee4" opacity="0.85"/>
<circle cx="447.3" cy="47.0" r="0.7" fill="#efeee4" opacity="0.85"/>
<circle cx="480.1" cy="79.0" r="0.7" fill="#efeee4" opacity="0.85"/>
<circle cx="443.8" cy="117.4" r="0.7" fill="#efeee4" opacity="0.85"/>
<circle cx="476.9" cy="90.2" r="0.7" fill="#efeee4" opacity="0.85"/>
<circle cx="442.5" cy="134.1" r="0.7" fill="#efeee4" opacity="0.85"/>
<circle cx="461.0" cy="47.9" r="0.7" fill="#efeee4" opacity="0.85"/>
<circle cx="469.3" cy="87.5" r="0.7" fill="#efeee4" opacity="0.85"/>
<circle cx="443.2" cy="107.2" r="0.7" fill="#efeee4" opacity="0.85"/>
<circle cx="448.0" cy="133.2" r="0.7" fill="#efeee4" opacity="0.85"/>
<circle cx="449.9" cy="91.7" r="0.7" fill="#efeee4" opacity="0.85"/>
<circle cx="479.4" cy="63.8" r="0.7" fill="#efeee4" opacity="0.85"/>
<circle cx="477.0" cy="79.9" r="0.7" fill="#efeee4" opacity="0.85"/>
<circle cx="478.3" cy="55.9" r="0.7" fill="#efeee4" opacity="0.85"/>
<circle cx="454.1" cy="35.8" r="0.7" fill="#efeee4" opacity="0.85"/>
<circle cx="425.2" cy="82.6" r="0.7" fill="#efeee4" opacity="0.85"/>
<circle cx="454.6" cy="132.1" r="0.7" fill="#efeee4" opacity="0.85"/>
<circle cx="485.0" cy="50.7" r="0.7" fill="#efeee4" opacity="0.85"/>
<circle cx="418.8" cy="120.3" r="0.7" fill="#efeee4" opacity="0.85"/>
<circle cx="455.6" cy="39.8" r="0.7" fill="#efeee4" opacity="0.85"/>
<circle cx="457.9" cy="45.1" r="0.7" fill="#efeee4" opacity="0.85"/>
<circle cx="416.2" cy="44.2" r="0.7" fill="#efeee4" opacity="0.85"/>
<circle cx="435.9" cy="134.8" r="0.7" fill="#efeee4" opacity="0.85"/>
<circle cx="456.5" cy="77.9" r="0.7" fill="#efeee4" opacity="0.85"/>
<circle cx="495.3" cy="72.2" r="0.7" fill="#efeee4" opacity="0.85"/>
<circle cx="436.3" cy="71.8" r="0.7" fill="#efeee4" opacity="0.85"/>
<circle cx="457.9" cy="70.3" r="0.7" fill="#efeee4" opacity="0.85"/>
<circle cx="486.3" cy="73.1" r="0.7" fill="#efeee4" opacity="0.85"/>
<circle cx="463.0" cy="90.4" r="0.7" fill="#efeee4" opacity="0.85"/>
<circle cx="414.5" cy="50.7" r="0.7" fill="#efeee4" opacity="0.85"/>
<circle cx="440.8" cy="28.8" r="0.7" fill="#efeee4" opacity="0.85"/>
<circle cx="442.6" cy="85.1" r="0.7" fill="#efeee4" opacity="0.85"/>
<circle cx="447.6" cy="79.0" r="0.7" fill="#efeee4" opacity="0.85"/>
<circle cx="455.4" cy="68.8" r="0.7" fill="#efeee4" opacity="0.85"/>
<circle cx="460.0" cy="36.5" r="0.7" fill="#efeee4" opacity="0.85"/>
<circle cx="471.5" cy="53.5" r="0.7" fill="#efeee4" opacity="0.85"/>
<circle cx="460.0" cy="64.9" r="0.7" fill="#efeee4" opacity="0.85"/>
<circle cx="426.9" cy="54.0" r="0.7" fill="#efeee4" opacity="0.85"/>
<circle cx="479.8" cy="51.4" r="0.7" fill="#efeee4" opacity="0.85"/>
<circle cx="402.5" cy="89.1" r="0.7" fill="#efeee4" opacity="0.85"/>
<circle cx="452.1" cy="83.7" r="0.7" fill="#efeee4" opacity="0.85"/>
<circle cx="410.0" cy="60.4" r="0.7" fill="#efeee4" opacity="0.85"/>
<circle cx="470.5" cy="49.6" r="0.7" fill="#efeee4" opacity="0.85"/>
<circle cx="463.4" cy="107.5" r="0.7" fill="#efeee4" opacity="0.85"/>
<circle cx="446.4" cy="42.3" r="0.7" fill="#efeee4" opacity="0.85"/>
<circle cx="492.5" cy="85.4" r="0.7" fill="#efeee4" opacity="0.85"/>
<circle cx="449.6" cy="67.7" r="0.7" fill="#efeee4" opacity="0.85"/>
<circle cx="409.1" cy="72.8" r="0.7" fill="#efeee4" opacity="0.85"/>
<circle cx="449.2" cy="52.0" r="0.7" fill="#efeee4" opacity="0.85"/>
<circle cx="445.9" cy="120.4" r="0.7" fill="#efeee4" opacity="0.85"/>
<circle cx="458.7" cy="78.4" r="0.7" fill="#efeee4" opacity="0.85"/>
<circle cx="474.8" cy="110.7" r="0.7" fill="#efeee4" opacity="0.85"/>
<circle cx="471.7" cy="55.9" r="0.7" fill="#efeee4" opacity="0.85"/>
<circle cx="395.1" cy="102.6" r="0.7" fill="#efeee4" opacity="0.85"/>
<circle cx="444.4" cy="67.9" r="0.7" fill="#efeee4" opacity="0.85"/>
<circle cx="460.0" cy="65.4" r="0.7" fill="#efeee4" opacity="0.85"/>
<circle cx="425.7" cy="129.9" r="0.7" fill="#efeee4" opacity="0.85"/>
<circle cx="398.3" cy="105.1" r="0.7" fill="#efeee4" opacity="0.85"/>
<circle cx="467.6" cy="126.9" r="0.7" fill="#efeee4" opacity="0.85"/>
<circle cx="451.5" cy="101.1" r="0.7" fill="#efeee4" opacity="0.85"/>
<circle cx="409.8" cy="83.2" r="0.7" fill="#efeee4" opacity="0.85"/>
<circle cx="391.2" cy="68.3" r="0.7" fill="#efeee4" opacity="0.85"/>
<circle cx="441.0" cy="78.0" r="0.7" fill="#efeee4" opacity="0.85"/>
<circle cx="426.5" cy="119.8" r="0.7" fill="#efeee4" opacity="0.85"/>
<circle cx="395.4" cy="86.0" r="0.7" fill="#efeee4" opacity="0.85"/>
<circle cx="426.9" cy="83.5" r="0.7" fill="#efeee4" opacity="0.85"/>
<circle cx="443.5" cy="132.9" r="0.7" fill="#efeee4" opacity="0.85"/>
<circle cx="411.9" cy="119.9" r="0.7" fill="#efeee4" opacity="0.85"/>
<circle cx="485.6" cy="78.1" r="0.7" fill="#efeee4" opacity="0.85"/>
<circle cx="422.8" cy="43.3" r="0.7" fill="#efeee4" opacity="0.85"/>
<circle cx="421.5" cy="130.7" r="0.7" fill="#efeee4" opacity="0.85"/>
<circle cx="390.3" cy="92.9" r="0.7" fill="#efeee4" opacity="0.85"/>
<circle cx="424.4" cy="130.4" r="0.7" fill="#efeee4" opacity="0.85"/>
<circle cx="451.9" cy="39.9" r="0.7" fill="#efeee4" opacity="0.85"/>
<circle cx="422.6" cy="89.4" r="0.7" fill="#efeee4" opacity="0.85"/>
<circle cx="446.4" cy="49.0" r="0.7" fill="#efeee4" opacity="0.85"/>
<circle cx="431.4" cy="64.8" r="0.7" fill="#efeee4" opacity="0.85"/>
<circle cx="460.2" cy="92.4" r="0.7" fill="#efeee4" opacity="0.85"/>
<circle cx="450.4" cy="60.3" r="0.7" fill="#efeee4" opacity="0.85"/>
<circle cx="469.5" cy="62.5" r="0.7" fill="#efeee4" opacity="0.85"/>
<circle cx="412.9" cy="67.0" r="0.7" fill="#efeee4" opacity="0.85"/>
<circle cx="429.7" cy="70.4" r="0.7" fill="#efeee4" opacity="0.85"/>
<circle cx="398.2" cy="112.7" r="0.7" fill="#efeee4" opacity="0.85"/>
<circle cx="461.1" cy="122.4" r="0.7" fill="#efeee4" opacity="0.85"/>
<circle cx="428.0" cy="108.9" r="0.7" fill="#efeee4" opacity="0.85"/>
<circle cx="449.8" cy="83.1" r="0.7" fill="#efeee4" opacity="0.85"/>
<circle cx="489.8" cy="66.3" r="0.7" fill="#efeee4" opacity="0.85"/>
<circle cx="457.7" cy="34.9" r="0.7" fill="#efeee4" opacity="0.85"/>
<circle cx="463.1" cy="75.6" r="0.7" fill="#efeee4" opacity="0.85"/>
<circle cx="408.4" cy="62.4" r="0.7" fill="#efeee4" opacity="0.85"/>
<circle cx="394.1" cy="58.0" r="0.7" fill="#efeee4" opacity="0.85"/>
<circle cx="445.5" cy="27.7" r="0.7" fill="#efeee4" opacity="0.85"/>
<circle cx="475.1" cy="111.9" r="0.7" fill="#efeee4" opacity="0.85"/>
<circle cx="420.4" cy="39.4" r="0.7" fill="#efeee4" opacity="0.85"/>
<circle cx="404.8" cy="48.0" r="0.7" fill="#efeee4" opacity="0.85"/>
<circle cx="424.6" cy="132.3" r="0.7" fill="#efeee4" opacity="0.85"/>
<circle cx="406.4" cy="105.8" r="0.7" fill="#efeee4" opacity="0.85"/>
<circle cx="479.0" cy="54.0" r="0.7" fill="#efeee4" opacity="0.85"/>
<circle cx="432.3" cy="106.7" r="0.7" fill="#efeee4" opacity="0.85"/>
<circle cx="421.7" cy="120.8" r="0.7" fill="#efeee4" opacity="0.85"/>
<circle cx="494.4" cy="80.8" r="0.7" fill="#efeee4" opacity="0.85"/>
<circle cx="413.7" cy="102.5" r="0.7" fill="#efeee4" opacity="0.85"/>
<circle cx="454.1" cy="55.2" r="0.7" fill="#efeee4" opacity="0.85"/>
<circle cx="436.6" cy="85.3" r="0.7" fill="#efeee4" opacity="0.85"/>
<circle cx="458.4" cy="119.2" r="0.7" fill="#efeee4" opacity="0.85"/>
<circle cx="426.9" cy="41.4" r="0.7" fill="#efeee4" opacity="0.85"/>
<circle cx="406.5" cy="122.6" r="0.7" fill="#efeee4" opacity="0.85"/>
<circle cx="426.4" cy="66.7" r="0.7" fill="#efeee4" opacity="0.85"/>
<circle cx="491.7" cy="104.5" r="0.7" fill="#efeee4" opacity="0.85"/>
<circle cx="494.9" cy="77.9" r="0.7" fill="#efeee4" opacity="0.85"/>
<circle cx="417.4" cy="63.2" r="0.7" fill="#efeee4" opacity="0.85"/>
<circle cx="465.6" cy="97.2" r="0.7" fill="#efeee4" opacity="0.85"/>
<circle cx="451.3" cy="134.5" r="0.7" fill="#efeee4" opacity="0.85"/>
<circle cx="480.1" cy="51.5" r="0.7" fill="#efeee4" opacity="0.85"/>
<circle cx="458.0" cy="103.7" r="0.7" fill="#efeee4" opacity="0.85"/>
<circle cx="425.6" cy="133.3" r="0.7" fill="#efeee4" opacity="0.85"/>
<circle cx="467.5" cy="124.0" r="0.7" fill="#efeee4" opacity="0.85"/>
<circle cx="424.7" cy="44.9" r="0.7" fill="#efeee4" opacity="0.85"/>
<circle cx="469.4" cy="74.8" r="0.7" fill="#efeee4" opacity="0.85"/>
<circle cx="420.3" cy="78.7" r="0.7" fill="#efeee4" opacity="0.85"/>
<circle cx="450.1" cy="87.6" r="0.7" fill="#efeee4" opacity="0.85"/>
<circle cx="434.2" cy="99.6" r="0.7" fill="#efeee4" opacity="0.85"/>
<circle cx="493.1" cy="102.7" r="0.7" fill="#efeee4" opacity="0.85"/>
<circle cx="429.3" cy="132.6" r="0.7" fill="#efeee4" opacity="0.85"/>
<circle cx="428.0" cy="36.9" r="0.7" fill="#efeee4" opacity="0.85"/>
<circle cx="411.7" cy="37.3" r="0.7" fill="#efeee4" opacity="0.85"/>
<circle cx="475.9" cy="49.6" r="0.7" fill="#efeee4" opacity="0.85"/>
<circle cx="399.2" cy="65.1" r="0.7" fill="#efeee4" opacity="0.85"/>
<circle cx="435.2" cy="41.5" r="0.7" fill="#efeee4" opacity="0.85"/>
<circle cx="420.3" cy="81.7" r="0.7" fill="#efeee4" opacity="0.85"/>
<circle cx="463.5" cy="50.1" r="0.7" fill="#efeee4" opacity="0.85"/>
<circle cx="462.6" cy="91.4" r="0.7" fill="#efeee4" opacity="0.85"/>
<circle cx="461.8" cy="62.2" r="0.7" fill="#efeee4" opacity="0.85"/>
<circle cx="406.6" cy="110.8" r="0.7" fill="#efeee4" opacity="0.85"/>
<circle cx="462.4" cy="57.8" r="0.7" fill="#efeee4" opacity="0.85"/>
<circle cx="414.8" cy="105.5" r="0.7" fill="#efeee4" opacity="0.85"/>
<circle cx="493.0" cy="91.1" r="0.7" fill="#efeee4" opacity="0.85"/>
<circle cx="495.8" cy="88.5" r="0.7" fill="#efeee4" opacity="0.85"/>
<circle cx="454.6" cy="99.9" r="0.7" fill="#efeee4" opacity="0.85"/>
<circle cx="471.1" cy="41.2" r="0.7" fill="#efeee4" opacity="0.85"/>
<circle cx="446.6" cy="122.9" r="0.7" fill="#efeee4" opacity="0.85"/>
<circle cx="395.6" cy="88.8" r="0.7" fill="#efeee4" opacity="0.85"/>
<circle cx="461.9" cy="128.1" r="0.7" fill="#efeee4" opacity="0.85"/>
<circle cx="488.5" cy="81.0" r="0.7" fill="#efeee4" opacity="0.85"/>
<circle cx="489.1" cy="56.6" r="0.7" fill="#efeee4" opacity="0.85"/>
<circle cx="405.0" cy="117.0" r="0.7" fill="#efeee4" opacity="0.85"/>
<circle cx="463.3" cy="45.4" r="0.7" fill="#efeee4" opacity="0.85"/>
<circle cx="476.0" cy="109.1" r="0.7" fill="#efeee4" opacity="0.85"/>
<circle cx="468.0" cy="65.9" r="0.7" fill="#efeee4" opacity="0.85"/>
<circle cx="410.4" cy="40.2" r="0.7" fill="#efeee4" opacity="0.85"/>
<circle cx="433.4" cy="75.7" r="0.7" fill="#efeee4" opacity="0.85"/>
<circle cx="423.1" cy="61.4" r="0.7" fill="#efeee4" opacity="0.85"/>
<circle cx="470.2" cy="47.0" r="0.7" fill="#efeee4" opacity="0.85"/>
<circle cx="423.5" cy="131.0" r="0.7" fill="#efeee4" opacity="0.85"/>
<circle cx="419.2" cy="59.2" r="0.7" fill="#efeee4" opacity="0.85"/>
<circle cx="468.3" cy="36.9" r="0.7" fill="#efeee4" opacity="0.85"/>
<circle cx="482.7" cy="49.7" r="0.7" fill="#efeee4" opacity="0.85"/>
<circle cx="416.8" cy="43.2" r="0.7" fill="#efeee4" opacity="0.85"/>
<circle cx="410.2" cy="57.5" r="0.7" fill="#efeee4" opacity="0.85"/>
<circle cx="474.8" cy="79.4" r="0.7" fill="#efeee4" opacity="0.85"/>
<circle cx="482.7" cy="104.9" r="0.7" fill="#efeee4" opacity="0.85"/>
<circle cx="401.2" cy="82.5" r="0.7" fill="#efeee4" opacity="0.85"/>
<circle cx="419.4" cy="66.1" r="0.7" fill="#efeee4" opacity="0.85"/>
<circle cx="446.5" cy="96.1" r="0.7" fill="#efeee4" opacity="0.85"/>
<circle cx="452.4" cy="30.3" r="0.7" fill="#efeee4" opacity="0.85"/>
<circle cx="435.8" cy="64.2" r="0.7" fill="#efeee4" opacity="0.85"/>
<circle cx="491.8" cy="75.2" r="0.7" fill="#efeee4" opacity="0.85"/>
<circle cx="440.3" cy="81.9" r="0.7" fill="#efeee4" opacity="0.85"/>
<circle cx="466.3" cy="45.7" r="0.7" fill="#efeee4" opacity="0.85"/>
<circle cx="436.6" cy="76.8" r="0.7" fill="#efeee4" opacity="0.85"/>
<circle cx="440.9" cy="71.8" r="0.7" fill="#efeee4" opacity="0.85"/>
<circle cx="421.2" cy="84.9" r="0.7" fill="#efeee4" opacity="0.85"/>
<circle cx="408.8" cy="122.2" r="0.7" fill="#efeee4" opacity="0.85"/>
<circle cx="441.5" cy="32.1" r="0.7" fill="#efeee4" opacity="0.85"/>
<circle cx="431.7" cy="114.9" r="0.7" fill="#efeee4" opacity="0.85"/>
<circle cx="433.9" cy="75.8" r="0.7" fill="#efeee4" opacity="0.85"/>
<circle cx="395.5" cy="110.6" r="0.7" fill="#efeee4" opacity="0.85"/>
<circle cx="443.3" cy="30.7" r="0.7" fill="#efeee4" opacity="0.85"/>
<circle cx="428.1" cy="125.8" r="0.7" fill="#efeee4" opacity="0.85"/>
<circle cx="453.2" cy="37.0" r="0.7" fill="#efeee4" opacity="0.85"/>
<circle cx="420.6" cy="90.9" r="0.7" fill="#efeee4" opacity="0.85"/>
<circle cx="493.7" cy="87.9" r="0.7" fill="#efeee4" opacity="0.85"/>
<circle cx="468.4" cy="69.9" r="0.7" fill="#efeee4" opacity="0.85"/>
<circle cx="443.3" cy="46.7" r="0.7" fill="#efeee4" opacity="0.85"/>
<circle cx="406.7" cy="45.6" r="0.7" fill="#efeee4" opacity="0.85"/>
<circle cx="423.2" cy="121.3" r="0.7" fill="#efeee4" opacity="0.85"/>
<circle cx="440.5" cy="121.5" r="0.7" fill="#efeee4" opacity="0.85"/>
<circle cx="469.9" cy="87.3" r="0.7" fill="#efeee4" opacity="0.85"/>
<circle cx="429.8" cy="133.4" r="0.7" fill="#efeee4" opacity="0.85"/>
<circle cx="474.4" cy="117.6" r="0.7" fill="#efeee4" opacity="0.85"/>
<circle cx="489.0" cy="110.5" r="0.7" fill="#efeee4" opacity="0.85"/>
<circle cx="450.5" cy="96.5" r="0.7" fill="#efeee4" opacity="0.85"/>
<circle cx="454.8" cy="133.9" r="0.7" fill="#efeee4" opacity="0.85"/>
<circle cx="416.5" cy="36.5" r="0.7" fill="#efeee4" opacity="0.85"/>
<circle cx="423.3" cy="82.1" r="0.7" fill="#efeee4" opacity="0.85"/>
<circle cx="421.9" cy="113.4" r="0.7" fill="#efeee4" opacity="0.85"/>
<circle cx="464.5" cy="80.6" r="0.7" fill="#efeee4" opacity="0.85"/>
<circle cx="443.9" cy="132.7" r="0.7" fill="#efeee4" opacity="0.85"/>
<circle cx="483.1" cy="117.8" r="0.7" fill="#efeee4" opacity="0.85"/>
<circle cx="430.0" cy="121.9" r="0.7" fill="#efeee4" opacity="0.85"/>
<circle cx="414.0" cy="37.4" r="0.7" fill="#efeee4" opacity="0.85"/>
<circle cx="487.2" cy="105.3" r="0.7" fill="#efeee4" opacity="0.85"/>
<circle cx="462.1" cy="124.3" r="0.7" fill="#efeee4" opacity="0.85"/>
<circle cx="489.7" cy="90.2" r="0.7" fill="#efeee4" opacity="0.85"/>
<circle cx="452.5" cy="104.8" r="0.7" fill="#efeee4" opacity="0.85"/>
<circle cx="472.7" cy="88.8" r="0.7" fill="#efeee4" opacity="0.85"/>
<circle cx="416.2" cy="130.3" r="0.7" fill="#efeee4" opacity="0.85"/>
<circle cx="415.9" cy="61.2" r="0.7" fill="#efeee4" opacity="0.85"/>
<circle cx="464.9" cy="80.6" r="0.7" fill="#efeee4" opacity="0.85"/>
<circle cx="453.8" cy="134.8" r="0.7" fill="#efeee4" opacity="0.85"/>
<circle cx="485.6" cy="68.3" r="0.7" fill="#efeee4" opacity="0.85"/>
<circle cx="455.1" cy="80.2" r="0.7" fill="#efeee4" opacity="0.85"/>
<circle cx="480.1" cy="55.6" r="0.7" fill="#efeee4" opacity="0.85"/>
<circle cx="417.0" cy="37.8" r="0.7" fill="#efeee4" opacity="0.85"/>
<circle cx="461.6" cy="97.0" r="0.7" fill="#efeee4" opacity="0.85"/>
<circle cx="466.8" cy="111.1" r="0.7" fill="#efeee4" opacity="0.85"/>
<circle cx="403.0" cy="70.4" r="0.7" fill="#efeee4" opacity="0.85"/>
<circle cx="411.1" cy="118.3" r="0.7" fill="#efeee4" opacity="0.85"/>
<circle cx="467.4" cy="41.1" r="0.7" fill="#efeee4" opacity="0.85"/>
<circle cx="463.0" cy="87.1" r="0.7" fill="#efeee4" opacity="0.85"/>
<circle cx="447.2" cy="108.5" r="0.7" fill="#efeee4" opacity="0.85"/>
<circle cx="420.2" cy="71.1" r="0.7" fill="#efeee4" opacity="0.85"/>
<circle cx="419.0" cy="59.1" r="0.7" fill="#efeee4" opacity="0.85"/>
<circle cx="411.5" cy="117.2" r="0.7" fill="#efeee4" opacity="0.85"/>
<circle cx="464.7" cy="73.7" r="0.7" fill="#efeee4" opacity="0.85"/>
<circle cx="410.3" cy="126.7" r="0.7" fill="#efeee4" opacity="0.85"/>
<circle cx="444.1" cy="90.8" r="0.7" fill="#efeee4" opacity="0.85"/>
<circle cx="460.2" cy="128.8" r="0.7" fill="#efeee4" opacity="0.85"/>
<circle cx="435.7" cy="28.8" r="0.7" fill="#efeee4" opacity="0.85"/>
<circle cx="430.8" cy="82.2" r="0.7" fill="#efeee4" opacity="0.85"/>
<circle cx="425.8" cy="126.0" r="0.7" fill="#efeee4" opacity="0.85"/>
<circle cx="425.9" cy="94.9" r="0.7" fill="#efeee4" opacity="0.85"/>
<circle cx="415.3" cy="108.5" r="0.7" fill="#efeee4" opacity="0.85"/>
<circle cx="419.2" cy="111.1" r="0.7" fill="#efeee4" opacity="0.85"/>
<circle cx="448.2" cy="89.2" r="0.7" fill="#efeee4" opacity="0.85"/>
<circle cx="451.9" cy="35.7" r="0.7" fill="#efeee4" opacity="0.85"/>
<circle cx="425.7" cy="91.2" r="0.7" fill="#efeee4" opacity="0.85"/>
<circle cx="430.3" cy="121.6" r="0.7" fill="#efeee4" opacity="0.85"/>
<circle cx="472.3" cy="58.4" r="0.7" fill="#efeee4" opacity="0.85"/>
<circle cx="481.6" cy="75.4" r="0.7" fill="#efeee4" opacity="0.85"/>
<circle cx="460.2" cy="121.4" r="0.7" fill="#efeee4" opacity="0.85"/>
<circle cx="407.4" cy="56.8" r="0.7" fill="#efeee4" opacity="0.85"/>
<circle cx="440.7" cy="73.7" r="0.7" fill="#efeee4" opacity="0.85"/>
<circle cx="396.4" cy="101.1" r="0.7" fill="#efeee4" opacity="0.85"/>
<circle cx="449.4" cy="90.7" r="0.7" fill="#efeee4" opacity="0.85"/>
<circle cx="454.1" cy="109.0" r="0.7" fill="#efeee4" opacity="0.85"/>
<circle cx="413.5" cy="94.3" r="0.7" fill="#efeee4" opacity="0.85"/>
<circle cx="426.9" cy="65.0" r="0.7" fill="#efeee4" opacity="0.85"/>
<circle cx="416.3" cy="119.5" r="0.7" fill="#efeee4" opacity="0.85"/>
<circle cx="390.0" cy="67.1" r="0.7" fill="#efeee4" opacity="0.85"/>
<circle cx="467.9" cy="71.0" r="0.7" fill="#efeee4" opacity="0.85"/>
<circle cx="421.3" cy="116.9" r="0.7" fill="#efeee4" opacity="0.85"/>
<circle cx="409.8" cy="72.9" r="0.7" fill="#efeee4" opacity="0.85"/>
<circle cx="458.0" cy="63.4" r="0.7" fill="#efeee4" opacity="0.85"/>
<circle cx="423.2" cy="85.4" r="0.7" fill="#efeee4" opacity="0.85"/>
<circle cx="473.7" cy="53.4" r="0.7" fill="#efeee4" opacity="0.85"/>
<circle cx="462.9" cy="80.4" r="0.7" fill="#efeee4" opacity="0.85"/>
<circle cx="431.7" cy="40.6" r="0.7" fill="#efeee4" opacity="0.85"/>
<circle cx="489.5" cy="97.9" r="0.7" fill="#efeee4" opacity="0.85"/>
<circle cx="453.0" cy="70.8" r="0.7" fill="#efeee4" opacity="0.85"/>
<circle cx="487.7" cy="64.5" r="0.7" fill="#efeee4" opacity="0.85"/>
<circle cx="409.7" cy="57.1" r="0.7" fill="#efeee4" opacity="0.85"/>
<circle cx="440.9" cy="95.2" r="0.7" fill="#efeee4" opacity="0.85"/>
<circle cx="391.2" cy="89.9" r="0.7" fill="#efeee4" opacity="0.85"/>
<circle cx="451.7" cy="118.8" r="0.7" fill="#efeee4" opacity="0.85"/>
<circle cx="432.7" cy="127.0" r="0.7" fill="#efeee4" opacity="0.85"/>
<circle cx="492.4" cy="68.9" r="0.7" fill="#efeee4" opacity="0.85"/>
<circle cx="433.6" cy="116.7" r="0.7" fill="#efeee4" opacity="0.85"/>
<circle cx="482.2" cy="82.7" r="0.7" fill="#efeee4" opacity="0.85"/>
<circle cx="472.8" cy="41.6" r="0.7" fill="#efeee4" opacity="0.85"/>
<circle cx="474.7" cy="97.9" r="0.7" fill="#efeee4" opacity="0.85"/>
<circle cx="473.6" cy="99.4" r="0.7" fill="#efeee4" opacity="0.85"/>
<circle cx="467.1" cy="66.7" r="0.7" fill="#efeee4" opacity="0.85"/>
<circle cx="472.6" cy="37.4" r="0.7" fill="#efeee4" opacity="0.85"/>
<circle cx="452.4" cy="59.4" r="0.7" fill="#efeee4" opacity="0.85"/>
<circle cx="488.3" cy="55.9" r="0.7" fill="#efeee4" opacity="0.85"/>
<circle cx="447.7" cy="81.9" r="0.7" fill="#efeee4" opacity="0.85"/>
<circle cx="471.8" cy="82.7" r="0.7" fill="#efeee4" opacity="0.85"/>
<circle cx="406.2" cy="78.0" r="0.7" fill="#efeee4" opacity="0.85"/>
<circle cx="479.0" cy="106.3" r="0.7" fill="#efeee4" opacity="0.85"/>
<circle cx="420.3" cy="43.8" r="0.7" fill="#efeee4" opacity="0.85"/>
<circle cx="401.1" cy="79.3" r="0.7" fill="#efeee4" opacity="0.85"/>
<circle cx="436.8" cy="69.0" r="0.7" fill="#efeee4" opacity="0.85"/>
<circle cx="423.3" cy="89.9" r="0.7" fill="#efeee4" opacity="0.85"/>
<circle cx="480.3" cy="111.3" r="0.7" fill="#efeee4" opacity="0.85"/>
<circle cx="427.5" cy="110.8" r="0.7" fill="#efeee4" opacity="0.85"/>
<circle cx="434.8" cy="123.8" r="0.7" fill="#efeee4" opacity="0.85"/>
<circle cx="474.6" cy="111.9" r="0.7" fill="#efeee4" opacity="0.85"/>
<circle cx="490.8" cy="105.1" r="0.7" fill="#efeee4" opacity="0.85"/>
<circle cx="468.7" cy="122.4" r="0.7" fill="#efeee4" opacity="0.85"/>
<circle cx="407.4" cy="71.9" r="0.7" fill="#efeee4" opacity="0.85"/>
<circle cx="430.9" cy="113.2" r="0.7" fill="#efeee4" opacity="0.85"/>
<circle cx="444.2" cy="42.0" r="0.7" fill="#efeee4" opacity="0.85"/>
<circle cx="415.2" cy="75.8" r="0.7" fill="#efeee4" opacity="0.85"/>
<circle cx="425.8" cy="65.9" r="0.7" fill="#efeee4" opacity="0.85"/>
<circle cx="397.6" cy="86.9" r="0.7" fill="#efeee4" opacity="0.85"/>
<circle cx="401.5" cy="70.4" r="0.7" fill="#efeee4" opacity="0.85"/>
<circle cx="420.0" cy="71.6" r="0.7" fill="#efeee4" opacity="0.85"/>
<circle cx="486.1" cy="70.0" r="0.7" fill="#efeee4" opacity="0.85"/>
<circle cx="433.8" cy="28.6" r="0.7" fill="#efeee4" opacity="0.85"/>
<circle cx="411.6" cy="91.5" r="0.7" fill="#efeee4" opacity="0.85"/>
<circle cx="431.6" cy="111.3" r="0.7" fill="#efeee4" opacity="0.85"/>
<circle cx="432.4" cy="111.6" r="0.7" fill="#efeee4" opacity="0.85"/>
<circle cx="451.8" cy="119.2" r="0.7" fill="#efeee4" opacity="0.85"/>
<circle cx="433.2" cy="114.4" r="0.7" fill="#efeee4" opacity="0.85"/>
<circle cx="426.0" cy="55.4" r="0.7" fill="#efeee4" opacity="0.85"/>
<circle cx="474.3" cy="44.6" r="0.7" fill="#efeee4" opacity="0.85"/>
<circle cx="418.1" cy="126.5" r="0.7" fill="#efeee4" opacity="0.85"/>
<circle cx="449.6" cy="97.3" r="0.7" fill="#efeee4" opacity="0.85"/>
<circle cx="452.0" cy="81.7" r="0.7" fill="#efeee4" opacity="0.85"/>
<circle cx="493.5" cy="83.8" r="0.7" fill="#efeee4" opacity="0.85"/>
<circle cx="486.7" cy="82.7" r="0.7" fill="#efeee4" opacity="0.85"/>
<circle cx="417.5" cy="73.0" r="0.7" fill="#efeee4" opacity="0.85"/>
<circle cx="443.5" cy="136.4" r="0.7" fill="#efeee4" opacity="0.85"/>
<circle cx="420.7" cy="98.9" r="0.7" fill="#efeee4" opacity="0.85"/>
<circle cx="397.9" cy="99.0" r="0.7" fill="#efeee4" opacity="0.85"/>
<circle cx="437.8" cy="98.0" r="0.7" fill="#efeee4" opacity="0.85"/>
<circle cx="446.3" cy="65.4" r="0.7" fill="#efeee4" opacity="0.85"/>
<circle cx="445.6" cy="83.3" r="0.7" fill="#efeee4" opacity="0.85"/>
<circle cx="478.4" cy="80.5" r="0.7" fill="#efeee4" opacity="0.85"/>
<circle cx="438.7" cy="40.8" r="0.7" fill="#efeee4" opacity="0.85"/>
<circle cx="474.0" cy="76.9" r="0.7" fill="#efeee4" opacity="0.85"/>
<circle cx="415.3" cy="119.0" r="0.7" fill="#efeee4" opacity="0.85"/>
<circle cx="475.3" cy="82.1" r="0.7" fill="#efeee4" opacity="0.85"/>
<circle cx="444.4" cy="40.2" r="0.7" fill="#efeee4" opacity="0.85"/>
<circle cx="388.6" cy="85.4" r="0.7" fill="#efeee4" opacity="0.85"/>
<circle cx="398.9" cy="101.4" r="0.7" fill="#efeee4" opacity="0.85"/>
<circle cx="429.3" cy="92.2" r="0.7" fill="#efeee4" opacity="0.85"/>
<circle cx="422.7" cy="98.5" r="0.7" fill="#efeee4" opacity="0.85"/>
<circle cx="471.1" cy="87.0" r="0.7" fill="#efeee4" opacity="0.85"/>
<circle cx="468.2" cy="108.6" r="0.7" fill="#efeee4" opacity="0.85"/>
<circle cx="438.3" cy="34.0" r="0.7" fill="#efeee4" opacity="0.85"/>
<circle cx="465.2" cy="61.2" r="0.7" fill="#efeee4" opacity="0.85"/>
<circle cx="416.7" cy="36.4" r="0.7" fill="#efeee4" opacity="0.85"/>
<circle cx="400.1" cy="114.2" r="0.7" fill="#efeee4" opacity="0.85"/>
<circle cx="484.3" cy="114.0" r="0.7" fill="#efeee4" opacity="0.85"/>
<circle cx="482.2" cy="44.8" r="0.7" fill="#efeee4" opacity="0.85"/>
<circle cx="464.7" cy="41.3" r="0.7" fill="#efeee4" opacity="0.85"/>
<circle cx="399.0" cy="100.6" r="0.7" fill="#efeee4" opacity="0.85"/>
<circle cx="472.3" cy="53.0" r="0.7" fill="#efeee4" opacity="0.85"/>
<circle cx="403.6" cy="45.2" r="0.7" fill="#efeee4" opacity="0.85"/>
<circle cx="435.1" cy="113.3" r="0.7" fill="#efeee4" opacity="0.85"/>
<circle cx="492.5" cy="93.5" r="0.7" fill="#efeee4" opacity="0.85"/>
<circle cx="410.8" cy="49.0" r="0.7" fill="#efeee4" opacity="0.85"/>
<circle cx="443.8" cy="105.7" r="0.7" fill="#efeee4" opacity="0.85"/>
<circle cx="390.7" cy="88.9" r="0.7" fill="#efeee4" opacity="0.85"/>
<circle cx="420.0" cy="110.4" r="0.7" fill="#efeee4" opacity="0.85"/>
<circle cx="397.8" cy="107.1" r="0.7" fill="#efeee4" opacity="0.85"/>
<circle cx="478.6" cy="118.1" r="0.7" fill="#efeee4" opacity="0.85"/>
<circle cx="488.1" cy="85.4" r="0.7" fill="#efeee4" opacity="0.85"/>
<circle cx="445.2" cy="44.2" r="0.7" fill="#efeee4" opacity="0.85"/>
<circle cx="440.5" cy="52.8" r="0.7" fill="#efeee4" opacity="0.85"/>
<circle cx="463.0" cy="107.7" r="0.7" fill="#efeee4" opacity="0.85"/>
<circle cx="437.6" cy="128.6" r="0.7" fill="#efeee4" opacity="0.85"/>
<circle cx="400.7" cy="64.4" r="0.7" fill="#efeee4" opacity="0.85"/>
<circle cx="490.1" cy="74.6" r="0.7" fill="#efeee4" opacity="0.85"/>
<circle cx="456.1" cy="29.4" r="0.7" fill="#efeee4" opacity="0.85"/>
<circle cx="484.9" cy="61.4" r="0.7" fill="#efeee4" opacity="0.85"/>
<circle cx="419.3" cy="114.2" r="0.7" fill="#efeee4" opacity="0.85"/>
<circle cx="443.7" cy="33.0" r="0.7" fill="#efeee4" opacity="0.85"/>
<circle cx="480.5" cy="54.0" r="0.7" fill="#efeee4" opacity="0.85"/>
<circle cx="428.4" cy="57.7" r="0.7" fill="#efeee4" opacity="0.85"/>
<circle cx="424.7" cy="65.5" r="0.7" fill="#efeee4" opacity="0.85"/>
<circle cx="428.0" cy="63.5" r="0.7" fill="#efeee4" opacity="0.85"/>
<circle cx="495.7" cy="88.0" r="0.7" fill="#efeee4" opacity="0.85"/>
<circle cx="462.9" cy="59.7" r="0.7" fill="#efeee4" opacity="0.85"/>
<circle cx="490.0" cy="95.9" r="0.7" fill="#efeee4" opacity="0.85"/>
<circle cx="444.9" cy="60.4" r="0.7" fill="#efeee4" opacity="0.85"/>
<circle cx="462.7" cy="35.8" r="0.7" fill="#efeee4" opacity="0.85"/>
<circle cx="416.2" cy="69.0" r="0.7" fill="#efeee4" opacity="0.85"/>
<circle cx="455.1" cy="86.8" r="0.7" fill="#efeee4" opacity="0.85"/>
<circle cx="398.2" cy="99.0" r="0.7" fill="#efeee4" opacity="0.85"/>
<circle cx="425.1" cy="62.0" r="0.7" fill="#efeee4" opacity="0.85"/>
<text x="48.0" y="165.0" font-size="10.3" text-anchor="middle" fill="#1a1a1a" font-weight="normal" >MCHS-4</text>
<text x="175.0" y="165.0" font-size="10.3" text-anchor="middle" fill="#1a1a1a" font-weight="normal" >MCHS-11</text>
<text x="305.0" y="164.0" font-size="10.3" text-anchor="middle" fill="#1a1a1a" font-weight="normal" >CuRu/MCHS-4</text>
<text x="436.0" y="164.0" font-size="10.3" text-anchor="middle" fill="#1a1a1a" font-weight="normal" >CuRu/MCHS-11</text>
<rect x="511.5" y="4.5" width="172" height="159.5" fill="none" stroke="#5a5a5a" stroke-width="1.2" stroke-dasharray="6.6,5.2"/>
<text x="517.5" y="17.5" font-size="10.3" text-anchor="start" fill="#1a1a1a" font-weight="normal" >Pore size</text>
<path d="M523.9,35.0 A102.6,102.6 0 0 1 542.2,89.9" fill="none" stroke="#aaaaaa" stroke-width="12"/>
<circle cx="523.9" cy="35.0" r="5.5" fill="#aaaaaa"/>
<path d="M542.2,97.3 A102.6,102.6 0 0 1 524.7,151.0" fill="none" stroke="#aaaaaa" stroke-width="12"/>
<circle cx="524.7" cy="151.0" r="5.5" fill="#aaaaaa"/>
<path d="M578.0,37.0 A91.7,91.7 0 0 1 596.9,83.1" fill="none" stroke="#aaaaaa" stroke-width="12"/>
<circle cx="578.0" cy="37.0" r="5.5" fill="#aaaaaa"/>
<path d="M597.1,102.5 A91.7,91.7 0 0 1 576.4,152.0" fill="none" stroke="#aaaaaa" stroke-width="12"/>
<circle cx="576.4" cy="152.0" r="5.5" fill="#aaaaaa"/>
<path d="M628.2,36.0 A100,100 0 0 1 643.5,70.8" fill="none" stroke="#aaaaaa" stroke-width="12"/>
<circle cx="628.2" cy="36.0" r="5.5" fill="#aaaaaa"/>
<path d="M643.9,113.4 A100,100 0 0 1 627.5,151.0" fill="none" stroke="#aaaaaa" stroke-width="12"/>
<circle cx="627.5" cy="151.0" r="5.5" fill="#aaaaaa"/>
<g stroke="#4a6fb0" stroke-width="0.9"><line x1="555" y1="89.6" x2="555" y2="97"/><line x1="553" y1="89.6" x2="557" y2="89.6"/><line x1="553" y1="97" x2="557" y2="97"/></g>
<text x="561.0" y="97.5" font-size="8.5" text-anchor="start" fill="#1a1a1a" font-weight="normal" >4 nm</text>
<g stroke="#222" stroke-width="0.9"><line x1="609" y1="82" x2="609" y2="102"/><line x1="607" y1="82" x2="611" y2="82"/><line x1="607" y1="102" x2="611" y2="102"/></g>
<text x="613.0" y="97.5" font-size="8.5" text-anchor="start" fill="#1a1a1a" font-weight="normal" >7 nm</text>
<g stroke="#222" stroke-width="0.9"><line x1="654" y1="69.5" x2="654" y2="113.5"/></g><g stroke="#4a6fb0" stroke-width="0.9"><line x1="651.5" y1="69.5" x2="656.5" y2="69.5"/><line x1="651.5" y1="113.5" x2="656.5" y2="113.5"/></g>
<text x="657.0" y="97.5" font-size="8.5" text-anchor="start" fill="#1a1a1a" font-weight="normal" >11 nm</text>
<text x="2.2" y="186.3" font-size="16.5" text-anchor="start" fill="#1a1a1a" font-weight="normal" >b</text>
<rect x="52.6" y="189.5" width="268.2" height="133.5" fill="none" stroke="#222" stroke-width="0.9"/>
<line x1="52.6" y1="317.6" x2="55.800000000000004" y2="317.6" stroke="#222" stroke-width="0.8"/>
<text x="48.7" y="320.2" font-size="7.6" text-anchor="end" fill="#1a1a1a" font-weight="normal" >0</text>
<line x1="52.6" y1="309.1" x2="54.300000000000004" y2="309.1" stroke="#222" stroke-width="0.8"/>
<line x1="52.6" y1="300.6" x2="55.800000000000004" y2="300.6" stroke="#222" stroke-width="0.8"/>
<text x="48.7" y="303.2" font-size="7.6" text-anchor="end" fill="#1a1a1a" font-weight="normal" >200</text>
<line x1="52.6" y1="292.0" x2="54.300000000000004" y2="292.0" stroke="#222" stroke-width="0.8"/>
<line x1="52.6" y1="283.5" x2="55.800000000000004" y2="283.5" stroke="#222" stroke-width="0.8"/>
<text x="48.7" y="286.1" font-size="7.6" text-anchor="end" fill="#1a1a1a" font-weight="normal" >400</text>
<line x1="52.6" y1="275.0" x2="54.300000000000004" y2="275.0" stroke="#222" stroke-width="0.8"/>
<line x1="52.6" y1="266.5" x2="55.800000000000004" y2="266.5" stroke="#222" stroke-width="0.8"/>
<text x="48.7" y="269.1" font-size="7.6" text-anchor="end" fill="#1a1a1a" font-weight="normal" >600</text>
<line x1="52.6" y1="257.9" x2="54.300000000000004" y2="257.9" stroke="#222" stroke-width="0.8"/>
<line x1="52.6" y1="249.4" x2="55.800000000000004" y2="249.4" stroke="#222" stroke-width="0.8"/>
<text x="48.7" y="252.0" font-size="7.6" text-anchor="end" fill="#1a1a1a" font-weight="normal" >800</text>
<line x1="52.6" y1="240.9" x2="54.300000000000004" y2="240.9" stroke="#222" stroke-width="0.8"/>
<line x1="52.6" y1="232.4" x2="55.800000000000004" y2="232.4" stroke="#222" stroke-width="0.8"/>
<text x="48.7" y="235.0" font-size="7.6" text-anchor="end" fill="#1a1a1a" font-weight="normal" >1000</text>
<line x1="52.6" y1="223.8" x2="54.300000000000004" y2="223.8" stroke="#222" stroke-width="0.8"/>
<line x1="52.6" y1="215.3" x2="55.800000000000004" y2="215.3" stroke="#222" stroke-width="0.8"/>
<text x="48.7" y="217.9" font-size="7.6" text-anchor="end" fill="#1a1a1a" font-weight="normal" >1200</text>
<line x1="52.6" y1="206.8" x2="54.300000000000004" y2="206.8" stroke="#222" stroke-width="0.8"/>
<line x1="52.6" y1="198.2" x2="55.800000000000004" y2="198.2" stroke="#222" stroke-width="0.8"/>
<text x="48.7" y="200.8" font-size="7.6" text-anchor="end" fill="#1a1a1a" font-weight="normal" >1400</text>
<line x1="52.6" y1="323.0" x2="52.6" y2="319.8" stroke="#222" stroke-width="0.8"/>
<text x="52.6" y="332.0" font-size="8.3" text-anchor="middle" fill="#1a1a1a" font-weight="normal" >0.0</text>
<line x1="79.4" y1="323.0" x2="79.4" y2="321.3" stroke="#222" stroke-width="0.8"/>
<line x1="106.2" y1="323.0" x2="106.2" y2="319.8" stroke="#222" stroke-width="0.8"/>
<text x="106.2" y="332.0" font-size="8.3" text-anchor="middle" fill="#1a1a1a" font-weight="normal" >0.2</text>
<line x1="133.1" y1="323.0" x2="133.1" y2="321.3" stroke="#222" stroke-width="0.8"/>
<line x1="159.9" y1="323.0" x2="159.9" y2="319.8" stroke="#222" stroke-width="0.8"/>
<text x="159.9" y="332.0" font-size="8.3" text-anchor="middle" fill="#1a1a1a" font-weight="normal" >0.4</text>
<line x1="186.7" y1="323.0" x2="186.7" y2="321.3" stroke="#222" stroke-width="0.8"/>
<line x1="213.5" y1="323.0" x2="213.5" y2="319.8" stroke="#222" stroke-width="0.8"/>
<text x="213.5" y="332.0" font-size="8.3" text-anchor="middle" fill="#1a1a1a" font-weight="normal" >0.6</text>
<line x1="240.3" y1="323.0" x2="240.3" y2="321.3" stroke="#222" stroke-width="0.8"/>
<line x1="267.2" y1="323.0" x2="267.2" y2="319.8" stroke="#222" stroke-width="0.8"/>
<text x="267.2" y="332.0" font-size="8.3" text-anchor="middle" fill="#1a1a1a" font-weight="normal" >0.8</text>
<line x1="294.0" y1="323.0" x2="294.0" y2="321.3" stroke="#222" stroke-width="0.8"/>
<line x1="320.8" y1="323.0" x2="320.8" y2="319.8" stroke="#222" stroke-width="0.8"/>
<text x="320.8" y="332.0" font-size="8.3" text-anchor="middle" fill="#1a1a1a" font-weight="normal" >1.0</text>
<text x="182" y="343.5" font-size="9" text-anchor="middle" fill="#1a1a1a">Relative pressure (P/P<tspan font-size="6" dy="2">0</tspan><tspan dy="-2">)</tspan></text>
<text transform="translate(27.8,256.5) rotate(-90)" font-size="9.1" text-anchor="middle" fill="#1a1a1a">Volume adsorption (cm<tspan font-size="6" dy="-3">3</tspan><tspan dy="3"> g</tspan><tspan font-size="6" dy="-3">-1</tspan><tspan dy="3">, STP)</tspan></text>
<path d="M52.6,307.4 L52.7,307.0 L52.8,306.6 L52.9,306.0 L53.0,305.4 L53.1,304.8 L53.3,304.2 L53.5,303.6 L53.7,303.1 L53.8,302.7 L53.9,302.2 L54.0,301.8 L54.1,301.5 L54.3,301.1 L54.6,300.8 L55.2,300.4 L56.1,300.1 L57.1,299.8 L58.2,299.6 L59.4,299.4 L60.8,299.3 L62.5,299.1 L64.6,298.8 L67.2,298.5 L70.3,298.2 L74.1,297.7 L78.7,297.1 L83.7,296.5 L89.2,295.9 L94.8,295.2 L100.5,294.5 L106.0,293.9 L111.3,293.3 L116.5,292.7 L121.6,292.2 L126.8,291.7 L131.9,291.1 L137.0,290.6 L142.1,290.1 L147.1,289.6 L152.1,289.0 L157.0,288.5 L162.0,287.9 L166.9,287.4 L171.7,286.8 L176.5,286.2 L181.2,285.7 L185.6,285.2 L189.9,284.7 L194.0,284.3 L197.9,283.9 L201.6,283.5 L205.2,283.2 L208.7,282.8 L212.2,282.5 L215.5,282.1 L218.9,281.8 L222.2,281.4 L225.4,281.1 L228.6,280.8 L231.7,280.4 L234.8,280.1 L237.8,279.7 L240.7,279.3 L243.6,278.9 L246.3,278.5 L249.0,278.2 L251.7,277.8 L254.2,277.4 L256.8,277.0 L259.3,276.5 L261.9,275.8 L264.5,275.0 L267.2,273.9 L270.0,272.7 L272.9,271.3 L275.7,269.8 L278.5,268.3 L281.2,266.8 L283.7,265.4 L285.9,264.1 L288.0,262.9 L289.8,261.8 L291.5,260.8 L293.0,259.8 L294.5,258.8 L295.9,257.8 L297.2,256.8 L298.5,255.6 L299.8,254.4 L301.0,253.1 L302.1,251.7 L303.2,250.3 L304.2,248.9 L305.2,247.5 L306.1,246.2 L307.1,245.0 L308.1,243.8 L309.2,242.5 L310.3,241.3 L311.3,240.1 L312.2,239.0 L313.1,238.1 L313.8,237.2 L314.4,236.6" fill="none" stroke="#a9d4ee" stroke-width="1.0" stroke-linejoin="round"/>
<path d="M314.4,236.6 L313.8,236.7 L313.2,236.8 L312.3,237.0 L311.4,237.1 L310.4,237.3 L309.4,237.5 L308.4,237.7 L307.4,237.9 L306.4,238.1 L305.3,238.2 L304.2,238.4 L303.1,238.5 L301.9,238.7 L300.8,239.0 L299.6,239.3 L298.5,239.7 L297.5,240.1 L296.5,240.5 L295.6,241.0 L294.6,241.5 L293.6,242.1 L292.5,242.9 L291.3,243.8 L290.0,245.0 L288.4,246.4 L286.6,248.1 L284.7,250.0 L282.7,252.1 L280.7,254.2 L278.7,256.2 L276.9,258.2 L275.2,259.9 L273.7,261.4 L272.2,262.9 L270.9,264.4 L269.6,265.7 L268.3,267.0 L267.1,268.2 L265.9,269.4 L264.7,270.5 L263.6,271.5 L262.6,272.4 L261.7,273.3 L260.7,274.1 L259.8,274.8 L258.8,275.5 L257.7,276.1 L256.4,276.7 L255.0,277.2 L253.2,277.6 L251.4,277.9 L249.5,278.2 L247.6,278.4 L246.0,278.6 L244.6,278.8 L243.6,278.9" fill="none" stroke="#a9d4ee" stroke-width="1.0" stroke-linejoin="round"/>
<path d="M52.6,304.8 L52.7,304.4 L52.8,303.9 L52.9,303.3 L53.0,302.7 L53.1,302.0 L53.3,301.3 L53.5,300.7 L53.7,300.1 L53.8,299.7 L53.9,299.2 L54.0,298.8 L54.1,298.4 L54.3,298.1 L54.6,297.7 L55.2,297.3 L56.1,297.0 L57.1,296.6 L58.2,296.3 L59.4,296.1 L60.8,295.8 L62.5,295.5 L64.6,295.2 L67.2,294.7 L70.3,294.2 L74.1,293.4 L78.7,292.6 L83.7,291.7 L89.2,290.7 L94.8,289.7 L100.5,288.7 L106.0,287.7 L111.3,286.8 L116.5,286.0 L121.6,285.3 L126.8,284.6 L131.9,283.9 L137.0,283.2 L142.1,282.4 L147.1,281.7 L152.1,280.9 L157.2,280.1 L162.4,279.2 L167.7,278.3 L172.9,277.4 L177.9,276.5 L182.5,275.6 L186.5,274.8 L189.9,274.1 L192.5,273.5 L194.4,273.1 L195.7,272.7 L196.6,272.3 L197.4,271.9 L198.1,271.6 L198.9,271.2 L200.1,270.7 L201.4,270.2 L202.7,269.7 L204.0,269.2 L205.3,268.7 L206.7,268.1 L208.3,267.5 L210.0,266.8 L211.9,266.0 L214.1,265.2 L216.5,264.2 L219.1,263.2 L221.8,262.1 L224.6,261.0 L227.4,259.8 L230.1,258.7 L232.8,257.7 L235.5,256.6 L238.4,255.5 L241.2,254.3 L244.1,253.2 L246.8,252.1 L249.5,251.0 L251.9,250.1 L254.0,249.3 L255.8,248.7 L257.1,248.1 L258.2,247.7 L259.2,247.4 L260.2,247.1 L261.3,246.8 L262.7,246.4 L264.5,246.1 L266.7,245.7 L269.2,245.3 L272.0,244.9 L274.9,244.5 L277.8,244.1 L280.7,243.7 L283.4,243.3 L285.9,242.9 L288.2,242.6 L290.4,242.3 L292.5,242.0 L294.5,241.7 L296.5,241.4 L298.4,241.1 L300.2,240.8 L302.0,240.4 L303.8,240.1 L305.7,239.7 L307.5,239.3 L309.2,238.9 L310.8,238.5 L312.2,238.1 L313.4,237.9 L314.4,237.6" fill="none" stroke="#6f76c4" stroke-width="1.0" stroke-linejoin="round"/>
<path d="M314.4,237.5 L313.4,237.7 L312.2,237.9 L310.8,238.2 L309.2,238.6 L307.5,239.0 L305.7,239.3 L303.8,239.7 L302.0,240.0 L300.2,240.3 L298.4,240.7 L296.5,241.0 L294.5,241.3 L292.5,241.6 L290.4,241.9 L288.2,242.2 L285.9,242.6 L283.5,242.9 L280.8,243.3 L277.9,243.7 L275.0,244.1 L272.2,244.5 L269.4,244.9 L266.8,245.2 L264.5,245.6 L262.4,245.8 L260.7,246.0 L259.1,246.1 L257.6,246.2 L256.1,246.4 L254.6,246.6 L252.9,246.8 L251.1,247.3 L249.0,247.8 L246.9,248.5 L244.7,249.2 L242.4,250.0 L240.1,250.8 L237.7,251.7 L235.3,252.6 L232.8,253.5 L230.3,254.5 L227.6,255.5 L224.9,256.6 L222.1,257.7 L219.4,258.8 L216.8,259.9 L214.2,261.0 L211.9,262.0 L209.7,263.0 L207.7,264.0 L205.7,265.0 L203.8,266.0 L202.1,266.9 L200.4,267.8 L198.9,268.7 L197.4,269.4 L196.1,270.1 L194.9,270.8 L193.8,271.5 L192.8,272.0 L191.9,272.5 L191.1,273.0 L190.5,273.4 L189.9,273.7" fill="none" stroke="#6f76c4" stroke-width="1.0" stroke-linejoin="round"/>
<path d="M52.6,303.1 L52.7,302.6 L52.8,302.0 L52.9,301.2 L53.0,300.3 L53.1,299.4 L53.3,298.6 L53.5,297.8 L53.7,297.1 L53.8,296.6 L53.9,296.2 L54.0,295.9 L54.1,295.5 L54.3,295.2 L54.6,294.9 L55.2,294.4 L56.1,293.9 L57.1,293.3 L58.2,292.6 L59.4,291.9 L60.8,291.1 L62.5,290.3 L64.6,289.4 L67.2,288.6 L70.3,287.8 L74.1,286.9 L78.7,286.0 L83.7,285.2 L89.2,284.3 L94.8,283.3 L100.5,282.4 L106.0,281.6 L111.3,280.7 L116.5,279.8 L121.8,279.0 L127.2,278.2 L132.5,277.3 L137.8,276.5 L142.8,275.7 L147.6,274.9 L152.1,274.1 L156.3,273.4 L160.1,272.6 L163.8,271.9 L167.3,271.2 L170.6,270.5 L173.8,269.8 L176.9,269.1 L180.0,268.3 L183.0,267.6 L185.8,266.8 L188.4,266.1 L191.0,265.3 L193.5,264.6 L196.0,263.8 L198.6,262.9 L201.2,262.0 L203.9,261.1 L206.6,260.1 L209.3,259.2 L212.0,258.2 L214.7,257.1 L217.4,256.0 L219.9,254.8 L222.4,253.5 L224.7,252.1 L227.0,250.6 L229.2,248.9 L231.4,247.3 L233.4,245.6 L235.4,243.9 L237.4,242.3 L239.3,240.8 L241.1,239.3 L242.8,237.9 L244.4,236.6 L246.0,235.2 L247.5,233.9 L249.0,232.6 L250.5,231.4 L251.9,230.2 L253.2,229.1 L254.5,227.9 L255.6,226.8 L256.8,225.8 L257.9,224.8 L259.1,223.8 L260.4,222.9 L261.8,222.1 L263.3,221.4 L264.7,220.8 L266.2,220.2 L267.8,219.7 L269.5,219.2 L271.2,218.7 L273.1,218.1 L275.2,217.5 L277.6,216.8 L280.2,216.0 L283.0,215.2 L286.0,214.3 L288.9,213.5 L291.7,212.7 L294.2,211.9 L296.4,211.2 L298.3,210.6 L299.9,210.1 L301.3,209.7 L302.6,209.3 L303.7,208.8 L304.9,208.3 L306.0,207.7 L307.1,207.0 L308.3,206.1 L309.6,205.0 L310.8,203.8 L311.9,202.5 L313.0,201.3 L314.0,200.1 L314.8,199.2 L315.4,198.5" fill="none" stroke="#2563ad" stroke-width="1.1" stroke-linejoin="round"/>
<path d="M315.4,198.2 L315.0,198.7 L314.5,199.4 L313.8,200.2 L313.1,201.0 L312.3,201.9 L311.5,202.8 L310.8,203.6 L310.1,204.2 L309.4,204.7 L308.9,205.1 L308.3,205.5 L307.7,205.8 L307.1,206.1 L306.4,206.4 L305.6,206.8 L304.7,207.2 L303.7,207.7 L302.6,208.1 L301.4,208.6 L300.2,209.2 L298.8,209.7 L297.4,210.3 L295.7,210.9 L294.0,211.5 L292.0,212.1 L289.8,212.8 L287.4,213.6 L285.0,214.3 L282.5,215.1 L280.0,215.8 L277.5,216.5 L275.2,217.2 L273.0,217.8 L270.8,218.3 L268.6,218.7 L266.5,219.2 L264.4,219.7 L262.3,220.2 L260.3,220.7 L258.3,221.3 L256.4,221.9 L254.4,222.5 L252.5,223.1 L250.7,223.8 L248.9,224.5 L247.1,225.3 L245.3,226.2 L243.6,227.2 L241.9,228.4 L240.3,229.6 L238.7,230.9 L237.1,232.2 L235.6,233.7 L234.0,235.2 L232.4,236.7 L230.7,238.3 L228.9,240.0 L227.1,241.8 L225.3,243.8 L223.4,245.7 L221.5,247.7 L219.7,249.5 L217.8,251.3 L215.9,252.8 L214.1,254.2 L212.2,255.4 L210.4,256.6 L208.5,257.7 L206.7,258.7 L204.9,259.6 L203.0,260.5 L201.2,261.3 L199.3,262.2 L197.2,263.0 L195.1,263.7 L193.0,264.4 L191.1,265.1 L189.3,265.6 L187.8,266.1 L186.7,266.5" fill="none" stroke="#2563ad" stroke-width="1.1" stroke-linejoin="round"/>
<path d="M52.6,315.4 L52.7,315.0 L52.7,314.4 L52.8,313.7 L52.9,313.0 L53.0,312.2 L53.1,311.5 L53.4,310.8 L53.7,310.3 L54.0,309.8 L54.4,309.4 L54.8,309.0 L55.3,308.6 L55.8,308.3 L56.5,308.0 L57.3,307.7 L58.2,307.4 L59.2,307.1 L60.0,306.9 L60.9,306.7 L62.0,306.6 L63.3,306.4 L65.1,306.2 L67.4,306.0 L70.3,305.7 L74.0,305.3 L78.5,304.8 L83.6,304.4 L89.0,303.9 L94.7,303.3 L100.4,302.8 L106.0,302.3 L111.3,301.8 L116.5,301.4 L121.6,300.9 L126.8,300.4 L131.9,300.0 L137.0,299.5 L142.1,299.1 L147.1,298.7 L152.1,298.4 L157.1,298.2 L162.1,298.0 L167.1,297.8 L172.1,297.7 L176.9,297.6 L181.5,297.5 L185.9,297.3 L189.9,297.1 L193.5,296.9 L196.7,296.7 L199.5,296.5 L202.2,296.3 L204.8,296.0 L207.5,295.8 L210.4,295.5 L213.5,295.3 L217.0,295.0 L220.5,294.8 L224.2,294.5 L228.0,294.2 L231.9,293.9 L235.8,293.6 L239.7,293.3 L243.6,292.9 L247.5,292.4 L251.7,291.9 L255.9,291.3 L260.1,290.7 L264.2,290.1 L268.2,289.5 L271.9,289.0 L275.2,288.4 L278.2,288.0 L280.9,287.6 L283.4,287.2 L285.7,286.8 L287.9,286.4 L290.0,286.1 L292.0,285.7 L294.0,285.2 L295.9,284.8 L297.8,284.3 L299.5,283.9 L301.2,283.5 L302.8,283.0 L304.3,282.4 L305.7,281.7 L307.1,280.9 L308.4,279.9 L309.7,278.7 L311.0,277.2 L312.1,275.8 L313.1,274.3 L314.1,273.0 L314.8,271.9 L315.4,271.1" fill="none" stroke="#f3a5a5" stroke-width="1.0" stroke-linejoin="round"/>
<path d="M315.4,269.9 L314.9,270.2 L314.2,270.7 L313.5,271.3 L312.6,271.9 L311.5,272.6 L310.3,273.3 L308.8,274.0 L307.1,274.7 L305.1,275.4 L302.7,276.2 L300.1,277.0 L297.3,277.9 L294.4,278.7 L291.5,279.5 L288.7,280.2 L285.9,280.9 L283.3,281.6 L280.6,282.2 L278.0,282.7 L275.3,283.2 L272.7,283.8 L270.0,284.3 L267.4,284.8 L264.7,285.3 L262.2,285.8 L259.7,286.3 L257.2,286.9 L254.7,287.4 L252.2,287.9 L249.5,288.4 L246.6,289.0 L243.6,289.5 L240.2,290.0 L236.5,290.5 L232.7,291.0 L228.7,291.6 L224.7,292.1 L220.8,292.6 L217.0,293.1 L213.5,293.6 L210.1,294.0 L206.6,294.5 L203.2,294.9 L199.8,295.4 L196.8,295.8 L194.0,296.2 L191.7,296.5 L189.9,296.7" fill="none" stroke="#f3a5a5" stroke-width="1.0" stroke-linejoin="round"/>
<path d="M52.6,315.4 L52.7,315.0 L52.7,314.4 L52.8,313.7 L52.9,313.0 L53.0,312.2 L53.1,311.5 L53.4,310.8 L53.7,310.3 L54.0,309.8 L54.4,309.4 L54.8,309.0 L55.3,308.6 L55.8,308.3 L56.5,308.0 L57.3,307.7 L58.2,307.4 L59.2,307.1 L60.0,306.9 L60.9,306.7 L62.0,306.6 L63.3,306.4 L65.1,306.2 L67.4,306.0 L70.3,305.7 L74.0,305.3 L78.5,304.8 L83.6,304.4 L89.0,303.9 L94.7,303.3 L100.4,302.8 L106.0,302.3 L111.3,301.8 L116.5,301.4 L121.6,301.0 L126.8,300.5 L131.9,300.1 L137.0,299.7 L142.1,299.3 L147.1,298.9 L152.1,298.4 L157.1,298.0 L162.1,297.5 L167.1,297.0 L172.1,296.5 L176.9,296.1 L181.5,295.6 L185.9,295.2 L189.9,294.8 L193.5,294.4 L196.7,294.0 L199.5,293.7 L202.2,293.4 L204.8,293.1 L207.5,292.8 L210.4,292.4 L213.5,292.0 L217.0,291.6 L220.5,291.1 L224.2,290.7 L228.0,290.1 L231.9,289.6 L235.8,289.0 L239.7,288.4 L243.6,287.8 L247.5,287.0 L251.7,286.2 L255.9,285.4 L260.1,284.5 L264.2,283.6 L268.2,282.7 L271.9,281.8 L275.2,280.9 L278.2,280.1 L280.9,279.3 L283.4,278.4 L285.7,277.6 L287.9,276.7 L290.0,275.9 L292.0,275.0 L294.0,274.1 L296.0,273.2 L297.9,272.2 L299.7,271.2 L301.4,270.2 L303.1,269.2 L304.6,268.2 L306.1,267.3 L307.4,266.5 L308.6,265.7 L309.7,264.9 L310.8,264.1 L311.7,263.4 L312.5,262.8 L313.3,262.2 L313.9,261.7 L314.4,261.3" fill="none" stroke="#e2545a" stroke-width="1.0" stroke-linejoin="round"/>
<path d="M314.4,260.9 L313.9,261.1 L313.3,261.4 L312.5,261.7 L311.7,262.1 L310.8,262.5 L309.7,262.9 L308.6,263.3 L307.4,263.7 L306.1,264.1 L304.6,264.5 L303.1,265.0 L301.4,265.4 L299.7,265.9 L297.9,266.3 L296.0,266.8 L294.0,267.3 L292.0,267.8 L290.0,268.2 L287.9,268.7 L285.7,269.2 L283.4,269.7 L280.9,270.2 L278.2,270.9 L275.2,271.6 L271.9,272.4 L268.2,273.2 L264.2,274.2 L260.1,275.1 L255.9,276.2 L251.7,277.2 L247.5,278.2 L243.6,279.2 L239.7,280.3 L235.8,281.3 L231.9,282.4 L228.0,283.5 L224.2,284.6 L220.5,285.6 L217.0,286.6 L213.5,287.6 L210.1,288.5 L206.6,289.4 L203.2,290.3 L199.8,291.2 L196.8,292.0 L194.0,292.7 L191.7,293.3 L189.9,293.7" fill="none" stroke="#e2545a" stroke-width="1.0" stroke-linejoin="round"/>
<path d="M52.6,315.4 L52.7,315.0 L52.7,314.4 L52.8,313.7 L52.9,313.0 L53.0,312.2 L53.1,311.5 L53.4,310.8 L53.7,310.3 L54.0,309.8 L54.4,309.4 L54.8,309.0 L55.3,308.6 L55.8,308.3 L56.5,308.0 L57.3,307.7 L58.2,307.4 L59.2,307.1 L60.0,306.9 L60.9,306.7 L62.0,306.6 L63.3,306.4 L65.1,306.2 L67.4,306.0 L70.3,305.7 L74.0,305.3 L78.5,304.8 L83.6,304.4 L89.0,303.9 L94.7,303.3 L100.4,302.8 L106.0,302.3 L111.3,301.8 L116.5,301.4 L121.6,301.0 L126.8,300.6 L131.9,300.2 L137.0,299.8 L142.1,299.4 L147.1,298.9 L152.1,298.4 L157.1,297.8 L162.1,297.2 L167.1,296.5 L172.1,295.8 L176.9,295.1 L181.5,294.5 L185.9,293.9 L189.9,293.3 L193.5,292.8 L196.7,292.5 L199.5,292.1 L202.2,291.8 L204.8,291.5 L207.5,291.2 L210.4,290.8 L213.5,290.3 L217.0,289.8 L220.5,289.3 L224.2,288.7 L228.0,288.1 L231.9,287.4 L235.8,286.7 L239.7,286.0 L243.6,285.2 L247.5,284.4 L251.7,283.5 L255.9,282.5 L260.1,281.5 L264.2,280.5 L268.2,279.5 L271.9,278.5 L275.2,277.5 L278.2,276.6 L280.9,275.6 L283.4,274.6 L285.7,273.6 L287.9,272.7 L290.0,271.7 L292.0,270.8 L294.0,269.9 L296.0,269.0 L297.9,268.0 L299.7,267.1 L301.4,266.3 L303.1,265.4 L304.6,264.6 L306.1,263.8 L307.4,263.0 L308.6,262.3 L309.7,261.6 L310.8,260.9 L311.7,260.3 L312.5,259.7 L313.3,259.1 L313.9,258.7 L314.4,258.4" fill="none" stroke="#c32d36" stroke-width="1.0" stroke-linejoin="round"/>
<path d="M314.4,257.9 L313.9,258.1 L313.3,258.4 L312.5,258.7 L311.7,259.1 L310.8,259.4 L309.7,259.8 L308.6,260.2 L307.4,260.7 L306.1,261.1 L304.6,261.5 L303.1,261.9 L301.4,262.4 L299.7,262.9 L297.9,263.4 L296.0,263.8 L294.0,264.3 L292.0,264.8 L290.0,265.2 L287.9,265.6 L285.7,266.0 L283.4,266.5 L280.9,267.0 L278.2,267.6 L275.2,268.3 L271.9,269.2 L268.2,270.1 L264.2,271.2 L260.1,272.3 L255.9,273.4 L251.7,274.6 L247.5,275.7 L243.6,276.8 L239.7,277.8 L235.8,278.9 L231.9,279.9 L228.0,281.0 L224.2,282.0 L220.5,283.0 L217.0,284.1 L213.5,285.0 L210.1,286.0 L206.6,287.1 L203.2,288.1 L199.8,289.1 L196.8,290.1 L194.0,290.9 L191.7,291.7 L189.9,292.2" fill="none" stroke="#c32d36" stroke-width="1.0" stroke-linejoin="round"/>
<line x1="208.5" y1="301.7" x2="221" y2="301.7" stroke="#6f76c4" stroke-width="1"/>
<text x="223.5" y="304.0" font-size="6.6" text-anchor="start" fill="#1a1a1a" font-weight="normal" >MCHS-4</text>
<line x1="208.5" y1="309.7" x2="221" y2="309.7" stroke="#2563ad" stroke-width="1"/>
<text x="223.5" y="312.0" font-size="6.6" text-anchor="start" fill="#1a1a1a" font-weight="normal" >MCHS-7</text>
<line x1="208.5" y1="317.7" x2="221" y2="317.7" stroke="#a9d4ee" stroke-width="1"/>
<text x="223.5" y="320.0" font-size="6.6" text-anchor="start" fill="#1a1a1a" font-weight="normal" >MCHS-11</text>
<line x1="254" y1="301.7" x2="266" y2="301.7" stroke="#f3a5a5" stroke-width="1"/>
<text x="269.0" y="304.0" font-size="6.6" text-anchor="start" fill="#1a1a1a" font-weight="normal" >CuRu/MCHS-4</text>
<line x1="254" y1="309.7" x2="266" y2="309.7" stroke="#c32d36" stroke-width="1"/>
<text x="269.0" y="312.0" font-size="6.6" text-anchor="start" fill="#1a1a1a" font-weight="normal" >CuRu/MCHS-7</text>
<line x1="254" y1="317.7" x2="266" y2="317.7" stroke="#e2545a" stroke-width="1"/>
<text x="269.0" y="320.0" font-size="6.6" text-anchor="start" fill="#1a1a1a" font-weight="normal" >CuRu/MCHS-11</text>
<rect x="79.6" y="195.6" width="107.0" height="64.6" fill="#fff" stroke="#444" stroke-width="0.6"/>
<line x1="79.6" y1="260.2" x2="79.6" y2="258.7" stroke="#444" stroke-width="0.5"/>
<text x="79.6" y="265.4" font-size="4.9" text-anchor="middle" fill="#1a1a1a" font-weight="normal" >0</text>
<line x1="97.4" y1="260.2" x2="97.4" y2="258.7" stroke="#444" stroke-width="0.5"/>
<text x="97.4" y="265.4" font-size="4.9" text-anchor="middle" fill="#1a1a1a" font-weight="normal" >5</text>
<line x1="115.3" y1="260.2" x2="115.3" y2="258.7" stroke="#444" stroke-width="0.5"/>
<text x="115.3" y="265.4" font-size="4.9" text-anchor="middle" fill="#1a1a1a" font-weight="normal" >10</text>
<line x1="133.1" y1="260.2" x2="133.1" y2="258.7" stroke="#444" stroke-width="0.5"/>
<text x="133.1" y="265.4" font-size="4.9" text-anchor="middle" fill="#1a1a1a" font-weight="normal" >15</text>
<line x1="150.9" y1="260.2" x2="150.9" y2="258.7" stroke="#444" stroke-width="0.5"/>
<text x="150.9" y="265.4" font-size="4.9" text-anchor="middle" fill="#1a1a1a" font-weight="normal" >20</text>
<line x1="168.8" y1="260.2" x2="168.8" y2="258.7" stroke="#444" stroke-width="0.5"/>
<text x="168.8" y="265.4" font-size="4.9" text-anchor="middle" fill="#1a1a1a" font-weight="normal" >25</text>
<line x1="186.6" y1="260.2" x2="186.6" y2="258.7" stroke="#444" stroke-width="0.5"/>
<text x="186.6" y="265.4" font-size="4.9" text-anchor="middle" fill="#1a1a1a" font-weight="normal" >30</text>
<line x1="79.6" y1="260.2" x2="81.1" y2="260.2" stroke="#444" stroke-width="0.5"/>
<text x="78.4" y="261.9" font-size="4.9" text-anchor="end" fill="#1a1a1a" font-weight="normal" >0.0</text>
<line x1="79.6" y1="227.9" x2="81.1" y2="227.9" stroke="#444" stroke-width="0.5"/>
<text x="78.4" y="229.6" font-size="4.9" text-anchor="end" fill="#1a1a1a" font-weight="normal" >0.1</text>
<line x1="79.6" y1="195.6" x2="81.1" y2="195.6" stroke="#444" stroke-width="0.5"/>
<text x="78.4" y="197.3" font-size="4.9" text-anchor="end" fill="#1a1a1a" font-weight="normal" >0.2</text>
<text x="133.0" y="270.5" font-size="4.8" text-anchor="middle" fill="#1a1a1a" font-weight="normal" >Pore diameter (nm)</text>
<text transform="translate(68.5,228) rotate(-90)" font-size="3.8" text-anchor="middle" fill="#222">dV/d(t) (cm<tspan font-size="2.6" dy="-1.3">3</tspan><tspan dy="1.3"> g</tspan><tspan font-size="2.6" dy="-1.3">-1</tspan><tspan dy="1.3"> nm</tspan><tspan font-size="2.6" dy="-1.3">-1</tspan><tspan dy="1.3">)</tspan></text>
<path d="M83.9,260.2 L84.2,260.2 L84.7,260.1 L85.3,260.1 L86.0,260.1 L86.7,260.0 L87.3,260.0 L88.0,259.9 L88.5,259.9 L89.0,259.9 L89.5,259.9 L90.0,260.0 L90.5,260.1 L90.9,260.1 L91.3,260.0 L91.7,259.7 L92.1,259.2 L92.4,258.6 L92.7,257.8 L92.9,256.9 L93.1,255.8 L93.3,254.7 L93.5,253.4 L93.7,252.0 L93.9,250.5 L94.1,248.8 L94.3,247.0 L94.5,244.9 L94.8,242.8 L95.0,240.6 L95.2,238.5 L95.4,236.4 L95.6,234.4 L95.9,232.3 L96.1,230.1 L96.3,227.8 L96.5,225.6 L96.8,223.5 L97.0,221.8 L97.2,220.5 L97.4,219.8 L97.7,219.7 L97.9,220.1 L98.1,220.8 L98.3,221.9 L98.5,223.3 L98.7,224.8 L99.0,226.3 L99.2,227.9 L99.5,229.6 L99.8,231.5 L100.1,233.7 L100.4,235.9 L100.7,238.2 L101.0,240.3 L101.4,242.3 L101.7,244.0 L102.0,245.6 L102.4,247.0 L102.7,248.3 L103.1,249.4 L103.4,250.5 L103.8,251.5 L104.2,252.3 L104.6,253.1 L105.0,253.7 L105.3,254.2 L105.7,254.5 L106.1,254.7 L106.5,254.9 L107.0,255.0 L107.5,255.2 L108.1,255.4 L108.8,255.5 L109.6,255.7 L110.4,255.8 L111.3,255.9 L112.2,256.0 L113.1,256.1 L114.2,256.2 L115.3,256.3 L116.4,256.5 L117.5,256.6 L118.7,256.8 L119.9,257.0 L121.3,257.1 L122.7,257.3 L124.3,257.5 L126.0,257.6 L127.8,257.8 L129.8,257.9 L132.0,258.0 L134.2,258.2 L136.5,258.3 L138.9,258.4 L141.4,258.5 L143.8,258.6 L146.3,258.7 L148.9,258.7 L151.6,258.8 L154.4,258.8 L157.1,258.8 L159.9,258.8 L162.6,258.9 L165.2,258.9 L167.9,259.0 L170.7,259.0 L173.5,259.0 L176.3,259.1 L179.0,259.1 L181.3,259.2 L183.3,259.2 L184.8,259.2" fill="none" stroke="#f08c8c" stroke-width="0.7"/>
<circle cx="83.9" cy="260.2" r="0.85" fill="none" stroke="#f08c8c" stroke-width="0.45"/>
<circle cx="86.0" cy="260.1" r="0.85" fill="none" stroke="#f08c8c" stroke-width="0.45"/>
<circle cx="88.0" cy="259.9" r="0.85" fill="none" stroke="#f08c8c" stroke-width="0.45"/>
<circle cx="90.0" cy="260.0" r="0.85" fill="none" stroke="#f08c8c" stroke-width="0.45"/>
<circle cx="92.1" cy="259.2" r="0.85" fill="none" stroke="#f08c8c" stroke-width="0.45"/>
<circle cx="92.9" cy="256.9" r="0.85" fill="none" stroke="#f08c8c" stroke-width="0.45"/>
<circle cx="93.3" cy="254.7" r="0.85" fill="none" stroke="#f08c8c" stroke-width="0.45"/>
<circle cx="93.7" cy="252.0" r="0.85" fill="none" stroke="#f08c8c" stroke-width="0.45"/>
<circle cx="94.1" cy="248.8" r="0.85" fill="none" stroke="#f08c8c" stroke-width="0.45"/>
<circle cx="94.5" cy="244.9" r="0.85" fill="none" stroke="#f08c8c" stroke-width="0.45"/>
<circle cx="94.8" cy="242.8" r="0.85" fill="none" stroke="#f08c8c" stroke-width="0.45"/>
<circle cx="95.0" cy="240.6" r="0.85" fill="none" stroke="#f08c8c" stroke-width="0.45"/>
<circle cx="95.2" cy="238.5" r="0.85" fill="none" stroke="#f08c8c" stroke-width="0.45"/>
<circle cx="95.4" cy="236.4" r="0.85" fill="none" stroke="#f08c8c" stroke-width="0.45"/>
<circle cx="95.6" cy="234.4" r="0.85" fill="none" stroke="#f08c8c" stroke-width="0.45"/>
<circle cx="95.9" cy="232.3" r="0.85" fill="none" stroke="#f08c8c" stroke-width="0.45"/>
<circle cx="96.1" cy="230.1" r="0.85" fill="none" stroke="#f08c8c" stroke-width="0.45"/>
<circle cx="96.3" cy="227.8" r="0.85" fill="none" stroke="#f08c8c" stroke-width="0.45"/>
<circle cx="96.5" cy="225.6" r="0.85" fill="none" stroke="#f08c8c" stroke-width="0.45"/>
<circle cx="96.8" cy="223.5" r="0.85" fill="none" stroke="#f08c8c" stroke-width="0.45"/>
<circle cx="97.2" cy="220.5" r="0.85" fill="none" stroke="#f08c8c" stroke-width="0.45"/>
<circle cx="98.5" cy="223.3" r="0.85" fill="none" stroke="#f08c8c" stroke-width="0.45"/>
<circle cx="99.0" cy="226.3" r="0.85" fill="none" stroke="#f08c8c" stroke-width="0.45"/>
<circle cx="99.5" cy="229.6" r="0.85" fill="none" stroke="#f08c8c" stroke-width="0.45"/>
<circle cx="99.8" cy="231.5" r="0.85" fill="none" stroke="#f08c8c" stroke-width="0.45"/>
<circle cx="100.1" cy="233.7" r="0.85" fill="none" stroke="#f08c8c" stroke-width="0.45"/>
<circle cx="100.4" cy="235.9" r="0.85" fill="none" stroke="#f08c8c" stroke-width="0.45"/>
<circle cx="100.7" cy="238.2" r="0.85" fill="none" stroke="#f08c8c" stroke-width="0.45"/>
<circle cx="101.0" cy="240.3" r="0.85" fill="none" stroke="#f08c8c" stroke-width="0.45"/>
<circle cx="101.4" cy="242.3" r="0.85" fill="none" stroke="#f08c8c" stroke-width="0.45"/>
<circle cx="102.0" cy="245.6" r="0.85" fill="none" stroke="#f08c8c" stroke-width="0.45"/>
<circle cx="102.7" cy="248.3" r="0.85" fill="none" stroke="#f08c8c" stroke-width="0.45"/>
<circle cx="103.4" cy="250.5" r="0.85" fill="none" stroke="#f08c8c" stroke-width="0.45"/>
<circle cx="104.2" cy="252.3" r="0.85" fill="none" stroke="#f08c8c" stroke-width="0.45"/>
<circle cx="105.3" cy="254.2" r="0.85" fill="none" stroke="#f08c8c" stroke-width="0.45"/>
<circle cx="107.5" cy="255.2" r="0.85" fill="none" stroke="#f08c8c" stroke-width="0.45"/>
<circle cx="109.6" cy="255.7" r="0.85" fill="none" stroke="#f08c8c" stroke-width="0.45"/>
<circle cx="112.2" cy="256.0" r="0.85" fill="none" stroke="#f08c8c" stroke-width="0.45"/>
<circle cx="114.2" cy="256.2" r="0.85" fill="none" stroke="#f08c8c" stroke-width="0.45"/>
<circle cx="116.4" cy="256.5" r="0.85" fill="none" stroke="#f08c8c" stroke-width="0.45"/>
<circle cx="118.7" cy="256.8" r="0.85" fill="none" stroke="#f08c8c" stroke-width="0.45"/>
<circle cx="121.3" cy="257.1" r="0.85" fill="none" stroke="#f08c8c" stroke-width="0.45"/>
<circle cx="124.3" cy="257.5" r="0.85" fill="none" stroke="#f08c8c" stroke-width="0.45"/>
<circle cx="127.8" cy="257.8" r="0.85" fill="none" stroke="#f08c8c" stroke-width="0.45"/>
<circle cx="129.8" cy="257.9" r="0.85" fill="none" stroke="#f08c8c" stroke-width="0.45"/>
<circle cx="132.0" cy="258.0" r="0.85" fill="none" stroke="#f08c8c" stroke-width="0.45"/>
<circle cx="134.2" cy="258.2" r="0.85" fill="none" stroke="#f08c8c" stroke-width="0.45"/>
<circle cx="136.5" cy="258.3" r="0.85" fill="none" stroke="#f08c8c" stroke-width="0.45"/>
<circle cx="138.9" cy="258.4" r="0.85" fill="none" stroke="#f08c8c" stroke-width="0.45"/>
<circle cx="141.4" cy="258.5" r="0.85" fill="none" stroke="#f08c8c" stroke-width="0.45"/>
<circle cx="143.8" cy="258.6" r="0.85" fill="none" stroke="#f08c8c" stroke-width="0.45"/>
<circle cx="146.3" cy="258.7" r="0.85" fill="none" stroke="#f08c8c" stroke-width="0.45"/>
<circle cx="148.9" cy="258.7" r="0.85" fill="none" stroke="#f08c8c" stroke-width="0.45"/>
<circle cx="151.6" cy="258.8" r="0.85" fill="none" stroke="#f08c8c" stroke-width="0.45"/>
<circle cx="154.4" cy="258.8" r="0.85" fill="none" stroke="#f08c8c" stroke-width="0.45"/>
<circle cx="157.1" cy="258.8" r="0.85" fill="none" stroke="#f08c8c" stroke-width="0.45"/>
<circle cx="159.9" cy="258.8" r="0.85" fill="none" stroke="#f08c8c" stroke-width="0.45"/>
<circle cx="162.6" cy="258.9" r="0.85" fill="none" stroke="#f08c8c" stroke-width="0.45"/>
<circle cx="165.2" cy="258.9" r="0.85" fill="none" stroke="#f08c8c" stroke-width="0.45"/>
<circle cx="167.9" cy="259.0" r="0.85" fill="none" stroke="#f08c8c" stroke-width="0.45"/>
<circle cx="170.7" cy="259.0" r="0.85" fill="none" stroke="#f08c8c" stroke-width="0.45"/>
<circle cx="173.5" cy="259.0" r="0.85" fill="none" stroke="#f08c8c" stroke-width="0.45"/>
<circle cx="176.3" cy="259.1" r="0.85" fill="none" stroke="#f08c8c" stroke-width="0.45"/>
<circle cx="179.0" cy="259.1" r="0.85" fill="none" stroke="#f08c8c" stroke-width="0.45"/>
<circle cx="181.3" cy="259.2" r="0.85" fill="none" stroke="#f08c8c" stroke-width="0.45"/>
<circle cx="183.3" cy="259.2" r="0.85" fill="none" stroke="#f08c8c" stroke-width="0.45"/>
<path d="M91.4,260.2 L91.5,259.5 L91.7,258.5 L91.9,257.3 L92.1,256.0 L92.4,254.6 L92.6,253.2 L92.9,251.8 L93.2,250.5 L93.4,249.3 L93.7,248.2 L94.0,247.0 L94.3,245.9 L94.6,244.7 L94.9,243.5 L95.3,242.2 L95.6,240.8 L96.0,239.4 L96.5,237.8 L96.9,236.2 L97.4,234.6 L97.9,232.9 L98.4,231.2 L98.8,229.5 L99.2,227.9 L99.6,226.3 L100.0,224.7 L100.3,223.1 L100.7,221.5 L101.0,219.9 L101.3,218.3 L101.7,216.7 L102.1,215.0 L102.5,213.1 L102.9,210.9 L103.3,208.5 L103.7,206.2 L104.1,204.1 L104.5,202.3 L104.9,201.0 L105.3,200.4 L105.6,200.6 L105.9,201.3 L106.1,202.5 L106.4,204.1 L106.6,205.9 L106.9,207.9 L107.1,209.9 L107.4,211.8 L107.7,213.7 L108.0,215.9 L108.3,218.2 L108.6,220.6 L108.9,223.0 L109.2,225.4 L109.6,227.6 L109.9,229.5 L110.3,231.3 L110.7,232.9 L111.1,234.4 L111.5,235.8 L112.0,237.1 L112.4,238.4 L112.9,239.6 L113.5,240.8 L114.1,242.0 L114.7,243.1 L115.3,244.2 L115.9,245.2 L116.6,246.2 L117.3,247.1 L118.1,248.0 L118.8,248.9 L119.6,249.7 L120.5,250.5 L121.4,251.3 L122.3,252.0 L123.2,252.7 L124.1,253.3 L125.1,253.9 L126.0,254.4 L126.8,254.9 L127.7,255.3 L128.5,255.6 L129.3,255.9 L130.2,256.2 L131.1,256.5 L132.0,256.7 L133.1,257.0 L134.2,257.2 L135.4,257.4 L136.7,257.6 L138.0,257.7 L139.4,257.9 L140.8,258.0 L142.3,258.1 L143.8,258.3 L145.3,258.4 L146.8,258.5 L148.3,258.6 L149.9,258.6 L151.6,258.7 L153.5,258.8 L155.7,258.8 L158.1,258.9 L161.0,259.0 L164.5,259.0 L168.4,259.1 L172.3,259.1 L176.2,259.1 L179.7,259.2 L182.7,259.2 L184.8,259.2" fill="none" stroke="#4b8bd0" stroke-width="0.7"/>
<circle cx="91.4" cy="260.2" r="0.85" fill="none" stroke="#4b8bd0" stroke-width="0.45"/>
<circle cx="91.9" cy="257.3" r="0.85" fill="none" stroke="#4b8bd0" stroke-width="0.45"/>
<circle cx="92.4" cy="254.6" r="0.85" fill="none" stroke="#4b8bd0" stroke-width="0.45"/>
<circle cx="92.9" cy="251.8" r="0.85" fill="none" stroke="#4b8bd0" stroke-width="0.45"/>
<circle cx="93.4" cy="249.3" r="0.85" fill="none" stroke="#4b8bd0" stroke-width="0.45"/>
<circle cx="94.0" cy="247.0" r="0.85" fill="none" stroke="#4b8bd0" stroke-width="0.45"/>
<circle cx="94.6" cy="244.7" r="0.85" fill="none" stroke="#4b8bd0" stroke-width="0.45"/>
<circle cx="95.3" cy="242.2" r="0.85" fill="none" stroke="#4b8bd0" stroke-width="0.45"/>
<circle cx="96.0" cy="239.4" r="0.85" fill="none" stroke="#4b8bd0" stroke-width="0.45"/>
<circle cx="96.9" cy="236.2" r="0.85" fill="none" stroke="#4b8bd0" stroke-width="0.45"/>
<circle cx="97.9" cy="232.9" r="0.85" fill="none" stroke="#4b8bd0" stroke-width="0.45"/>
<circle cx="98.8" cy="229.5" r="0.85" fill="none" stroke="#4b8bd0" stroke-width="0.45"/>
<circle cx="99.6" cy="226.3" r="0.85" fill="none" stroke="#4b8bd0" stroke-width="0.45"/>
<circle cx="100.3" cy="223.1" r="0.85" fill="none" stroke="#4b8bd0" stroke-width="0.45"/>
<circle cx="101.0" cy="219.9" r="0.85" fill="none" stroke="#4b8bd0" stroke-width="0.45"/>
<circle cx="101.7" cy="216.7" r="0.85" fill="none" stroke="#4b8bd0" stroke-width="0.45"/>
<circle cx="102.5" cy="213.1" r="0.85" fill="none" stroke="#4b8bd0" stroke-width="0.45"/>
<circle cx="102.9" cy="210.9" r="0.85" fill="none" stroke="#4b8bd0" stroke-width="0.45"/>
<circle cx="103.3" cy="208.5" r="0.85" fill="none" stroke="#4b8bd0" stroke-width="0.45"/>
<circle cx="103.7" cy="206.2" r="0.85" fill="none" stroke="#4b8bd0" stroke-width="0.45"/>
<circle cx="104.1" cy="204.1" r="0.85" fill="none" stroke="#4b8bd0" stroke-width="0.45"/>
<circle cx="104.9" cy="201.0" r="0.85" fill="none" stroke="#4b8bd0" stroke-width="0.45"/>
<circle cx="106.1" cy="202.5" r="0.85" fill="none" stroke="#4b8bd0" stroke-width="0.45"/>
<circle cx="106.6" cy="205.9" r="0.85" fill="none" stroke="#4b8bd0" stroke-width="0.45"/>
<circle cx="106.9" cy="207.9" r="0.85" fill="none" stroke="#4b8bd0" stroke-width="0.45"/>
<circle cx="107.1" cy="209.9" r="0.85" fill="none" stroke="#4b8bd0" stroke-width="0.45"/>
<circle cx="107.4" cy="211.8" r="0.85" fill="none" stroke="#4b8bd0" stroke-width="0.45"/>
<circle cx="107.7" cy="213.7" r="0.85" fill="none" stroke="#4b8bd0" stroke-width="0.45"/>
<circle cx="108.0" cy="215.9" r="0.85" fill="none" stroke="#4b8bd0" stroke-width="0.45"/>
<circle cx="108.3" cy="218.2" r="0.85" fill="none" stroke="#4b8bd0" stroke-width="0.45"/>
<circle cx="108.6" cy="220.6" r="0.85" fill="none" stroke="#4b8bd0" stroke-width="0.45"/>
<circle cx="108.9" cy="223.0" r="0.85" fill="none" stroke="#4b8bd0" stroke-width="0.45"/>
<circle cx="109.2" cy="225.4" r="0.85" fill="none" stroke="#4b8bd0" stroke-width="0.45"/>
<circle cx="109.6" cy="227.6" r="0.85" fill="none" stroke="#4b8bd0" stroke-width="0.45"/>
<circle cx="109.9" cy="229.5" r="0.85" fill="none" stroke="#4b8bd0" stroke-width="0.45"/>
<circle cx="110.7" cy="232.9" r="0.85" fill="none" stroke="#4b8bd0" stroke-width="0.45"/>
<circle cx="111.5" cy="235.8" r="0.85" fill="none" stroke="#4b8bd0" stroke-width="0.45"/>
<circle cx="112.4" cy="238.4" r="0.85" fill="none" stroke="#4b8bd0" stroke-width="0.45"/>
<circle cx="113.5" cy="240.8" r="0.85" fill="none" stroke="#4b8bd0" stroke-width="0.45"/>
<circle cx="114.7" cy="243.1" r="0.85" fill="none" stroke="#4b8bd0" stroke-width="0.45"/>
<circle cx="115.9" cy="245.2" r="0.85" fill="none" stroke="#4b8bd0" stroke-width="0.45"/>
<circle cx="117.3" cy="247.1" r="0.85" fill="none" stroke="#4b8bd0" stroke-width="0.45"/>
<circle cx="118.8" cy="248.9" r="0.85" fill="none" stroke="#4b8bd0" stroke-width="0.45"/>
<circle cx="120.5" cy="250.5" r="0.85" fill="none" stroke="#4b8bd0" stroke-width="0.45"/>
<circle cx="122.3" cy="252.0" r="0.85" fill="none" stroke="#4b8bd0" stroke-width="0.45"/>
<circle cx="124.1" cy="253.3" r="0.85" fill="none" stroke="#4b8bd0" stroke-width="0.45"/>
<circle cx="126.0" cy="254.4" r="0.85" fill="none" stroke="#4b8bd0" stroke-width="0.45"/>
<circle cx="127.7" cy="255.3" r="0.85" fill="none" stroke="#4b8bd0" stroke-width="0.45"/>
<circle cx="130.2" cy="256.2" r="0.85" fill="none" stroke="#4b8bd0" stroke-width="0.45"/>
<circle cx="132.0" cy="256.7" r="0.85" fill="none" stroke="#4b8bd0" stroke-width="0.45"/>
<circle cx="134.2" cy="257.2" r="0.85" fill="none" stroke="#4b8bd0" stroke-width="0.45"/>
<circle cx="136.7" cy="257.6" r="0.85" fill="none" stroke="#4b8bd0" stroke-width="0.45"/>
<circle cx="139.4" cy="257.9" r="0.85" fill="none" stroke="#4b8bd0" stroke-width="0.45"/>
<circle cx="142.3" cy="258.1" r="0.85" fill="none" stroke="#4b8bd0" stroke-width="0.45"/>
<circle cx="145.3" cy="258.4" r="0.85" fill="none" stroke="#4b8bd0" stroke-width="0.45"/>
<circle cx="148.3" cy="258.6" r="0.85" fill="none" stroke="#4b8bd0" stroke-width="0.45"/>
<circle cx="151.6" cy="258.7" r="0.85" fill="none" stroke="#4b8bd0" stroke-width="0.45"/>
<circle cx="155.7" cy="258.8" r="0.85" fill="none" stroke="#4b8bd0" stroke-width="0.45"/>
<circle cx="158.1" cy="258.9" r="0.85" fill="none" stroke="#4b8bd0" stroke-width="0.45"/>
<circle cx="161.0" cy="259.0" r="0.85" fill="none" stroke="#4b8bd0" stroke-width="0.45"/>
<circle cx="164.5" cy="259.0" r="0.85" fill="none" stroke="#4b8bd0" stroke-width="0.45"/>
<circle cx="168.4" cy="259.1" r="0.85" fill="none" stroke="#4b8bd0" stroke-width="0.45"/>
<circle cx="172.3" cy="259.1" r="0.85" fill="none" stroke="#4b8bd0" stroke-width="0.45"/>
<circle cx="176.2" cy="259.1" r="0.85" fill="none" stroke="#4b8bd0" stroke-width="0.45"/>
<circle cx="179.7" cy="259.2" r="0.85" fill="none" stroke="#4b8bd0" stroke-width="0.45"/>
<circle cx="182.7" cy="259.2" r="0.85" fill="none" stroke="#4b8bd0" stroke-width="0.45"/>
<circle cx="184.8" cy="259.2" r="0.85" fill="none" stroke="#4b8bd0" stroke-width="0.45"/>
<path d="M96.7,260.2 L96.9,259.7 L97.1,259.1 L97.4,258.3 L97.7,257.5 L98.1,256.6 L98.5,255.6 L98.8,254.7 L99.2,253.7 L99.6,252.8 L100.0,251.9 L100.4,250.9 L100.8,249.9 L101.3,248.9 L101.7,247.8 L102.2,246.8 L102.8,245.7 L103.4,244.5 L104.0,243.4 L104.7,242.2 L105.3,241.0 L106.0,239.8 L106.8,238.5 L107.5,237.3 L108.1,236.0 L108.8,234.6 L109.5,233.2 L110.2,231.7 L110.9,230.2 L111.6,228.7 L112.3,227.3 L112.9,225.9 L113.5,224.7 L114.0,223.5 L114.5,222.3 L115.0,221.2 L115.5,220.2 L115.9,219.2 L116.3,218.3 L116.7,217.4 L117.0,216.6 L117.4,215.8 L117.6,215.0 L117.8,214.2 L118.0,213.4 L118.2,212.8 L118.4,212.4 L118.6,212.3 L118.8,212.4 L119.1,212.9 L119.5,213.6 L119.8,214.6 L120.2,215.8 L120.6,217.2 L120.9,218.6 L121.3,220.0 L121.7,221.4 L122.0,222.9 L122.4,224.4 L122.7,226.1 L123.1,227.8 L123.4,229.5 L123.8,231.2 L124.2,232.8 L124.5,234.4 L124.9,235.9 L125.3,237.4 L125.6,238.9 L126.0,240.3 L126.4,241.7 L126.8,243.1 L127.2,244.4 L127.8,245.7 L128.3,246.9 L128.9,248.0 L129.5,249.1 L130.2,250.2 L130.9,251.2 L131.6,252.1 L132.3,253.0 L133.1,253.7 L133.9,254.4 L134.7,254.9 L135.5,255.4 L136.3,255.8 L137.2,256.1 L138.2,256.4 L139.2,256.7 L140.2,257.0 L141.4,257.2 L142.5,257.4 L143.7,257.5 L144.9,257.6 L146.2,257.7 L147.7,257.8 L149.2,257.8 L150.9,257.9 L152.8,258.0 L154.9,258.1 L157.2,258.2 L159.5,258.3 L161.9,258.4 L164.3,258.5 L166.6,258.5 L168.8,258.6 L171.0,258.6 L173.3,258.7 L175.6,258.7 L177.9,258.8 L180.1,258.8 L182.0,258.9 L183.6,258.9 L184.8,258.9" fill="none" stroke="#b3584e" stroke-width="0.7"/>
<circle cx="96.7" cy="260.2" r="0.85" fill="none" stroke="#b3584e" stroke-width="0.45"/>
<circle cx="97.4" cy="258.3" r="0.85" fill="none" stroke="#b3584e" stroke-width="0.45"/>
<circle cx="98.5" cy="255.6" r="0.85" fill="none" stroke="#b3584e" stroke-width="0.45"/>
<circle cx="99.2" cy="253.7" r="0.85" fill="none" stroke="#b3584e" stroke-width="0.45"/>
<circle cx="100.0" cy="251.9" r="0.85" fill="none" stroke="#b3584e" stroke-width="0.45"/>
<circle cx="100.8" cy="249.9" r="0.85" fill="none" stroke="#b3584e" stroke-width="0.45"/>
<circle cx="101.7" cy="247.8" r="0.85" fill="none" stroke="#b3584e" stroke-width="0.45"/>
<circle cx="102.8" cy="245.7" r="0.85" fill="none" stroke="#b3584e" stroke-width="0.45"/>
<circle cx="104.0" cy="243.4" r="0.85" fill="none" stroke="#b3584e" stroke-width="0.45"/>
<circle cx="105.3" cy="241.0" r="0.85" fill="none" stroke="#b3584e" stroke-width="0.45"/>
<circle cx="106.8" cy="238.5" r="0.85" fill="none" stroke="#b3584e" stroke-width="0.45"/>
<circle cx="108.1" cy="236.0" r="0.85" fill="none" stroke="#b3584e" stroke-width="0.45"/>
<circle cx="109.5" cy="233.2" r="0.85" fill="none" stroke="#b3584e" stroke-width="0.45"/>
<circle cx="110.9" cy="230.2" r="0.85" fill="none" stroke="#b3584e" stroke-width="0.45"/>
<circle cx="112.3" cy="227.3" r="0.85" fill="none" stroke="#b3584e" stroke-width="0.45"/>
<circle cx="113.5" cy="224.7" r="0.85" fill="none" stroke="#b3584e" stroke-width="0.45"/>
<circle cx="114.5" cy="222.3" r="0.85" fill="none" stroke="#b3584e" stroke-width="0.45"/>
<circle cx="115.5" cy="220.2" r="0.85" fill="none" stroke="#b3584e" stroke-width="0.45"/>
<circle cx="116.3" cy="218.3" r="0.85" fill="none" stroke="#b3584e" stroke-width="0.45"/>
<circle cx="117.4" cy="215.8" r="0.85" fill="none" stroke="#b3584e" stroke-width="0.45"/>
<circle cx="118.0" cy="213.4" r="0.85" fill="none" stroke="#b3584e" stroke-width="0.45"/>
<circle cx="119.8" cy="214.6" r="0.85" fill="none" stroke="#b3584e" stroke-width="0.45"/>
<circle cx="120.6" cy="217.2" r="0.85" fill="none" stroke="#b3584e" stroke-width="0.45"/>
<circle cx="121.3" cy="220.0" r="0.85" fill="none" stroke="#b3584e" stroke-width="0.45"/>
<circle cx="122.0" cy="222.9" r="0.85" fill="none" stroke="#b3584e" stroke-width="0.45"/>
<circle cx="122.7" cy="226.1" r="0.85" fill="none" stroke="#b3584e" stroke-width="0.45"/>
<circle cx="123.4" cy="229.5" r="0.85" fill="none" stroke="#b3584e" stroke-width="0.45"/>
<circle cx="124.2" cy="232.8" r="0.85" fill="none" stroke="#b3584e" stroke-width="0.45"/>
<circle cx="124.9" cy="235.9" r="0.85" fill="none" stroke="#b3584e" stroke-width="0.45"/>
<circle cx="125.6" cy="238.9" r="0.85" fill="none" stroke="#b3584e" stroke-width="0.45"/>
<circle cx="126.4" cy="241.7" r="0.85" fill="none" stroke="#b3584e" stroke-width="0.45"/>
<circle cx="127.2" cy="244.4" r="0.85" fill="none" stroke="#b3584e" stroke-width="0.45"/>
<circle cx="128.3" cy="246.9" r="0.85" fill="none" stroke="#b3584e" stroke-width="0.45"/>
<circle cx="129.5" cy="249.1" r="0.85" fill="none" stroke="#b3584e" stroke-width="0.45"/>
<circle cx="130.9" cy="251.2" r="0.85" fill="none" stroke="#b3584e" stroke-width="0.45"/>
<circle cx="132.3" cy="253.0" r="0.85" fill="none" stroke="#b3584e" stroke-width="0.45"/>
<circle cx="133.9" cy="254.4" r="0.85" fill="none" stroke="#b3584e" stroke-width="0.45"/>
<circle cx="136.3" cy="255.8" r="0.85" fill="none" stroke="#b3584e" stroke-width="0.45"/>
<circle cx="138.2" cy="256.4" r="0.85" fill="none" stroke="#b3584e" stroke-width="0.45"/>
<circle cx="140.2" cy="257.0" r="0.85" fill="none" stroke="#b3584e" stroke-width="0.45"/>
<circle cx="142.5" cy="257.4" r="0.85" fill="none" stroke="#b3584e" stroke-width="0.45"/>
<circle cx="144.9" cy="257.6" r="0.85" fill="none" stroke="#b3584e" stroke-width="0.45"/>
<circle cx="147.7" cy="257.8" r="0.85" fill="none" stroke="#b3584e" stroke-width="0.45"/>
<circle cx="150.9" cy="257.9" r="0.85" fill="none" stroke="#b3584e" stroke-width="0.45"/>
<circle cx="152.8" cy="258.0" r="0.85" fill="none" stroke="#b3584e" stroke-width="0.45"/>
<circle cx="154.9" cy="258.1" r="0.85" fill="none" stroke="#b3584e" stroke-width="0.45"/>
<circle cx="157.2" cy="258.2" r="0.85" fill="none" stroke="#b3584e" stroke-width="0.45"/>
<circle cx="159.5" cy="258.3" r="0.85" fill="none" stroke="#b3584e" stroke-width="0.45"/>
<circle cx="161.9" cy="258.4" r="0.85" fill="none" stroke="#b3584e" stroke-width="0.45"/>
<circle cx="164.3" cy="258.5" r="0.85" fill="none" stroke="#b3584e" stroke-width="0.45"/>
<circle cx="166.6" cy="258.5" r="0.85" fill="none" stroke="#b3584e" stroke-width="0.45"/>
<circle cx="168.8" cy="258.6" r="0.85" fill="none" stroke="#b3584e" stroke-width="0.45"/>
<circle cx="171.0" cy="258.6" r="0.85" fill="none" stroke="#b3584e" stroke-width="0.45"/>
<circle cx="173.3" cy="258.7" r="0.85" fill="none" stroke="#b3584e" stroke-width="0.45"/>
<circle cx="175.6" cy="258.7" r="0.85" fill="none" stroke="#b3584e" stroke-width="0.45"/>
<circle cx="177.9" cy="258.8" r="0.85" fill="none" stroke="#b3584e" stroke-width="0.45"/>
<circle cx="180.1" cy="258.8" r="0.85" fill="none" stroke="#b3584e" stroke-width="0.45"/>
<circle cx="182.0" cy="258.9" r="0.85" fill="none" stroke="#b3584e" stroke-width="0.45"/>
<circle cx="184.8" cy="258.9" r="0.85" fill="none" stroke="#b3584e" stroke-width="0.45"/>
<line x1="143" y1="202.4" x2="151" y2="202.4" stroke="#f08c8c" stroke-width="0.6"/><circle cx="147" cy="202.4" r="0.8" fill="none" stroke="#f08c8c" stroke-width="0.4"/>
<text x="152.5" y="203.8" font-size="4.0" text-anchor="start" fill="#1a1a1a" font-weight="normal" >CuRu/MCHS-4</text>
<line x1="143" y1="207.20000000000002" x2="151" y2="207.20000000000002" stroke="#4b8bd0" stroke-width="0.6"/><circle cx="147" cy="207.20000000000002" r="0.8" fill="none" stroke="#4b8bd0" stroke-width="0.4"/>
<text x="152.5" y="208.6" font-size="4.0" text-anchor="start" fill="#1a1a1a" font-weight="normal" >CuRu/MCHS-7</text>
<line x1="143" y1="212.0" x2="151" y2="212.0" stroke="#b3584e" stroke-width="0.6"/><circle cx="147" cy="212.0" r="0.8" fill="none" stroke="#b3584e" stroke-width="0.4"/>
<text x="152.5" y="213.4" font-size="4.0" text-anchor="start" fill="#1a1a1a" font-weight="normal" >CuRu/MCHS-11</text>
<text x="337.1" y="188.3" font-size="16.5" text-anchor="start" fill="#1a1a1a" font-weight="normal" >c</text>
<text x="512.7" y="187.9" font-size="16.5" text-anchor="start" fill="#1a1a1a" font-weight="normal" >d</text>
<filter id="gr" x="0" y="0" width="1" height="1" color-interpolation-filters="sRGB"><feTurbulence type="fractalNoise" baseFrequency="0.55" numOctaves="3" seed="3" result="n"/><feColorMatrix in="n" type="matrix" values="1 0 0 0 0  1 0 0 0 0  1 0 0 0 0  0 0 0 0 1" result="g"/><feComposite in="SourceGraphic" in2="g" operator="arithmetic" k1="0" k2="1" k3="0.38" k4="-0.19" result="c"/><feComposite in="c" in2="SourceGraphic" operator="in"/></filter>
<filter id="gr2" x="0" y="0" width="1" height="1" color-interpolation-filters="sRGB"><feTurbulence type="fractalNoise" baseFrequency="0.5" numOctaves="2" seed="8" result="n"/><feColorMatrix in="n" type="matrix" values="1 0 0 0 0  1 0 0 0 0  1 0 0 0 0  0 0 0 0 1" result="g"/><feComposite in="SourceGraphic" in2="g" operator="arithmetic" k1="0" k2="1" k3="0.6" k4="-0.3" result="c"/><feComposite in="c" in2="SourceGraphic" operator="in"/></filter>
<radialGradient id="tc"><stop offset="0" stop-color="#686868"/><stop offset="0.77" stop-color="#646464"/><stop offset="0.8" stop-color="#484848"/><stop offset="0.95" stop-color="#4a4a4a"/><stop offset="0.975" stop-color="#8a8a8a"/><stop offset="1" stop-color="#8e8e8e"/></radialGradient>
<radialGradient id="tc2"><stop offset="0" stop-color="#707070"/><stop offset="0.86" stop-color="#6e6e6e"/><stop offset="0.88" stop-color="#4c4c4c"/><stop offset="0.945" stop-color="#505050"/><stop offset="0.965" stop-color="#727272"/><stop offset="0.985" stop-color="#9c9c9c"/><stop offset="1" stop-color="#8a8a8a"/></radialGradient>
<radialGradient id="td"><stop offset="0" stop-color="#6c6c6c"/><stop offset="0.6" stop-color="#666"/><stop offset="0.65" stop-color="#575757"/><stop offset="0.95" stop-color="#545454"/><stop offset="0.98" stop-color="#929292"/><stop offset="1" stop-color="#8a8a8a"/></radialGradient>
<clipPath id="cpc"><rect x="351.5" y="186.1" width="156.10000000000002" height="155.9"/></clipPath>
<g clip-path="url(#cpc)"><g filter="url(#gr)">
<rect x="351.5" y="186.1" width="156.10000000000002" height="155.9" fill="#767676"/>
<circle cx="550" cy="221" r="80" fill="url(#tc2)"/>
<circle cx="427" cy="272" r="62.5" fill="url(#tc)"/>
</g></g>
<clipPath id="cpd"><rect x="525.2" y="186.1" width="155.79999999999995" height="155.9"/></clipPath>
<g clip-path="url(#cpd)"><g filter="url(#gr)">
<rect x="525.2" y="186.1" width="155.79999999999995" height="155.9" fill="#767676"/>
<circle cx="604.5" cy="265" r="62.5" fill="url(#td)"/>
<line x1="646.5" y1="265.0" x2="663.5" y2="265.0" stroke="#686868" stroke-width="1.4"/>
<line x1="646.3" y1="269.4" x2="663.2" y2="271.2" stroke="#686868" stroke-width="1.4"/>
<line x1="645.6" y1="273.7" x2="662.2" y2="277.3" stroke="#686868" stroke-width="1.4"/>
<line x1="644.4" y1="278.0" x2="660.6" y2="283.2" stroke="#686868" stroke-width="1.4"/>
<line x1="642.9" y1="282.1" x2="658.4" y2="289.0" stroke="#686868" stroke-width="1.4"/>
<line x1="640.9" y1="286.0" x2="655.6" y2="294.5" stroke="#686868" stroke-width="1.4"/>
<line x1="638.5" y1="289.7" x2="652.2" y2="299.7" stroke="#686868" stroke-width="1.4"/>
<line x1="635.7" y1="293.1" x2="648.3" y2="304.5" stroke="#686868" stroke-width="1.4"/>
<line x1="632.6" y1="296.2" x2="644.0" y2="308.8" stroke="#686868" stroke-width="1.4"/>
<line x1="629.2" y1="299.0" x2="639.2" y2="312.7" stroke="#686868" stroke-width="1.4"/>
<line x1="625.5" y1="301.4" x2="634.0" y2="316.1" stroke="#686868" stroke-width="1.4"/>
<line x1="621.6" y1="303.4" x2="628.5" y2="318.9" stroke="#686868" stroke-width="1.4"/>
<line x1="617.5" y1="304.9" x2="622.7" y2="321.1" stroke="#686868" stroke-width="1.4"/>
<line x1="613.2" y1="306.1" x2="616.8" y2="322.7" stroke="#686868" stroke-width="1.4"/>
<line x1="608.9" y1="306.8" x2="610.7" y2="323.7" stroke="#686868" stroke-width="1.4"/>
<line x1="604.5" y1="307.0" x2="604.5" y2="324.0" stroke="#686868" stroke-width="1.4"/>
<line x1="600.1" y1="306.8" x2="598.3" y2="323.7" stroke="#686868" stroke-width="1.4"/>
<line x1="595.8" y1="306.1" x2="592.2" y2="322.7" stroke="#686868" stroke-width="1.4"/>
<line x1="591.5" y1="304.9" x2="586.3" y2="321.1" stroke="#686868" stroke-width="1.4"/>
<line x1="587.4" y1="303.4" x2="580.5" y2="318.9" stroke="#686868" stroke-width="1.4"/>
<line x1="583.5" y1="301.4" x2="575.0" y2="316.1" stroke="#686868" stroke-width="1.4"/>
<line x1="579.8" y1="299.0" x2="569.8" y2="312.7" stroke="#686868" stroke-width="1.4"/>
<line x1="576.4" y1="296.2" x2="565.0" y2="308.8" stroke="#686868" stroke-width="1.4"/>
<line x1="573.3" y1="293.1" x2="560.7" y2="304.5" stroke="#686868" stroke-width="1.4"/>
<line x1="570.5" y1="289.7" x2="556.8" y2="299.7" stroke="#686868" stroke-width="1.4"/>
<line x1="568.1" y1="286.0" x2="553.4" y2="294.5" stroke="#686868" stroke-width="1.4"/>
<line x1="566.1" y1="282.1" x2="550.6" y2="289.0" stroke="#686868" stroke-width="1.4"/>
<line x1="564.6" y1="278.0" x2="548.4" y2="283.2" stroke="#686868" stroke-width="1.4"/>
<line x1="563.4" y1="273.7" x2="546.8" y2="277.3" stroke="#686868" stroke-width="1.4"/>
<line x1="562.7" y1="269.4" x2="545.8" y2="271.2" stroke="#686868" stroke-width="1.4"/>
<line x1="562.5" y1="265.0" x2="545.5" y2="265.0" stroke="#686868" stroke-width="1.4"/>
<line x1="562.7" y1="260.6" x2="545.8" y2="258.8" stroke="#686868" stroke-width="1.4"/>
<line x1="563.4" y1="256.3" x2="546.8" y2="252.7" stroke="#686868" stroke-width="1.4"/>
<line x1="564.6" y1="252.0" x2="548.4" y2="246.8" stroke="#686868" stroke-width="1.4"/>
<line x1="566.1" y1="247.9" x2="550.6" y2="241.0" stroke="#686868" stroke-width="1.4"/>
<line x1="568.1" y1="244.0" x2="553.4" y2="235.5" stroke="#686868" stroke-width="1.4"/>
<line x1="570.5" y1="240.3" x2="556.8" y2="230.3" stroke="#686868" stroke-width="1.4"/>
<line x1="573.3" y1="236.9" x2="560.7" y2="225.5" stroke="#686868" stroke-width="1.4"/>
<line x1="576.4" y1="233.8" x2="565.0" y2="221.2" stroke="#686868" stroke-width="1.4"/>
<line x1="579.8" y1="231.0" x2="569.8" y2="217.3" stroke="#686868" stroke-width="1.4"/>
<line x1="583.5" y1="228.6" x2="575.0" y2="213.9" stroke="#686868" stroke-width="1.4"/>
<line x1="587.4" y1="226.6" x2="580.5" y2="211.1" stroke="#686868" stroke-width="1.4"/>
<line x1="591.5" y1="225.1" x2="586.3" y2="208.9" stroke="#686868" stroke-width="1.4"/>
<line x1="595.8" y1="223.9" x2="592.2" y2="207.3" stroke="#686868" stroke-width="1.4"/>
<line x1="600.1" y1="223.2" x2="598.3" y2="206.3" stroke="#686868" stroke-width="1.4"/>
<line x1="604.5" y1="223.0" x2="604.5" y2="206.0" stroke="#686868" stroke-width="1.4"/>
<line x1="608.9" y1="223.2" x2="610.7" y2="206.3" stroke="#686868" stroke-width="1.4"/>
<line x1="613.2" y1="223.9" x2="616.8" y2="207.3" stroke="#686868" stroke-width="1.4"/>
<line x1="617.5" y1="225.1" x2="622.7" y2="208.9" stroke="#686868" stroke-width="1.4"/>
<line x1="621.6" y1="226.6" x2="628.5" y2="211.1" stroke="#686868" stroke-width="1.4"/>
<line x1="625.5" y1="228.6" x2="634.0" y2="213.9" stroke="#686868" stroke-width="1.4"/>
<line x1="629.2" y1="231.0" x2="639.2" y2="217.3" stroke="#686868" stroke-width="1.4"/>
<line x1="632.6" y1="233.8" x2="644.0" y2="221.2" stroke="#686868" stroke-width="1.4"/>
<line x1="635.7" y1="236.9" x2="648.3" y2="225.5" stroke="#686868" stroke-width="1.4"/>
<line x1="638.5" y1="240.3" x2="652.2" y2="230.3" stroke="#686868" stroke-width="1.4"/>
<line x1="640.9" y1="244.0" x2="655.6" y2="235.5" stroke="#686868" stroke-width="1.4"/>
<line x1="642.9" y1="247.9" x2="658.4" y2="241.0" stroke="#686868" stroke-width="1.4"/>
<line x1="644.4" y1="252.0" x2="660.6" y2="246.8" stroke="#686868" stroke-width="1.4"/>
<line x1="645.6" y1="256.3" x2="662.2" y2="252.7" stroke="#686868" stroke-width="1.4"/>
<line x1="646.3" y1="260.6" x2="663.2" y2="258.8" stroke="#686868" stroke-width="1.4"/>
</g></g>
<g fill="none" stroke="#f2f2f2" stroke-width="1.05" stroke-dasharray="2.6,2">
<circle cx="427" cy="272.5" r="60.5"/><circle cx="426" cy="270.5" r="49"/>
<circle cx="604.5" cy="264.8" r="61.2"/><circle cx="605" cy="265.7" r="39"/>
</g>
<rect x="429.5" y="260.4" width="73.10000000000002" height="61.5" fill="none" stroke="#e8e8e8" stroke-width="0.9"/>
<rect x="446.6" y="300" width="6.6" height="21.9" fill="#2c58aa" fill-opacity="0.72"/>
<rect x="454.9" y="265.5" width="7.0" height="56.4" fill="#2c58aa" fill-opacity="0.72"/>
<rect x="463.2" y="289.2" width="6.6" height="32.7" fill="#2c58aa" fill-opacity="0.72"/>
<rect x="471" y="314.9" width="6.4" height="7.0" fill="#2c58aa" fill-opacity="0.72"/>
<rect x="440" y="320.5" width="5.5" height="1.4" fill="#2c58aa" fill-opacity="0.72"/>
<path d="M441.5,319.5 L442.7,318.6 L443.9,317.2 L445.1,315.2 L446.3,312.5 L447.5,309.1 L448.7,304.7 L449.9,299.6 L451.1,293.7 L452.2,287.5 L453.4,281.3 L454.6,275.5 L455.8,270.6 L457.0,267.2 L458.2,265.5 L459.4,265.6 L460.6,267.7 L461.8,271.5 L463.0,276.5 L464.2,282.4 L465.4,288.7 L466.6,294.9 L467.8,300.6 L469.0,305.6 L470.2,309.8 L471.3,313.1 L472.5,315.6 L473.7,317.5 L474.9,318.8 L476.1,319.6 L477.3,320.2 L478.5,320.5 L479.7,320.7 L480.9,320.9 L482.1,320.9 L483.3,321.0 L484.5,321.0 L485.7,321.0 L486.9,321.0 L488.1,321.0 L489.3,321.0 L490.4,321.0 L491.6,321.0 L492.8,321.0 L494.0,321.0 L495.2,321.0 L496.4,321.0 L497.6,321.0 L498.8,321.0 L500.0,321.0" fill="none" stroke="#e8504a" stroke-width="1"/>
<text x="431.0" y="326.3" font-size="3.1" text-anchor="middle" fill="#eee" font-weight="normal" >0.0</text>
<text x="438.9" y="326.3" font-size="3.1" text-anchor="middle" fill="#eee" font-weight="normal" >0.5</text>
<text x="446.8" y="326.3" font-size="3.1" text-anchor="middle" fill="#eee" font-weight="normal" >1.0</text>
<text x="454.7" y="326.3" font-size="3.1" text-anchor="middle" fill="#eee" font-weight="normal" >1.5</text>
<text x="462.6" y="326.3" font-size="3.1" text-anchor="middle" fill="#eee" font-weight="normal" >2.0</text>
<text x="470.5" y="326.3" font-size="3.1" text-anchor="middle" fill="#eee" font-weight="normal" >2.5</text>
<text x="478.4" y="326.3" font-size="3.1" text-anchor="middle" fill="#eee" font-weight="normal" >3.0</text>
<text x="486.3" y="326.3" font-size="3.1" text-anchor="middle" fill="#eee" font-weight="normal" >3.5</text>
<text x="494.2" y="326.3" font-size="3.1" text-anchor="middle" fill="#eee" font-weight="normal" >4.0</text>
<text x="502.1" y="326.3" font-size="3.1" text-anchor="middle" fill="#eee" font-weight="normal" >4.5</text>
<text x="460.0" y="331.9" font-size="3.4" text-anchor="middle" fill="#eee" font-weight="normal" >Size (nm)</text>
<rect x="604.5" y="258.3" width="73.10000000000002" height="61.69999999999999" fill="none" stroke="#e8e8e8" stroke-width="0.9"/>
<rect x="614" y="312" width="7.6" height="8.0" fill="#2c58aa" fill-opacity="0.72"/>
<rect x="623.3" y="292" width="7.7" height="28.0" fill="#2c58aa" fill-opacity="0.72"/>
<rect x="632.4" y="283.7" width="7.6" height="36.3" fill="#2c58aa" fill-opacity="0.72"/>
<rect x="641.6" y="271.6" width="7.6" height="48.4" fill="#2c58aa" fill-opacity="0.72"/>
<rect x="650.6" y="296" width="7.7" height="24.0" fill="#2c58aa" fill-opacity="0.72"/>
<rect x="659.8" y="315.8" width="7.4" height="4.2" fill="#2c58aa" fill-opacity="0.72"/>
<path d="M617.8,314.5 L619.0,313.3 L620.2,311.9 L621.4,310.2 L622.6,308.4 L623.8,306.3 L625.0,304.0 L626.2,301.5 L627.4,298.9 L628.5,296.0 L629.7,293.1 L630.9,290.2 L632.1,287.3 L633.3,284.5 L634.5,281.8 L635.7,279.4 L636.9,277.3 L638.1,275.5 L639.3,274.2 L640.5,273.3 L641.7,272.9 L642.9,273.0 L644.1,273.6 L645.3,274.7 L646.5,276.3 L647.6,278.2 L648.8,280.5 L650.0,283.0 L651.2,285.8 L652.4,288.6 L653.6,291.6 L654.8,294.5 L656.0,297.4 L657.2,300.1 L658.4,302.7 L659.6,305.1 L660.8,307.3 L662.0,309.3 L663.2,311.0 L664.4,312.5 L665.6,313.9 L666.7,315.0 L667.9,315.9 L669.1,316.7 L670.3,317.4 L671.5,317.9 L672.7,318.3 L673.9,318.6 L675.1,318.9 L676.3,319.1" fill="none" stroke="#e8504a" stroke-width="1"/>
<text x="605.0" y="324.4" font-size="3.1" text-anchor="middle" fill="#eee" font-weight="normal" >0.0</text>
<text x="613.0" y="324.4" font-size="3.1" text-anchor="middle" fill="#eee" font-weight="normal" >0.5</text>
<text x="621.0" y="324.4" font-size="3.1" text-anchor="middle" fill="#eee" font-weight="normal" >1.0</text>
<text x="629.0" y="324.4" font-size="3.1" text-anchor="middle" fill="#eee" font-weight="normal" >1.5</text>
<text x="637.0" y="324.4" font-size="3.1" text-anchor="middle" fill="#eee" font-weight="normal" >2.0</text>
<text x="645.0" y="324.4" font-size="3.1" text-anchor="middle" fill="#eee" font-weight="normal" >2.5</text>
<text x="653.0" y="324.4" font-size="3.1" text-anchor="middle" fill="#eee" font-weight="normal" >3.0</text>
<text x="661.0" y="324.4" font-size="3.1" text-anchor="middle" fill="#eee" font-weight="normal" >3.5</text>
<text x="669.0" y="324.4" font-size="3.1" text-anchor="middle" fill="#eee" font-weight="normal" >4.0</text>
<text x="677.0" y="324.4" font-size="3.1" text-anchor="middle" fill="#eee" font-weight="normal" >4.5</text>
<text x="640.0" y="330.0" font-size="3.4" text-anchor="middle" fill="#eee" font-weight="normal" >Size (nm)</text>
<text x="356.6" y="199.3" font-size="10.3" text-anchor="start" fill="#fff" font-weight="bold" >CuRu/MCHS-4</text>
<text x="530.4" y="199.3" font-size="10.3" text-anchor="start" fill="#fff" font-weight="bold" >CuRu/MCHS-11</text>
<text x="444.2" y="339.7" font-size="8.3" text-anchor="start" fill="#fff" font-weight="bold" >1.90 ± 0.48 nm</text>
<text x="622.6" y="339.9" font-size="8.3" text-anchor="start" fill="#fff" font-weight="bold" >2.56 ± 0.77 nm</text>
<text x="356.3" y="335.7" font-size="6.4" text-anchor="start" fill="#fff" font-weight="bold" >50 nm</text>
<text x="530.2" y="335.2" font-size="6.4" text-anchor="start" fill="#fff" font-weight="bold" >50 nm</text>
<rect x="356.6" y="338.8" width="23" height="1.6" fill="#fff"/>
<rect x="530.4" y="338.2" width="20.6" height="1.6" fill="#fff"/>
<text x="1.9" y="359.2" font-size="16.5" text-anchor="start" fill="#1a1a1a" font-weight="normal" >e</text>
<text x="6.9" y="455.8" font-size="16.5" text-anchor="start" fill="#1a1a1a" font-weight="normal" >f</text>
<text transform="translate(33.2,400.5) rotate(-90)" font-size="8.8" text-anchor="middle" fill="#1a1a1a">CuRu/MCHS-4</text>
<text transform="translate(33.2,492) rotate(-90)" font-size="8.8" text-anchor="middle" fill="#1a1a1a">CuRu/MCHS-11</text>
<filter id="dcu" x="0" y="0" width="1" height="1" color-interpolation-filters="sRGB"><feTurbulence type="fractalNoise" baseFrequency="0.87" numOctaves="1" seed="11"/><feColorMatrix type="matrix" values="0 0 0 0 0.247  0 0 0 0 0.627  0 0 0 0 0.627  7 0 0 0 -3.92"/></filter>
<filter id="dcu2" x="0" y="0" width="1" height="1" color-interpolation-filters="sRGB"><feTurbulence type="fractalNoise" baseFrequency="0.87" numOctaves="1" seed="12"/><feColorMatrix type="matrix" values="0 0 0 0 0.247  0 0 0 0 0.627  0 0 0 0 0.627  7 0 0 0 -4.62"/></filter>
<filter id="dru" x="0" y="0" width="1" height="1" color-interpolation-filters="sRGB"><feTurbulence type="fractalNoise" baseFrequency="0.87" numOctaves="1" seed="13"/><feColorMatrix type="matrix" values="0 0 0 0 0.384  0 0 0 0 0.322  0 0 0 0 0.753  7 0 0 0 -3.78"/></filter>
<filter id="dru2" x="0" y="0" width="1" height="1" color-interpolation-filters="sRGB"><feTurbulence type="fractalNoise" baseFrequency="0.87" numOctaves="1" seed="14"/><feColorMatrix type="matrix" values="0 0 0 0 0.384  0 0 0 0 0.322  0 0 0 0 0.753  7 0 0 0 -4.62"/></filter>
<radialGradient id="he"><stop offset="0" stop-color="#727272"/><stop offset="0.5" stop-color="#787878"/><stop offset="0.82" stop-color="#868686"/><stop offset="0.87" stop-color="#bcbcbc"/><stop offset="0.9" stop-color="#e0e0e0"/><stop offset="0.97" stop-color="#e8e8e8"/><stop offset="1" stop-color="#c8c8c8"/></radialGradient>
<radialGradient id="hf"><stop offset="0" stop-color="#6a6a6a"/><stop offset="0.5" stop-color="#7e7e7e"/><stop offset="0.63" stop-color="#aaaaaa"/><stop offset="0.7" stop-color="#e0e0e0"/><stop offset="0.95" stop-color="#eaeaea"/><stop offset="1" stop-color="#c0c0c0"/></radialGradient>
<radialGradient id="ce"><stop offset="0" stop-color="#82400e"/><stop offset="0.6" stop-color="#8a4410"/><stop offset="0.82" stop-color="#9c4c12"/><stop offset="0.87" stop-color="#d46c1c"/><stop offset="0.91" stop-color="#ee7e22"/><stop offset="0.98" stop-color="#f08022"/><stop offset="1" stop-color="#c8641a"/></radialGradient>
<radialGradient id="cf"><stop offset="0" stop-color="#763a0c"/><stop offset="0.5" stop-color="#8a4410"/><stop offset="0.66" stop-color="#c8641a"/><stop offset="0.74" stop-color="#ee7e22"/><stop offset="0.95" stop-color="#f08022"/><stop offset="1" stop-color="#c0601a"/></radialGradient>
<radialGradient id="cue"><stop offset="0" stop-color="#061414"/><stop offset="0.7" stop-color="#081818"/><stop offset="0.9" stop-color="#0b2222"/><stop offset="1" stop-color="#061010"/></radialGradient>
<radialGradient id="cuf"><stop offset="0" stop-color="#071616"/><stop offset="0.6" stop-color="#0a1c1c"/><stop offset="0.88" stop-color="#0f2a2a"/><stop offset="1" stop-color="#061010"/></radialGradient>
<radialGradient id="rue"><stop offset="0" stop-color="#100d26"/><stop offset="0.7" stop-color="#15112e"/><stop offset="0.9" stop-color="#1e1840"/><stop offset="1" stop-color="#100c24"/></radialGradient>
<radialGradient id="ruf"><stop offset="0" stop-color="#1a1540"/><stop offset="0.6" stop-color="#221a50"/><stop offset="0.88" stop-color="#342a7c"/><stop offset="0.96" stop-color="#2c236a"/><stop offset="1" stop-color="#140f30"/></radialGradient>
<clipPath id="e1"><rect x="38.9" y="360.4" width="86.0" height="85.30000000000001"/></clipPath>
<g clip-path="url(#e1)">
<rect x="38.9" y="360.4" width="86.0" height="85.30000000000001" fill="#0c0c0c"/>
<circle cx="82.6" cy="402" r="43" fill="url(#he)" filter="url(#gr2)"/>
</g>
<text x="40.6" y="439.0" font-size="6.6" text-anchor="start" fill="#fff" font-weight="bold" >100 nm</text>
<rect x="40.0" y="440.1" width="34.1" height="2.4" fill="#fff"/>
<clipPath id="e2"><rect x="131.3" y="359" width="86.69999999999999" height="85.69999999999999"/></clipPath>
<g clip-path="url(#e2)">
<rect x="131.3" y="359" width="86.69999999999999" height="85.69999999999999" fill="#140a04"/>
<circle cx="177.3" cy="400.7" r="42" fill="url(#ce)" filter="url(#gr2)"/>
<rect x="131.3" y="359" width="1.4" height="85.69999999999999" fill="#e87820"/>
</g>
<text x="133.7" y="439.0" font-size="6.6" text-anchor="start" fill="#fff" font-weight="bold" >100 nm</text>
<rect x="132.9" y="440.1" width="34.5" height="2.4" fill="#fff"/>
<clipPath id="e3"><rect x="225.3" y="359" width="87.89999999999998" height="85.69999999999999"/></clipPath>
<g clip-path="url(#e3)">
<rect x="225.3" y="359" width="87.89999999999998" height="85.69999999999999" fill="#030606"/>
<rect x="225.3" y="359" width="87.89999999999998" height="85.69999999999999" filter="url(#dcu2)" opacity="0.5"/>
<clipPath id="e3c"><circle cx="270" cy="402" r="43.5"/></clipPath>
<g clip-path="url(#e3c)"><circle cx="270" cy="402" r="43.5" fill="url(#cue)"/><rect x="225.3" y="359" width="87.89999999999998" height="85.69999999999999" filter="url(#dcu)" opacity="0.7"/></g>
<rect x="225.3" y="359" width="1.4" height="85.69999999999999" fill="#5fc8c8"/>
</g>
<text x="231.0" y="439.0" font-size="6.6" text-anchor="start" fill="#fff" font-weight="bold" >100 nm</text>
<rect x="230.1" y="440.1" width="33.7" height="2.4" fill="#fff"/>
<clipPath id="e4"><rect x="319.2" y="359" width="87.80000000000001" height="85.69999999999999"/></clipPath>
<g clip-path="url(#e4)">
<rect x="319.2" y="359" width="87.80000000000001" height="85.69999999999999" fill="#040309"/>
<rect x="319.2" y="359" width="87.80000000000001" height="85.69999999999999" filter="url(#dru2)" opacity="0.5"/>
<clipPath id="e4c"><circle cx="364" cy="401" r="42"/></clipPath>
<g clip-path="url(#e4c)"><circle cx="364" cy="401" r="42" fill="url(#rue)"/><rect x="319.2" y="359" width="87.80000000000001" height="85.69999999999999" filter="url(#dru)" opacity="0.7"/></g>
<rect x="319.2" y="359" width="1.4" height="85.69999999999999" fill="#7a6ad8"/>
</g>
<text x="322.4" y="439.0" font-size="6.6" text-anchor="start" fill="#fff" font-weight="bold" >100 nm</text>
<rect x="322" y="440.1" width="34.2" height="2.4" fill="#fff"/>
<clipPath id="f1"><rect x="37.5" y="454.9" width="87.4" height="85.10000000000002"/></clipPath>
<g clip-path="url(#f1)">
<rect x="37.5" y="454.9" width="87.4" height="85.10000000000002" fill="#0c0c0c"/>
<circle cx="82" cy="496" r="34.7" fill="url(#hf)" filter="url(#gr2)"/>
</g>
<text x="40.3" y="533.0" font-size="6.6" text-anchor="start" fill="#fff" font-weight="bold" >100 nm</text>
<rect x="40.1" y="534.1" width="21" height="2.4" fill="#fff"/>
<clipPath id="f2"><rect x="131" y="453.1" width="87.4" height="86.19999999999993"/></clipPath>
<g clip-path="url(#f2)">
<rect x="131" y="453.1" width="87.4" height="86.19999999999993" fill="#140a04"/>
<circle cx="175" cy="495" r="35" fill="url(#cf)" filter="url(#gr2)"/>
<rect x="131" y="453.1" width="1.4" height="86.19999999999993" fill="#e87820"/>
</g>
<text x="133.3" y="533.0" font-size="6.6" text-anchor="start" fill="#fff" font-weight="bold" >100 nm</text>
<rect x="133.3" y="534.1" width="22.4" height="2.4" fill="#fff"/>
<clipPath id="f3"><rect x="225.2" y="453.4" width="87.10000000000002" height="86.0"/></clipPath>
<g clip-path="url(#f3)">
<rect x="225.2" y="453.4" width="87.10000000000002" height="86.0" fill="#030606"/>
<rect x="225.2" y="453.4" width="87.10000000000002" height="86.0" filter="url(#dcu2)" opacity="0.5"/>
<clipPath id="f3c"><circle cx="272" cy="496" r="34.8"/></clipPath>
<g clip-path="url(#f3c)"><circle cx="272" cy="496" r="34.8" fill="url(#cuf)"/><rect x="225.2" y="453.4" width="87.10000000000002" height="86.0" filter="url(#dcu)" opacity="0.9"/></g>
<rect x="225.2" y="453.4" width="1.4" height="86.0" fill="#5fc8c8"/>
</g>
<text x="228.6" y="533.0" font-size="6.6" text-anchor="start" fill="#fff" font-weight="bold" >100 nm</text>
<rect x="228" y="534.1" width="21.2" height="2.4" fill="#fff"/>
<clipPath id="f4"><rect x="320.6" y="454" width="85.69999999999999" height="85.39999999999998"/></clipPath>
<g clip-path="url(#f4)">
<rect x="320.6" y="454" width="85.69999999999999" height="85.39999999999998" fill="#040309"/>
<rect x="320.6" y="454" width="85.69999999999999" height="85.39999999999998" filter="url(#dru2)" opacity="0.5"/>
<clipPath id="f4c"><circle cx="365.3" cy="496" r="33.5"/></clipPath>
<g clip-path="url(#f4c)"><circle cx="365.3" cy="496" r="33.5" fill="url(#ruf)"/><rect x="320.6" y="454" width="85.69999999999999" height="85.39999999999998" filter="url(#dru)" opacity="0.9"/></g>
<rect x="320.6" y="454" width="1.4" height="85.39999999999998" fill="#7a6ad8"/>
</g>
<text x="323.3" y="533.0" font-size="6.6" text-anchor="start" fill="#fff" font-weight="bold" >100 nm</text>
<rect x="322" y="534.1" width="21.6" height="2.4" fill="#fff"/>
<text x="134.6" y="370.3" font-size="8" text-anchor="start" fill="#f07818" font-weight="bold" >C</text>
<text x="229.5" y="368.0" font-size="8" text-anchor="start" fill="#5fc8c8" font-weight="bold" >Cu</text>
<text x="323.0" y="368.0" font-size="8" text-anchor="start" fill="#7a6ad8" font-weight="bold" >Ru</text>
<text x="6.9" y="552.5" font-size="16.5" text-anchor="start" fill="#1a1a1a" font-weight="normal" >g</text>
<rect x="38.2" y="547.5" width="178.39999999999998" height="178.60000000000002" fill="none" stroke="#222" stroke-width="0.9"/>
<line x1="38.2" y1="726.1" x2="41.2" y2="726.1" stroke="#222" stroke-width="0.8"/>
<text x="34.0" y="727.6" font-size="7.7" text-anchor="end" fill="#1a1a1a" font-weight="normal" >0.0</text>
<line x1="38.2" y1="715.6" x2="39.800000000000004" y2="715.6" stroke="#222" stroke-width="0.8"/>
<line x1="38.2" y1="705.1" x2="41.2" y2="705.1" stroke="#222" stroke-width="0.8"/>
<text x="34.0" y="706.6" font-size="7.7" text-anchor="end" fill="#1a1a1a" font-weight="normal" >0.5</text>
<line x1="38.2" y1="694.6" x2="39.800000000000004" y2="694.6" stroke="#222" stroke-width="0.8"/>
<line x1="38.2" y1="684.1" x2="41.2" y2="684.1" stroke="#222" stroke-width="0.8"/>
<text x="34.0" y="685.6" font-size="7.7" text-anchor="end" fill="#1a1a1a" font-weight="normal" >1.0</text>
<line x1="38.2" y1="673.6" x2="39.800000000000004" y2="673.6" stroke="#222" stroke-width="0.8"/>
<line x1="38.2" y1="663.1" x2="41.2" y2="663.1" stroke="#222" stroke-width="0.8"/>
<text x="34.0" y="664.6" font-size="7.7" text-anchor="end" fill="#1a1a1a" font-weight="normal" >1.5</text>
<line x1="38.2" y1="652.6" x2="39.800000000000004" y2="652.6" stroke="#222" stroke-width="0.8"/>
<line x1="38.2" y1="642.2" x2="41.2" y2="642.2" stroke="#222" stroke-width="0.8"/>
<text x="34.0" y="643.7" font-size="7.7" text-anchor="end" fill="#1a1a1a" font-weight="normal" >2.0</text>
<line x1="38.2" y1="631.7" x2="39.800000000000004" y2="631.7" stroke="#222" stroke-width="0.8"/>
<line x1="38.2" y1="621.2" x2="41.2" y2="621.2" stroke="#222" stroke-width="0.8"/>
<text x="34.0" y="622.7" font-size="7.7" text-anchor="end" fill="#1a1a1a" font-weight="normal" >2.5</text>
<line x1="38.2" y1="610.7" x2="39.800000000000004" y2="610.7" stroke="#222" stroke-width="0.8"/>
<line x1="38.2" y1="600.2" x2="41.2" y2="600.2" stroke="#222" stroke-width="0.8"/>
<text x="34.0" y="601.7" font-size="7.7" text-anchor="end" fill="#1a1a1a" font-weight="normal" >3.0</text>
<line x1="38.2" y1="589.7" x2="39.800000000000004" y2="589.7" stroke="#222" stroke-width="0.8"/>
<line x1="38.2" y1="579.2" x2="41.2" y2="579.2" stroke="#222" stroke-width="0.8"/>
<text x="34.0" y="580.7" font-size="7.7" text-anchor="end" fill="#1a1a1a" font-weight="normal" >3.5</text>
<line x1="38.2" y1="568.7" x2="39.800000000000004" y2="568.7" stroke="#222" stroke-width="0.8"/>
<line x1="38.2" y1="558.2" x2="41.2" y2="558.2" stroke="#222" stroke-width="0.8"/>
<text x="34.0" y="559.7" font-size="7.7" text-anchor="end" fill="#1a1a1a" font-weight="normal" >4.0</text>
<rect x="47.8" y="677.8" width="8.7" height="48.3" fill="#9a9dd3"/>
<g stroke="#8a8a8a" stroke-width="0.7"><line x1="52.1" y1="673.6" x2="52.1" y2="682.0"/><line x1="50.1" y1="673.6" x2="54.1" y2="673.6"/><line x1="50.1" y1="682.0" x2="54.1" y2="682.0"/></g>
<rect x="56.5" y="659.8" width="8.7" height="66.3" fill="#4d81c0"/>
<g stroke="#8a8a8a" stroke-width="0.7"><line x1="60.9" y1="653.5" x2="60.9" y2="666.1"/><line x1="58.9" y1="653.5" x2="62.9" y2="653.5"/><line x1="58.9" y1="666.1" x2="62.9" y2="666.1"/></g>
<rect x="65.2" y="671.5" width="8.7" height="54.6" fill="#a9d2e8"/>
<g stroke="#8a8a8a" stroke-width="0.7"><line x1="69.5" y1="663.1" x2="69.5" y2="679.9"/><line x1="67.5" y1="663.1" x2="71.5" y2="663.1"/><line x1="67.5" y1="679.9" x2="71.5" y2="679.9"/></g>
<rect x="80.4" y="671.5" width="8.7" height="54.6" fill="#9a9dd3"/>
<g stroke="#8a8a8a" stroke-width="0.7"><line x1="84.8" y1="668.6" x2="84.8" y2="674.5"/><line x1="82.8" y1="668.6" x2="86.8" y2="668.6"/><line x1="82.8" y1="674.5" x2="86.8" y2="674.5"/></g>
<rect x="89.1" y="650.1" width="8.7" height="76.0" fill="#4d81c0"/>
<g stroke="#8a8a8a" stroke-width="0.7"><line x1="93.5" y1="647.6" x2="93.5" y2="652.6"/><line x1="91.5" y1="647.6" x2="95.5" y2="647.6"/><line x1="91.5" y1="652.6" x2="95.5" y2="652.6"/></g>
<rect x="97.8" y="661.0" width="8.7" height="65.1" fill="#a9d2e8"/>
<g stroke="#8a8a8a" stroke-width="0.7"><line x1="102.2" y1="654.7" x2="102.2" y2="667.3"/><line x1="100.2" y1="654.7" x2="104.2" y2="654.7"/><line x1="100.2" y1="667.3" x2="104.2" y2="667.3"/></g>
<rect x="113.0" y="663.6" width="8.7" height="62.5" fill="#9a9dd3"/>
<g stroke="#8a8a8a" stroke-width="0.7"><line x1="117.3" y1="660.2" x2="117.3" y2="666.9"/><line x1="115.3" y1="660.2" x2="119.3" y2="660.2"/><line x1="115.3" y1="666.9" x2="119.3" y2="666.9"/></g>
<rect x="121.7" y="622.0" width="8.7" height="104.1" fill="#4d81c0"/>
<g stroke="#8a8a8a" stroke-width="0.7"><line x1="126.0" y1="617.8" x2="126.0" y2="626.2"/><line x1="124.0" y1="617.8" x2="128.1" y2="617.8"/><line x1="124.0" y1="626.2" x2="128.1" y2="626.2"/></g>
<rect x="130.4" y="643.8" width="8.7" height="82.3" fill="#a9d2e8"/>
<g stroke="#8a8a8a" stroke-width="0.7"><line x1="134.8" y1="639.6" x2="134.8" y2="648.0"/><line x1="132.8" y1="639.6" x2="136.8" y2="639.6"/><line x1="132.8" y1="648.0" x2="136.8" y2="648.0"/></g>
<rect x="145.6" y="657.3" width="8.7" height="68.8" fill="#9a9dd3"/>
<g stroke="#8a8a8a" stroke-width="0.7"><line x1="150.0" y1="653.1" x2="150.0" y2="661.5"/><line x1="148.0" y1="653.1" x2="152.0" y2="653.1"/><line x1="148.0" y1="661.5" x2="152.0" y2="661.5"/></g>
<rect x="154.3" y="593.9" width="8.7" height="132.2" fill="#4d81c0"/>
<g stroke="#8a8a8a" stroke-width="0.7"><line x1="158.7" y1="589.7" x2="158.7" y2="598.1"/><line x1="156.7" y1="589.7" x2="160.7" y2="589.7"/><line x1="156.7" y1="598.1" x2="160.7" y2="598.1"/></g>
<rect x="163.0" y="647.2" width="8.7" height="78.9" fill="#a9d2e8"/>
<g stroke="#8a8a8a" stroke-width="0.7"><line x1="167.4" y1="638.0" x2="167.4" y2="656.4"/><line x1="165.4" y1="638.0" x2="169.4" y2="638.0"/><line x1="165.4" y1="656.4" x2="169.4" y2="656.4"/></g>
<rect x="178.2" y="647.6" width="8.7" height="78.5" fill="#9a9dd3"/>
<g stroke="#8a8a8a" stroke-width="0.7"><line x1="182.5" y1="645.5" x2="182.5" y2="649.7"/><line x1="180.5" y1="645.5" x2="184.5" y2="645.5"/><line x1="180.5" y1="649.7" x2="184.5" y2="649.7"/></g>
<rect x="186.9" y="569.1" width="8.7" height="157.0" fill="#4d81c0"/>
<g stroke="#8a8a8a" stroke-width="0.7"><line x1="191.2" y1="558.6" x2="191.2" y2="579.6"/><line x1="189.2" y1="558.6" x2="193.2" y2="558.6"/><line x1="189.2" y1="579.6" x2="193.2" y2="579.6"/></g>
<rect x="195.6" y="622.8" width="8.7" height="103.3" fill="#a9d2e8"/>
<g stroke="#8a8a8a" stroke-width="0.7"><line x1="199.9" y1="618.6" x2="199.9" y2="627.0"/><line x1="197.9" y1="618.6" x2="201.9" y2="618.6"/><line x1="197.9" y1="627.0" x2="201.9" y2="627.0"/></g>
<text x="54.8" y="735.6" font-size="7.7" text-anchor="middle" fill="#1a1a1a" font-weight="normal" >-0.7</text>
<text x="89.9" y="735.6" font-size="7.7" text-anchor="middle" fill="#1a1a1a" font-weight="normal" >-0.8</text>
<text x="122.6" y="735.6" font-size="7.7" text-anchor="middle" fill="#1a1a1a" font-weight="normal" >-0.9</text>
<text x="155.0" y="735.6" font-size="7.7" text-anchor="middle" fill="#1a1a1a" font-weight="normal" >-1.0</text>
<text x="188.0" y="735.6" font-size="7.7" text-anchor="middle" fill="#1a1a1a" font-weight="normal" >-1.1</text>
<text x="126" y="745" font-size="8.8" text-anchor="middle" fill="#1a1a1a">Potential (V <tspan font-style="italic">vs.</tspan> RHE)</text>
<text transform="translate(15.9,637.8) rotate(-90)" font-size="9.2" text-anchor="middle" fill="#1a1a1a">Yield <tspan font-size="5.5" dy="2">Urea</tspan><tspan dy="-2"> (g h</tspan><tspan font-size="5.5" dy="-3">-1</tspan><tspan dy="3"> g</tspan><tspan font-size="5.5" dy="2">cat</tspan><tspan font-size="5.5" dy="-5">-1</tspan><tspan dy="3">)</tspan></text>
<rect x="50" y="553.9" width="13.3" height="6.2" fill="#9a9dd3"/>
<text x="65.5" y="559.5" font-size="7.4" text-anchor="start" fill="#1a1a1a" font-weight="normal" >CuRu/MCHS-4</text>
<rect x="50" y="563.0" width="13.3" height="6.2" fill="#4d81c0"/>
<text x="65.5" y="568.6" font-size="7.4" text-anchor="start" fill="#1a1a1a" font-weight="normal" >CuRu/MCHS-7</text>
<rect x="50" y="572.1" width="13.3" height="6.2" fill="#a9d2e8"/>
<text x="65.5" y="577.7" font-size="7.4" text-anchor="start" fill="#1a1a1a" font-weight="normal" >CuRu/MCHS-11</text>
<text x="237.6" y="558.1" font-size="16.5" text-anchor="start" fill="#1a1a1a" font-weight="normal" >h</text>
<polygon points="327.0,591.8 387.4,635.7 364.3,706.7 289.7,706.7 266.6,635.7" fill="#fff" stroke="#c8c8c8" stroke-width="0.6"/>
<polygon points="327.0,596.2 382.6,637.2 355.0,693.8 291.5,704.1 266.6,635.7" fill="#bcdcec"/>
<polygon points="327.0,616.6 361.4,644.1 343.4,677.9 309.1,680.0 266.6,635.7" fill="#9eaad6" fill-opacity="0.85"/>
<polygon points="327.0,625.8 355.4,646.1 339.7,672.8 309.8,678.9 266.6,635.7" fill="#5b89c6"/>
<polygon points="327.0,648.9 333.0,653.3 330.7,660.4 323.3,660.4 321.0,653.3" fill="none" stroke="#6a7a90" stroke-opacity="0.35" stroke-width="0.5"/>
<polygon points="327.0,642.6 339.1,651.4 334.5,665.6 319.5,665.6 314.9,651.4" fill="none" stroke="#6a7a90" stroke-opacity="0.35" stroke-width="0.5"/>
<polygon points="327.0,636.2 345.1,649.4 338.2,670.7 315.8,670.7 308.9,649.4" fill="none" stroke="#6a7a90" stroke-opacity="0.35" stroke-width="0.5"/>
<polygon points="327.0,629.9 351.2,647.5 341.9,675.8 312.1,675.8 302.8,647.5" fill="none" stroke="#6a7a90" stroke-opacity="0.35" stroke-width="0.5"/>
<polygon points="327.0,623.5 357.2,645.5 345.7,681.0 308.3,681.0 296.8,645.5" fill="none" stroke="#6a7a90" stroke-opacity="0.35" stroke-width="0.5"/>
<polygon points="327.0,617.2 363.2,643.5 349.4,686.1 304.6,686.1 290.8,643.5" fill="none" stroke="#6a7a90" stroke-opacity="0.35" stroke-width="0.5"/>
<polygon points="327.0,610.8 369.3,641.6 353.1,691.3 300.9,691.3 284.7,641.6" fill="none" stroke="#6a7a90" stroke-opacity="0.35" stroke-width="0.5"/>
<polygon points="327.0,604.5 375.3,639.6 356.9,696.4 297.1,696.4 278.7,639.6" fill="none" stroke="#6a7a90" stroke-opacity="0.35" stroke-width="0.5"/>
<polygon points="327.0,598.1 381.4,637.6 360.6,701.5 293.4,701.5 272.6,637.6" fill="none" stroke="#6a7a90" stroke-opacity="0.35" stroke-width="0.5"/>
<line x1="327" y1="655.3" x2="327.0" y2="591.8" stroke="#3a3a48" stroke-width="0.6"/>
<line x1="327" y1="655.3" x2="387.4" y2="635.7" stroke="#3a3a48" stroke-width="0.6"/>
<line x1="327" y1="655.3" x2="364.3" y2="706.7" stroke="#3a3a48" stroke-width="0.6"/>
<line x1="327" y1="655.3" x2="289.7" y2="706.7" stroke="#3a3a48" stroke-width="0.6"/>
<line x1="327" y1="655.3" x2="266.6" y2="635.7" stroke="#3a3a48" stroke-width="0.6"/>
<text x="326.5" y="581.6" font-size="7.2" text-anchor="middle" fill="#1a1a1a">Urea yield (g<tspan font-size="4.5" dy="-2.5">-1</tspan><tspan dy="2.5"> h</tspan><tspan font-size="4.5" dy="-2.5">-1</tspan><tspan dy="2.5"> g</tspan><tspan font-size="4.5" dy="1.5">cat</tspan><tspan font-size="4.5" dy="-4">-1</tspan><tspan dy="2.5">)</tspan></text>
<text x="326.5" y="589.4" font-size="7.2" text-anchor="middle" fill="#1a1a1a" font-weight="normal" >4</text>
<text x="264.2" y="639.0" font-size="6.8" text-anchor="end" fill="#1a1a1a" font-weight="normal" >100</text>
<text x="225" y="630" font-size="7.2" fill="#1a1a1a">C <tspan font-size="4.5" dy="1.5">Selectivity</tspan><tspan dy="-1.5"> (%)</tspan></text>
<text x="389.6" y="637.8" font-size="6.8" text-anchor="start" fill="#1a1a1a" font-weight="normal" >20</text>
<text x="389.6" y="647" font-size="7.2" fill="#1a1a1a">FE <tspan font-size="4.5" dy="1.5">Urea</tspan><tspan dy="-1.5"> (%)</tspan></text>
<text x="362.5" y="713.0" font-size="6.8" text-anchor="start" fill="#1a1a1a" font-weight="normal" >10</text>
<text x="368" y="707" font-size="7.2" fill="#1a1a1a"><tspan font-style="italic">j</tspan> <tspan font-size="4.5" dy="1.5">Urea</tspan><tspan dy="-1.5"> (mA cm</tspan><tspan font-size="4.5" dy="-2.5">-2</tspan><tspan dy="2.5">)</tspan></text>
<text x="286.2" y="713.0" font-size="6.8" text-anchor="start" fill="#1a1a1a" font-weight="normal" >20</text>
<text x="244.5" y="709" font-size="7.2" fill="#1a1a1a">N <tspan font-size="4.5" dy="1.5">Selectivity</tspan><tspan dy="-1.5"> (%)</tspan></text>
<rect x="372.6" y="575.8" width="8" height="4.8" fill="#b2b8e0" stroke="#8a9ac0" stroke-width="0.3"/>
<text x="382.0" y="580.6" font-size="6.6" text-anchor="start" fill="#1a1a1a" font-weight="normal" >CuRu/MCHS-11</text>
<rect x="372.6" y="583.4" width="8" height="4.8" fill="#bcdcec" stroke="#8a9ac0" stroke-width="0.3"/>
<text x="382.0" y="588.2" font-size="6.6" text-anchor="start" fill="#1a1a1a" font-weight="normal" >CuRu/MCHS-7</text>
<rect x="372.6" y="591.0" width="8" height="4.8" fill="#5b89c6" stroke="#8a9ac0" stroke-width="0.3"/>
<text x="382.0" y="595.8" font-size="6.6" text-anchor="start" fill="#1a1a1a" font-weight="normal" >CuRu/MCHS-4</text>
<text x="426.2" y="370.1" font-size="16.5" text-anchor="start" fill="#1a1a1a" font-weight="normal" >i</text>
<rect x="457.4" y="361.8" width="223.5" height="357.40000000000003" fill="none" stroke="#1a1a1a" stroke-width="1.1"/>
<line x1="457.4" y1="433.4" x2="680.9" y2="433.4" stroke="#1a1a1a" stroke-width="1.2"/>
<line x1="457.4" y1="504.2" x2="680.9" y2="504.2" stroke="#1a1a1a" stroke-width="1.2"/>
<line x1="457.4" y1="576.2" x2="680.9" y2="576.2" stroke="#1a1a1a" stroke-width="1.2"/>
<line x1="457.4" y1="647.9" x2="680.9" y2="647.9" stroke="#1a1a1a" stroke-width="1.2"/>
<line x1="457.4" y1="361.8" x2="680.9" y2="361.8" stroke="#555" stroke-width="1.4"/>
<line x1="457.4" y1="433.4" x2="459.9" y2="433.4" stroke="#222" stroke-width="0.7"/>
<text x="453.9" y="434.7" font-size="8" text-anchor="end" fill="#1a1a1a" font-weight="normal" >0</text>
<line x1="457.4" y1="405.0" x2="459.9" y2="405.0" stroke="#222" stroke-width="0.7"/>
<text x="453.9" y="406.3" font-size="8" text-anchor="end" fill="#1a1a1a" font-weight="normal" >10</text>
<line x1="457.4" y1="376.6" x2="459.9" y2="376.6" stroke="#222" stroke-width="0.7"/>
<text x="453.9" y="377.9" font-size="8" text-anchor="end" fill="#1a1a1a" font-weight="normal" >20</text>
<text x="462.5" y="379.8" font-size="7.6" fill="#1a1a1a">CO(NH<tspan font-size="5.5" dy="2">2</tspan><tspan dy="-2">)</tspan><tspan font-size="5.5" dy="2">2</tspan></text>
<rect x="466.2" y="410.1" width="9.0" height="23.3" fill="url(#gp)"/>
<g stroke="#e0706e" stroke-width="0.8"><line x1="470.7" y1="407.8" x2="470.7" y2="412.4"/><line x1="469.1" y1="407.8" x2="472.3" y2="407.8"/><line x1="469.1" y1="412.4" x2="472.3" y2="412.4"/></g>
<rect x="475.2" y="386.0" width="9.0" height="47.4" fill="url(#gb)"/>
<g stroke="#2e6cb8" stroke-width="0.8"><line x1="479.7" y1="382.8" x2="479.7" y2="389.2"/><line x1="478.1" y1="382.8" x2="481.3" y2="382.8"/><line x1="478.1" y1="389.2" x2="481.3" y2="389.2"/></g>
<rect x="484.2" y="402.0" width="9.0" height="31.4" fill="url(#gv)"/>
<g stroke="#5d4a9a" stroke-width="0.8"><line x1="488.7" y1="399.6" x2="488.7" y2="404.3"/><line x1="487.1" y1="399.6" x2="490.3" y2="399.6"/><line x1="487.1" y1="404.3" x2="490.3" y2="404.3"/></g>
<rect x="510.9" y="411.0" width="9.0" height="22.4" fill="url(#gp)"/>
<g stroke="#e0706e" stroke-width="0.8"><line x1="515.4" y1="406.0" x2="515.4" y2="415.9"/><line x1="513.8" y1="406.0" x2="517.0" y2="406.0"/><line x1="513.8" y1="415.9" x2="517.0" y2="415.9"/></g>
<rect x="519.9" y="392.4" width="9.0" height="41.0" fill="url(#gb)"/>
<g stroke="#2e6cb8" stroke-width="0.8"><line x1="524.4" y1="388.0" x2="524.4" y2="396.7"/><line x1="522.8" y1="388.0" x2="526.0" y2="388.0"/><line x1="522.8" y1="396.7" x2="526.0" y2="396.7"/></g>
<rect x="528.9" y="408.1" width="9.0" height="25.3" fill="url(#gv)"/>
<g stroke="#5d4a9a" stroke-width="0.8"><line x1="533.4" y1="405.8" x2="533.4" y2="410.4"/><line x1="531.8" y1="405.8" x2="535.0" y2="405.8"/><line x1="531.8" y1="410.4" x2="535.0" y2="410.4"/></g>
<rect x="555.6" y="412.3" width="9.0" height="21.1" fill="url(#gp)"/>
<g stroke="#e0706e" stroke-width="0.8"><line x1="560.1" y1="410.6" x2="560.1" y2="414.0"/><line x1="558.5" y1="410.6" x2="561.7" y2="410.6"/><line x1="558.5" y1="414.0" x2="561.7" y2="414.0"/></g>
<rect x="564.6" y="395.4" width="9.0" height="38.0" fill="url(#gb)"/>
<g stroke="#2e6cb8" stroke-width="0.8"><line x1="569.1" y1="391.0" x2="569.1" y2="399.8"/><line x1="567.5" y1="391.0" x2="570.7" y2="391.0"/><line x1="567.5" y1="399.8" x2="570.7" y2="399.8"/></g>
<rect x="573.6" y="415.9" width="9.0" height="17.5" fill="url(#gv)"/>
<g stroke="#5d4a9a" stroke-width="0.8"><line x1="578.1" y1="413.0" x2="578.1" y2="418.9"/><line x1="576.5" y1="413.0" x2="579.7" y2="413.0"/><line x1="576.5" y1="418.9" x2="579.7" y2="418.9"/></g>
<rect x="600.3" y="413.9" width="9.0" height="19.5" fill="url(#gp)"/>
<g stroke="#e0706e" stroke-width="0.8"><line x1="604.8" y1="413.6" x2="604.8" y2="414.2"/><line x1="603.2" y1="413.6" x2="606.4" y2="413.6"/><line x1="603.2" y1="414.2" x2="606.4" y2="414.2"/></g>
<rect x="609.3" y="396.4" width="9.0" height="37.0" fill="url(#gb)"/>
<g stroke="#2e6cb8" stroke-width="0.8"><line x1="613.8" y1="395.0" x2="613.8" y2="397.9"/><line x1="612.2" y1="395.0" x2="615.4" y2="395.0"/><line x1="612.2" y1="397.9" x2="615.4" y2="397.9"/></g>
<rect x="618.3" y="409.8" width="9.0" height="23.6" fill="url(#gv)"/>
<g stroke="#5d4a9a" stroke-width="0.8"><line x1="622.8" y1="406.3" x2="622.8" y2="413.3"/><line x1="621.2" y1="406.3" x2="624.4" y2="406.3"/><line x1="621.2" y1="413.3" x2="624.4" y2="413.3"/></g>
<rect x="645.0" y="413.0" width="9.0" height="20.4" fill="url(#gp)"/>
<g stroke="#e0706e" stroke-width="0.8"><line x1="649.5" y1="410.1" x2="649.5" y2="415.9"/><line x1="647.9" y1="410.1" x2="651.1" y2="410.1"/><line x1="647.9" y1="415.9" x2="651.1" y2="415.9"/></g>
<rect x="654.0" y="395.4" width="9.0" height="38.0" fill="url(#gb)"/>
<g stroke="#2e6cb8" stroke-width="0.8"><line x1="658.5" y1="391.0" x2="658.5" y2="399.8"/><line x1="656.9" y1="391.0" x2="660.1" y2="391.0"/><line x1="656.9" y1="399.8" x2="660.1" y2="399.8"/></g>
<rect x="663.0" y="408.2" width="9.0" height="25.2" fill="url(#gv)"/>
<g stroke="#5d4a9a" stroke-width="0.8"><line x1="667.5" y1="405.3" x2="667.5" y2="411.1"/><line x1="665.9" y1="405.3" x2="669.1" y2="405.3"/><line x1="665.9" y1="411.1" x2="669.1" y2="411.1"/></g>
<line x1="457.4" y1="504.1" x2="459.9" y2="504.1" stroke="#222" stroke-width="0.7"/>
<text x="453.9" y="505.4" font-size="8" text-anchor="end" fill="#1a1a1a" font-weight="normal" >0</text>
<line x1="457.4" y1="478.1" x2="459.9" y2="478.1" stroke="#222" stroke-width="0.7"/>
<text x="453.9" y="479.4" font-size="8" text-anchor="end" fill="#1a1a1a" font-weight="normal" >20</text>
<line x1="457.4" y1="452.1" x2="459.9" y2="452.1" stroke="#222" stroke-width="0.7"/>
<text x="453.9" y="453.4" font-size="8" text-anchor="end" fill="#1a1a1a" font-weight="normal" >40</text>
<text x="463" y="441.3" font-size="7.6" fill="#1a1a1a">H<tspan font-size="5.5" dy="2">2</tspan></text>
<rect x="466.2" y="496.8" width="9.0" height="7.3" fill="url(#gp)"/>
<g stroke="#e0706e" stroke-width="0.8"><line x1="470.7" y1="496.3" x2="470.7" y2="497.3"/><line x1="469.1" y1="496.3" x2="472.3" y2="496.3"/><line x1="469.1" y1="497.3" x2="472.3" y2="497.3"/></g>
<rect x="475.2" y="489.2" width="9.0" height="14.9" fill="url(#gb)"/>
<g stroke="#2e6cb8" stroke-width="0.8"><line x1="479.7" y1="488.1" x2="479.7" y2="490.2"/><line x1="478.1" y1="488.1" x2="481.3" y2="488.1"/><line x1="478.1" y1="490.2" x2="481.3" y2="490.2"/></g>
<rect x="484.2" y="485.9" width="9.0" height="18.2" fill="url(#gv)"/>
<g stroke="#5d4a9a" stroke-width="0.8"><line x1="488.7" y1="484.9" x2="488.7" y2="486.9"/><line x1="487.1" y1="484.9" x2="490.3" y2="484.9"/><line x1="487.1" y1="486.9" x2="490.3" y2="486.9"/></g>
<rect x="510.9" y="490.7" width="9.0" height="13.4" fill="url(#gp)"/>
<g stroke="#e0706e" stroke-width="0.8"><line x1="515.4" y1="490.2" x2="515.4" y2="491.2"/><line x1="513.8" y1="490.2" x2="517.0" y2="490.2"/><line x1="513.8" y1="491.2" x2="517.0" y2="491.2"/></g>
<rect x="519.9" y="482.3" width="9.0" height="21.8" fill="url(#gb)"/>
<g stroke="#2e6cb8" stroke-width="0.8"><line x1="524.4" y1="481.5" x2="524.4" y2="483.0"/><line x1="522.8" y1="481.5" x2="526.0" y2="481.5"/><line x1="522.8" y1="483.0" x2="526.0" y2="483.0"/></g>
<rect x="528.9" y="476.9" width="9.0" height="27.2" fill="url(#gv)"/>
<g stroke="#5d4a9a" stroke-width="0.8"><line x1="533.4" y1="475.9" x2="533.4" y2="478.0"/><line x1="531.8" y1="475.9" x2="535.0" y2="475.9"/><line x1="531.8" y1="478.0" x2="535.0" y2="478.0"/></g>
<rect x="555.6" y="490.7" width="9.0" height="13.4" fill="url(#gp)"/>
<g stroke="#e0706e" stroke-width="0.8"><line x1="560.1" y1="490.1" x2="560.1" y2="491.4"/><line x1="558.5" y1="490.1" x2="561.7" y2="490.1"/><line x1="558.5" y1="491.4" x2="561.7" y2="491.4"/></g>
<rect x="564.6" y="472.1" width="9.0" height="32.0" fill="url(#gb)"/>
<g stroke="#2e6cb8" stroke-width="0.8"><line x1="569.1" y1="470.6" x2="569.1" y2="473.7"/><line x1="567.5" y1="470.6" x2="570.7" y2="470.6"/><line x1="567.5" y1="473.7" x2="570.7" y2="473.7"/></g>
<rect x="573.6" y="463.8" width="9.0" height="40.3" fill="url(#gv)"/>
<g stroke="#5d4a9a" stroke-width="0.8"><line x1="578.1" y1="457.3" x2="578.1" y2="470.3"/><line x1="576.5" y1="457.3" x2="579.7" y2="457.3"/><line x1="576.5" y1="470.3" x2="579.7" y2="470.3"/></g>
<rect x="600.3" y="484.6" width="9.0" height="19.5" fill="url(#gp)"/>
<g stroke="#e0706e" stroke-width="0.8"><line x1="604.8" y1="483.8" x2="604.8" y2="485.4"/><line x1="603.2" y1="483.8" x2="606.4" y2="483.8"/><line x1="603.2" y1="485.4" x2="606.4" y2="485.4"/></g>
<rect x="609.3" y="470.3" width="9.0" height="33.8" fill="url(#gb)"/>
<g stroke="#2e6cb8" stroke-width="0.8"><line x1="613.8" y1="469.5" x2="613.8" y2="471.1"/><line x1="612.2" y1="469.5" x2="615.4" y2="469.5"/><line x1="612.2" y1="471.1" x2="615.4" y2="471.1"/></g>
<rect x="618.3" y="452.1" width="9.0" height="52.0" fill="url(#gv)"/>
<g stroke="#5d4a9a" stroke-width="0.8"><line x1="622.8" y1="448.2" x2="622.8" y2="456.0"/><line x1="621.2" y1="448.2" x2="624.4" y2="448.2"/><line x1="621.2" y1="456.0" x2="624.4" y2="456.0"/></g>
<rect x="645.0" y="479.8" width="9.0" height="24.3" fill="url(#gp)"/>
<g stroke="#e0706e" stroke-width="0.8"><line x1="649.5" y1="478.5" x2="649.5" y2="481.1"/><line x1="647.9" y1="478.5" x2="651.1" y2="478.5"/><line x1="647.9" y1="481.1" x2="651.1" y2="481.1"/></g>
<rect x="654.0" y="461.9" width="9.0" height="42.2" fill="url(#gb)"/>
<g stroke="#2e6cb8" stroke-width="0.8"><line x1="658.5" y1="458.6" x2="658.5" y2="465.1"/><line x1="656.9" y1="458.6" x2="660.1" y2="458.6"/><line x1="656.9" y1="465.1" x2="660.1" y2="465.1"/></g>
<rect x="663.0" y="446.9" width="9.0" height="57.2" fill="url(#gv)"/>
<g stroke="#5d4a9a" stroke-width="0.8"><line x1="667.5" y1="445.6" x2="667.5" y2="448.2"/><line x1="665.9" y1="445.6" x2="669.1" y2="445.6"/><line x1="665.9" y1="448.2" x2="669.1" y2="448.2"/></g>
<line x1="457.4" y1="575.6" x2="459.9" y2="575.6" stroke="#222" stroke-width="0.7"/>
<text x="453.9" y="576.9" font-size="8" text-anchor="end" fill="#1a1a1a" font-weight="normal" >0</text>
<line x1="457.4" y1="555.5" x2="459.9" y2="555.5" stroke="#222" stroke-width="0.7"/>
<text x="453.9" y="556.8" font-size="8" text-anchor="end" fill="#1a1a1a" font-weight="normal" >20</text>
<line x1="457.4" y1="535.3" x2="459.9" y2="535.3" stroke="#222" stroke-width="0.7"/>
<text x="453.9" y="536.6" font-size="8" text-anchor="end" fill="#1a1a1a" font-weight="normal" >40</text>
<line x1="457.4" y1="515.1" x2="459.9" y2="515.1" stroke="#222" stroke-width="0.7"/>
<text x="453.9" y="516.4" font-size="8" text-anchor="end" fill="#1a1a1a" font-weight="normal" >60</text>
<text x="460" y="512.3" font-size="7.6" fill="#1a1a1a">NH<tspan font-size="5.5" dy="2">4</tspan><tspan font-size="5.5" dy="-5">+</tspan></text>
<rect x="466.2" y="520.7" width="9.0" height="54.9" fill="url(#gp)"/>
<g stroke="#e0706e" stroke-width="0.8"><line x1="470.7" y1="518.7" x2="470.7" y2="522.7"/><line x1="469.1" y1="518.7" x2="472.3" y2="518.7"/><line x1="469.1" y1="522.7" x2="472.3" y2="522.7"/></g>
<rect x="475.2" y="539.0" width="9.0" height="36.6" fill="url(#gb)"/>
<g stroke="#2e6cb8" stroke-width="0.8"><line x1="479.7" y1="536.0" x2="479.7" y2="542.1"/><line x1="478.1" y1="536.0" x2="481.3" y2="536.0"/><line x1="478.1" y1="542.1" x2="481.3" y2="542.1"/></g>
<rect x="484.2" y="542.7" width="9.0" height="32.9" fill="url(#gv)"/>
<g stroke="#5d4a9a" stroke-width="0.8"><line x1="488.7" y1="538.6" x2="488.7" y2="546.7"/><line x1="487.1" y1="538.6" x2="490.3" y2="538.6"/><line x1="487.1" y1="546.7" x2="490.3" y2="546.7"/></g>
<rect x="510.9" y="516.8" width="9.0" height="58.8" fill="url(#gp)"/>
<g stroke="#e0706e" stroke-width="0.8"><line x1="515.4" y1="515.3" x2="515.4" y2="518.3"/><line x1="513.8" y1="515.3" x2="517.0" y2="515.3"/><line x1="513.8" y1="518.3" x2="517.0" y2="518.3"/></g>
<rect x="519.9" y="538.0" width="9.0" height="37.6" fill="url(#gb)"/>
<g stroke="#2e6cb8" stroke-width="0.8"><line x1="524.4" y1="536.0" x2="524.4" y2="540.0"/><line x1="522.8" y1="536.0" x2="526.0" y2="536.0"/><line x1="522.8" y1="540.0" x2="526.0" y2="540.0"/></g>
<rect x="528.9" y="531.1" width="9.0" height="44.5" fill="url(#gv)"/>
<g stroke="#5d4a9a" stroke-width="0.8"><line x1="533.4" y1="529.6" x2="533.4" y2="532.6"/><line x1="531.8" y1="529.6" x2="535.0" y2="529.6"/><line x1="531.8" y1="532.6" x2="535.0" y2="532.6"/></g>
<rect x="555.6" y="523.7" width="9.0" height="51.9" fill="url(#gp)"/>
<g stroke="#e0706e" stroke-width="0.8"><line x1="560.1" y1="520.7" x2="560.1" y2="526.7"/><line x1="558.5" y1="520.7" x2="561.7" y2="520.7"/><line x1="558.5" y1="526.7" x2="561.7" y2="526.7"/></g>
<rect x="564.6" y="541.0" width="9.0" height="34.6" fill="url(#gb)"/>
<g stroke="#2e6cb8" stroke-width="0.8"><line x1="569.1" y1="539.5" x2="569.1" y2="542.6"/><line x1="567.5" y1="539.5" x2="570.7" y2="539.5"/><line x1="567.5" y1="542.6" x2="570.7" y2="542.6"/></g>
<rect x="573.6" y="537.6" width="9.0" height="38.0" fill="url(#gv)"/>
<g stroke="#5d4a9a" stroke-width="0.8"><line x1="578.1" y1="536.6" x2="578.1" y2="538.6"/><line x1="576.5" y1="536.6" x2="579.7" y2="536.6"/><line x1="576.5" y1="538.6" x2="579.7" y2="538.6"/></g>
<rect x="600.3" y="515.4" width="9.0" height="60.2" fill="url(#gp)"/>
<g stroke="#e0706e" stroke-width="0.8"><line x1="604.8" y1="513.8" x2="604.8" y2="516.9"/><line x1="603.2" y1="513.8" x2="606.4" y2="513.8"/><line x1="603.2" y1="516.9" x2="606.4" y2="516.9"/></g>
<rect x="609.3" y="545.0" width="9.0" height="30.6" fill="url(#gb)"/>
<g stroke="#2e6cb8" stroke-width="0.8"><line x1="613.8" y1="543.0" x2="613.8" y2="547.0"/><line x1="612.2" y1="543.0" x2="615.4" y2="543.0"/><line x1="612.2" y1="547.0" x2="615.4" y2="547.0"/></g>
<rect x="618.3" y="534.9" width="9.0" height="40.7" fill="url(#gv)"/>
<g stroke="#5d4a9a" stroke-width="0.8"><line x1="622.8" y1="532.4" x2="622.8" y2="537.4"/><line x1="621.2" y1="532.4" x2="624.4" y2="532.4"/><line x1="621.2" y1="537.4" x2="624.4" y2="537.4"/></g>
<rect x="645.0" y="514.9" width="9.0" height="60.7" fill="url(#gp)"/>
<g stroke="#e0706e" stroke-width="0.8"><line x1="649.5" y1="512.9" x2="649.5" y2="517.0"/><line x1="647.9" y1="512.9" x2="651.1" y2="512.9"/><line x1="647.9" y1="517.0" x2="651.1" y2="517.0"/></g>
<rect x="654.0" y="533.0" width="9.0" height="42.6" fill="url(#gb)"/>
<g stroke="#2e6cb8" stroke-width="0.8"><line x1="658.5" y1="531.5" x2="658.5" y2="534.5"/><line x1="656.9" y1="531.5" x2="660.1" y2="531.5"/><line x1="656.9" y1="534.5" x2="660.1" y2="534.5"/></g>
<rect x="663.0" y="534.5" width="9.0" height="41.1" fill="url(#gv)"/>
<g stroke="#5d4a9a" stroke-width="0.8"><line x1="667.5" y1="534.0" x2="667.5" y2="535.0"/><line x1="665.9" y1="534.0" x2="669.1" y2="534.0"/><line x1="665.9" y1="535.0" x2="669.1" y2="535.0"/></g>
<line x1="457.4" y1="647.6" x2="459.9" y2="647.6" stroke="#222" stroke-width="0.7"/>
<text x="453.9" y="648.9" font-size="8" text-anchor="end" fill="#1a1a1a" font-weight="normal" >0</text>
<line x1="457.4" y1="627.4" x2="459.9" y2="627.4" stroke="#222" stroke-width="0.7"/>
<text x="453.9" y="628.7" font-size="8" text-anchor="end" fill="#1a1a1a" font-weight="normal" >10</text>
<line x1="457.4" y1="607.2" x2="459.9" y2="607.2" stroke="#222" stroke-width="0.7"/>
<text x="453.9" y="608.5" font-size="8" text-anchor="end" fill="#1a1a1a" font-weight="normal" >20</text>
<line x1="457.4" y1="587.0" x2="459.9" y2="587.0" stroke="#222" stroke-width="0.7"/>
<text x="453.9" y="588.3" font-size="8" text-anchor="end" fill="#1a1a1a" font-weight="normal" >30</text>
<text x="459.8" y="584.3" font-size="7.6" fill="#1a1a1a">NO<tspan font-size="5.5" dy="2">2</tspan><tspan font-size="5.5" dy="-5">—</tspan></text>
<rect x="466.2" y="610.4" width="9.0" height="37.2" fill="url(#gp)"/>
<g stroke="#e0706e" stroke-width="0.8"><line x1="470.7" y1="605.4" x2="470.7" y2="615.5"/><line x1="469.1" y1="605.4" x2="472.3" y2="605.4"/><line x1="469.1" y1="615.5" x2="472.3" y2="615.5"/></g>
<rect x="475.2" y="614.3" width="9.0" height="33.3" fill="url(#gb)"/>
<g stroke="#2e6cb8" stroke-width="0.8"><line x1="479.7" y1="612.2" x2="479.7" y2="616.3"/><line x1="478.1" y1="612.2" x2="481.3" y2="612.2"/><line x1="478.1" y1="616.3" x2="481.3" y2="616.3"/></g>
<rect x="484.2" y="600.7" width="9.0" height="46.9" fill="url(#gv)"/>
<g stroke="#5d4a9a" stroke-width="0.8"><line x1="488.7" y1="598.1" x2="488.7" y2="603.4"/><line x1="487.1" y1="598.1" x2="490.3" y2="598.1"/><line x1="487.1" y1="603.4" x2="490.3" y2="603.4"/></g>
<rect x="510.9" y="607.6" width="9.0" height="40.0" fill="url(#gp)"/>
<g stroke="#e0706e" stroke-width="0.8"><line x1="515.4" y1="604.6" x2="515.4" y2="610.6"/><line x1="513.8" y1="604.6" x2="517.0" y2="604.6"/><line x1="513.8" y1="610.6" x2="517.0" y2="610.6"/></g>
<rect x="519.9" y="611.4" width="9.0" height="36.2" fill="url(#gb)"/>
<g stroke="#2e6cb8" stroke-width="0.8"><line x1="524.4" y1="607.4" x2="524.4" y2="615.5"/><line x1="522.8" y1="607.4" x2="526.0" y2="607.4"/><line x1="522.8" y1="615.5" x2="526.0" y2="615.5"/></g>
<rect x="528.9" y="608.4" width="9.0" height="39.2" fill="url(#gv)"/>
<g stroke="#5d4a9a" stroke-width="0.8"><line x1="533.4" y1="605.8" x2="533.4" y2="611.0"/><line x1="531.8" y1="605.8" x2="535.0" y2="605.8"/><line x1="531.8" y1="611.0" x2="535.0" y2="611.0"/></g>
<rect x="555.6" y="615.5" width="9.0" height="32.1" fill="url(#gp)"/>
<g stroke="#e0706e" stroke-width="0.8"><line x1="560.1" y1="614.5" x2="560.1" y2="616.5"/><line x1="558.5" y1="614.5" x2="561.7" y2="614.5"/><line x1="558.5" y1="616.5" x2="561.7" y2="616.5"/></g>
<rect x="564.6" y="616.1" width="9.0" height="31.5" fill="url(#gb)"/>
<g stroke="#2e6cb8" stroke-width="0.8"><line x1="569.1" y1="612.7" x2="569.1" y2="619.5"/><line x1="567.5" y1="612.7" x2="570.7" y2="612.7"/><line x1="567.5" y1="619.5" x2="570.7" y2="619.5"/></g>
<rect x="573.6" y="614.3" width="9.0" height="33.3" fill="url(#gv)"/>
<g stroke="#5d4a9a" stroke-width="0.8"><line x1="578.1" y1="613.3" x2="578.1" y2="615.3"/><line x1="576.5" y1="613.3" x2="579.7" y2="613.3"/><line x1="576.5" y1="615.3" x2="579.7" y2="615.3"/></g>
<rect x="600.3" y="621.9" width="9.0" height="25.7" fill="url(#gp)"/>
<g stroke="#e0706e" stroke-width="0.8"><line x1="604.8" y1="619.9" x2="604.8" y2="624.0"/><line x1="603.2" y1="619.9" x2="606.4" y2="619.9"/><line x1="603.2" y1="624.0" x2="606.4" y2="624.0"/></g>
<rect x="609.3" y="625.0" width="9.0" height="22.6" fill="url(#gb)"/>
<g stroke="#2e6cb8" stroke-width="0.8"><line x1="613.8" y1="622.4" x2="613.8" y2="627.6"/><line x1="612.2" y1="622.4" x2="615.4" y2="622.4"/><line x1="612.2" y1="627.6" x2="615.4" y2="627.6"/></g>
<rect x="618.3" y="619.9" width="9.0" height="27.7" fill="url(#gv)"/>
<g stroke="#5d4a9a" stroke-width="0.8"><line x1="622.8" y1="617.9" x2="622.8" y2="621.9"/><line x1="621.2" y1="617.9" x2="624.4" y2="617.9"/><line x1="621.2" y1="621.9" x2="624.4" y2="621.9"/></g>
<rect x="645.0" y="619.9" width="9.0" height="27.7" fill="url(#gp)"/>
<g stroke="#e0706e" stroke-width="0.8"><line x1="649.5" y1="616.9" x2="649.5" y2="623.0"/><line x1="647.9" y1="616.9" x2="651.1" y2="616.9"/><line x1="647.9" y1="623.0" x2="651.1" y2="623.0"/></g>
<rect x="654.0" y="626.8" width="9.0" height="20.8" fill="url(#gb)"/>
<g stroke="#2e6cb8" stroke-width="0.8"><line x1="658.5" y1="624.8" x2="658.5" y2="628.8"/><line x1="656.9" y1="624.8" x2="660.1" y2="624.8"/><line x1="656.9" y1="628.8" x2="660.1" y2="628.8"/></g>
<rect x="663.0" y="621.9" width="9.0" height="25.7" fill="url(#gv)"/>
<g stroke="#5d4a9a" stroke-width="0.8"><line x1="667.5" y1="617.9" x2="667.5" y2="626.0"/><line x1="665.9" y1="617.9" x2="669.1" y2="617.9"/><line x1="665.9" y1="626.0" x2="669.1" y2="626.0"/></g>
<line x1="457.4" y1="719.1" x2="459.9" y2="719.1" stroke="#222" stroke-width="0.7"/>
<text x="453.9" y="720.4" font-size="8" text-anchor="end" fill="#1a1a1a" font-weight="normal" >0</text>
<line x1="457.4" y1="690.8" x2="459.9" y2="690.8" stroke="#222" stroke-width="0.7"/>
<text x="453.9" y="692.1" font-size="8" text-anchor="end" fill="#1a1a1a" font-weight="normal" >1</text>
<line x1="457.4" y1="662.5" x2="459.9" y2="662.5" stroke="#222" stroke-width="0.7"/>
<text x="453.9" y="663.8" font-size="8" text-anchor="end" fill="#1a1a1a" font-weight="normal" >2</text>
<text x="459.9" y="656.4" font-size="7.6" fill="#1a1a1a">CH<tspan font-size="5.5" dy="2">4</tspan></text>
<rect x="466.2" y="707.7" width="9.0" height="11.4" fill="url(#gp)"/>
<g stroke="#e0706e" stroke-width="0.8"><line x1="470.7" y1="703.4" x2="470.7" y2="711.9"/><line x1="469.1" y1="703.4" x2="472.3" y2="703.4"/><line x1="469.1" y1="711.9" x2="472.3" y2="711.9"/></g>
<rect x="475.2" y="691.4" width="9.0" height="27.7" fill="url(#gb)"/>
<g stroke="#2e6cb8" stroke-width="0.8"><line x1="479.7" y1="689.4" x2="479.7" y2="693.4"/><line x1="478.1" y1="689.4" x2="481.3" y2="689.4"/><line x1="478.1" y1="693.4" x2="481.3" y2="693.4"/></g>
<rect x="484.2" y="707.7" width="9.0" height="11.4" fill="url(#gv)"/>
<g stroke="#5d4a9a" stroke-width="0.8"><line x1="488.7" y1="704.8" x2="488.7" y2="710.5"/><line x1="487.1" y1="704.8" x2="490.3" y2="704.8"/><line x1="487.1" y1="710.5" x2="490.3" y2="710.5"/></g>
<rect x="510.9" y="694.8" width="9.0" height="24.3" fill="url(#gp)"/>
<g stroke="#e0706e" stroke-width="0.8"><line x1="515.4" y1="690.5" x2="515.4" y2="699.1"/><line x1="513.8" y1="690.5" x2="517.0" y2="690.5"/><line x1="513.8" y1="699.1" x2="517.0" y2="699.1"/></g>
<rect x="519.9" y="701.9" width="9.0" height="17.2" fill="url(#gb)"/>
<g stroke="#2e6cb8" stroke-width="0.8"><line x1="524.4" y1="686.2" x2="524.4" y2="717.7"/><line x1="522.8" y1="686.2" x2="526.0" y2="686.2"/><line x1="522.8" y1="717.7" x2="526.0" y2="717.7"/></g>
<rect x="528.9" y="709.1" width="9.0" height="10.0" fill="url(#gv)"/>
<g stroke="#5d4a9a" stroke-width="0.8"><line x1="533.4" y1="706.2" x2="533.4" y2="712.0"/><line x1="531.8" y1="706.2" x2="535.0" y2="706.2"/><line x1="531.8" y1="712.0" x2="535.0" y2="712.0"/></g>
<rect x="555.6" y="695.6" width="9.0" height="23.5" fill="url(#gp)"/>
<g stroke="#e0706e" stroke-width="0.8"><line x1="560.1" y1="690.5" x2="560.1" y2="700.8"/><line x1="558.5" y1="690.5" x2="561.7" y2="690.5"/><line x1="558.5" y1="700.8" x2="561.7" y2="700.8"/></g>
<rect x="564.6" y="678.2" width="9.0" height="40.9" fill="url(#gb)"/>
<g stroke="#2e6cb8" stroke-width="0.8"><line x1="569.1" y1="673.3" x2="569.1" y2="683.1"/><line x1="567.5" y1="673.3" x2="570.7" y2="673.3"/><line x1="567.5" y1="683.1" x2="570.7" y2="683.1"/></g>
<rect x="573.6" y="705.7" width="9.0" height="13.4" fill="url(#gv)"/>
<g stroke="#5d4a9a" stroke-width="0.8"><line x1="578.1" y1="699.9" x2="578.1" y2="711.4"/><line x1="576.5" y1="699.9" x2="579.7" y2="699.9"/><line x1="576.5" y1="711.4" x2="579.7" y2="711.4"/></g>
<rect x="600.3" y="699.7" width="9.0" height="19.4" fill="url(#gp)"/>
<g stroke="#e0706e" stroke-width="0.8"><line x1="604.8" y1="695.4" x2="604.8" y2="703.9"/><line x1="603.2" y1="695.4" x2="606.4" y2="695.4"/><line x1="603.2" y1="703.9" x2="606.4" y2="703.9"/></g>
<rect x="609.3" y="703.4" width="9.0" height="15.7" fill="url(#gb)"/>
<g stroke="#2e6cb8" stroke-width="0.8"><line x1="613.8" y1="701.4" x2="613.8" y2="705.4"/><line x1="612.2" y1="701.4" x2="615.4" y2="701.4"/><line x1="612.2" y1="705.4" x2="615.4" y2="705.4"/></g>
<rect x="618.3" y="703.9" width="9.0" height="15.2" fill="url(#gv)"/>
<g stroke="#5d4a9a" stroke-width="0.8"><line x1="622.8" y1="700.5" x2="622.8" y2="707.4"/><line x1="621.2" y1="700.5" x2="624.4" y2="700.5"/><line x1="621.2" y1="707.4" x2="624.4" y2="707.4"/></g>
<rect x="645.0" y="703.4" width="9.0" height="15.7" fill="url(#gp)"/>
<g stroke="#e0706e" stroke-width="0.8"><line x1="649.5" y1="700.5" x2="649.5" y2="706.2"/><line x1="647.9" y1="700.5" x2="651.1" y2="700.5"/><line x1="647.9" y1="706.2" x2="651.1" y2="706.2"/></g>
<rect x="654.0" y="707.7" width="9.0" height="11.4" fill="url(#gb)"/>
<g stroke="#2e6cb8" stroke-width="0.8"><line x1="658.5" y1="706.2" x2="658.5" y2="709.1"/><line x1="656.9" y1="706.2" x2="660.1" y2="706.2"/><line x1="656.9" y1="709.1" x2="660.1" y2="709.1"/></g>
<rect x="663.0" y="709.1" width="9.0" height="10.0" fill="url(#gv)"/>
<g stroke="#5d4a9a" stroke-width="0.8"><line x1="667.5" y1="706.2" x2="667.5" y2="712.0"/><line x1="665.9" y1="706.2" x2="669.1" y2="706.2"/><line x1="665.9" y1="712.0" x2="669.1" y2="712.0"/></g>
<rect x="460" y="363.2" width="8" height="6.8" fill="url(#gp)"/>
<text x="473.5" y="369.2" font-size="8.1" text-anchor="start" fill="#1a1a1a" font-weight="normal" >CuRu/MCHS-4</text>
<rect x="535.6" y="363.2" width="8" height="6.8" fill="url(#gb)"/>
<text x="547.3" y="369.2" font-size="8.1" text-anchor="start" fill="#1a1a1a" font-weight="normal" >CuRu/MCHS-7</text>
<rect x="607.8" y="363.2" width="8" height="6.8" fill="url(#gv)"/>
<text x="619.8" y="369.2" font-size="8.1" text-anchor="start" fill="#1a1a1a" font-weight="normal" >CuRu/MCHS-11</text>
<text x="480.3" y="729.2" font-size="8.3" text-anchor="middle" fill="#1a1a1a" font-weight="normal" >−0.7</text>
<text x="524.8" y="729.2" font-size="8.3" text-anchor="middle" fill="#1a1a1a" font-weight="normal" >−0.8</text>
<text x="569.0" y="729.2" font-size="8.3" text-anchor="middle" fill="#1a1a1a" font-weight="normal" >−0.9</text>
<text x="615.6" y="729.2" font-size="8.3" text-anchor="middle" fill="#1a1a1a" font-weight="normal" >−1</text>
<text x="658.6" y="729.2" font-size="8.3" text-anchor="middle" fill="#1a1a1a" font-weight="normal" >−1.1</text>
<text x="567.3" y="739.6" font-size="9" text-anchor="middle" fill="#1a1a1a">Potential (V <tspan font-style="italic">vs.</tspan> RHE)</text>
<text transform="translate(439.6,539.7) rotate(-90)" font-size="8.9" text-anchor="middle" fill="#1a1a1a">Faradaic efficiency (%)</text>
</svg></body></html>
